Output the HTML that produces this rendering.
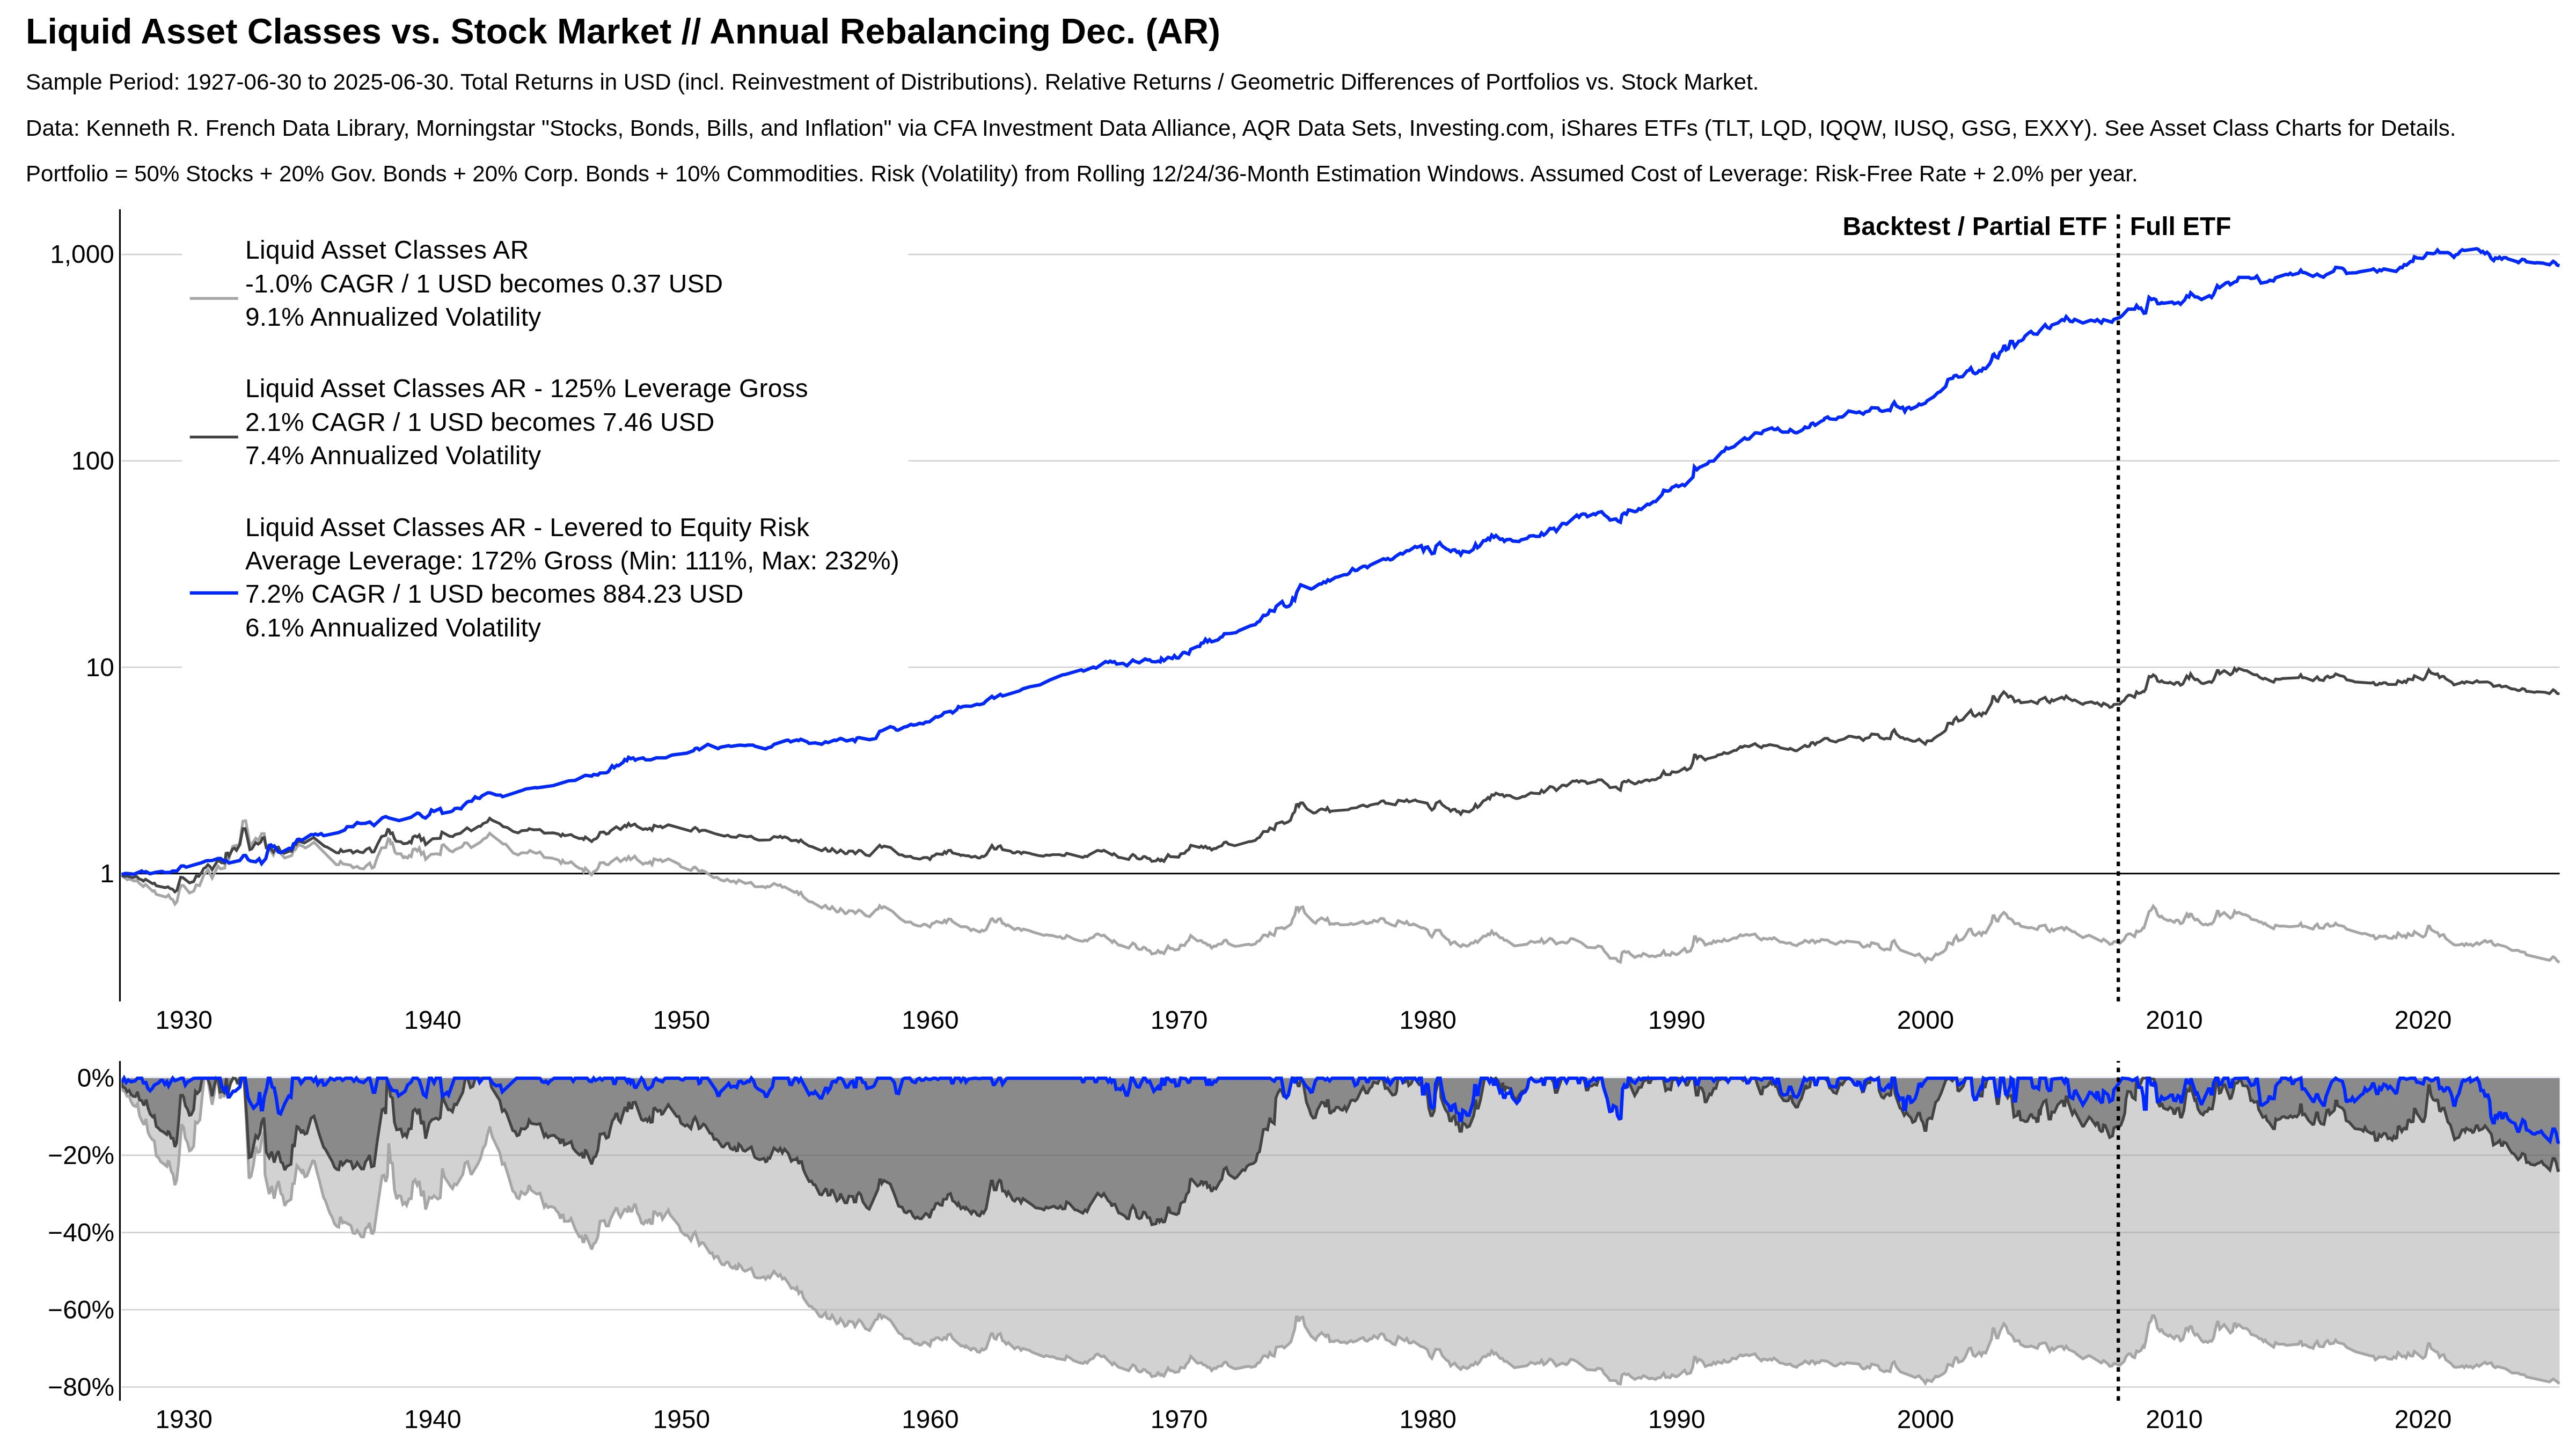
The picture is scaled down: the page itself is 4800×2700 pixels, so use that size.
<!DOCTYPE html>
<html><head><meta charset="utf-8"><title>Liquid Asset Classes vs. Stock Market</title>
<style>html,body{margin:0;padding:0;background:#fff}svg{display:block}</style></head>
<body>
<svg xmlns="http://www.w3.org/2000/svg" width="4800" height="2700" viewBox="0 0 4800 2700">
<rect width="4800" height="2700" fill="#fff"/>
<line x1="226.2" x2="4769.6" y1="474.1" y2="474.1" stroke="#d1d1d1" stroke-width="2.6"/>
<line x1="226.2" x2="4769.6" y1="858.7" y2="858.7" stroke="#d1d1d1" stroke-width="2.6"/>
<line x1="226.2" x2="4769.6" y1="1243.2" y2="1243.2" stroke="#d1d1d1" stroke-width="2.6"/>
<line x1="226.2" x2="4769.6" y1="1627.8" y2="1627.8" stroke="#000" stroke-width="3.1"/>
<clipPath id="cu"><rect x="226.2" y="390" width="4543.900000000001" height="1476"/></clipPath>
<g clip-path="url(#cu)" fill="none" stroke-linejoin="miter" stroke-miterlimit="2.5">
<path d="M226.2,1631.6 L237.5,1639.4 L240.6,1637.2 L250.0,1641.6 L254.7,1640.0 L259.4,1645.6 L267.2,1651.9 L271.2,1647.8 L284.4,1660.6 L287.5,1659.7 L291.2,1666.6 L309.4,1671.6 L314.1,1667.5 L318.1,1674.7 L321.9,1676.2 L325.9,1684.7 L329.7,1680.0 L334.4,1658.1 L337.5,1649.4 L342.2,1650.3 L353.1,1663.8 L360.9,1660.6 L365.6,1648.8 L371.9,1650.3 L379.7,1630.6 L387.5,1620.6 L395.3,1636.2 L406.2,1613.8 L410.9,1619.1 L418.8,1617.5 L421.2,1595.6 L426.6,1600.3 L433.8,1576.9 L440.0,1575.3 L442.2,1580.0 L446.9,1569.1 L452.5,1530.0 L457.8,1529.4 L461.9,1551.9 L466.2,1576.9 L476.6,1561.9 L481.2,1565.9 L487.5,1553.4 L492.2,1553.4 L496.2,1578.4 L504.7,1586.2 L509.4,1593.1 L513.4,1583.1 L518.8,1586.2 L525.0,1592.5 L530.6,1598.8 L543.8,1594.1 L548.4,1579.4 L550.6,1582.5 L556.2,1573.8 L564.1,1576.9 L568.8,1580.0 L575.0,1576.9 L585.0,1569.1 L626.6,1611.2 L631.2,1611.2 L634.4,1605.0 L639.1,1609.7 L653.1,1611.9 L657.8,1616.9 L665.6,1614.4 L670.3,1618.1 L677.5,1619.1 L682.8,1612.8 L689.1,1608.1 L693.1,1617.5 L696.9,1615.9 L703.1,1597.2 L710.9,1580.0 L718.8,1579.4 L723.4,1562.8 L726.6,1564.4 L728.1,1572.2 L731.2,1570.6 L735.9,1587.8 L739.1,1590.9 L746.9,1590.9 L751.6,1598.1 L754.7,1596.2 L759.4,1598.8 L762.5,1594.1 L766.2,1596.2 L769.4,1583.1 L773.4,1581.6 L777.5,1585.6 L781.2,1580.0 L785.0,1591.9 L789.1,1587.8 L793.1,1601.2 L803.1,1591.9 L814.1,1590.9 L820.3,1592.5 L823.4,1575.3 L826.6,1573.8 L837.5,1584.7 L843.8,1587.2 L848.4,1583.1 L860.9,1577.8 L865.6,1570.6 L870.3,1570.6 L878.1,1579.4 L895.3,1569.1 L901.6,1562.8 L906.2,1561.2 L912.5,1552.5 L918.8,1558.1 L931.2,1567.5 L937.5,1572.8 L942.2,1572.8 L956.2,1589.4 L965.6,1593.1 L971.9,1588.8 L982.8,1589.4 L987.5,1584.7 L995.3,1588.8 L1000.0,1590.0 L1006.2,1587.5 L1014.1,1597.8 L1028.1,1598.8 L1040.6,1602.5 L1045.3,1608.8 L1048.4,1603.1 L1052.5,1608.1 L1059.4,1608.1 L1064.1,1605.6 L1072.5,1613.4 L1079.7,1618.1 L1084.4,1618.8 L1087.5,1624.4 L1090.6,1617.5 L1102.5,1630.0 L1106.2,1624.4 L1110.9,1622.2 L1114.1,1618.1 L1118.1,1607.8 L1125.0,1607.2 L1129.7,1611.2 L1133.8,1611.2 L1137.5,1607.2 L1149.4,1598.4 L1156.2,1605.6 L1164.1,1599.4 L1167.2,1602.5 L1171.2,1596.2 L1175.0,1601.9 L1182.8,1595.3 L1187.5,1601.9 L1198.4,1610.3 L1203.1,1607.8 L1206.9,1608.8 L1210.9,1605.6 L1215.0,1611.2 L1218.8,1600.3 L1226.6,1603.1 L1230.6,1601.6 L1234.4,1605.6 L1245.3,1600.3 L1265.6,1610.3 L1268.8,1615.0 L1287.5,1622.2 L1292.2,1616.6 L1295.3,1615.6 L1299.4,1619.7 L1303.1,1624.4 L1307.8,1621.9 L1314.1,1624.4 L1329.7,1635.3 L1335.9,1634.7 L1342.2,1639.4 L1350.0,1641.6 L1354.7,1638.4 L1361.9,1643.1 L1367.2,1641.6 L1371.9,1645.6 L1376.6,1640.0 L1389.1,1646.2 L1399.4,1644.1 L1406.2,1651.9 L1410.0,1652.5 L1421.9,1651.9 L1426.6,1654.1 L1429.7,1651.6 L1433.8,1652.5 L1442.2,1646.2 L1450.0,1650.0 L1453.8,1648.8 L1457.8,1653.4 L1461.9,1652.5 L1480.6,1662.8 L1485.0,1661.2 L1488.1,1666.6 L1492.2,1662.8 L1496.9,1671.2 L1507.8,1680.0 L1512.5,1680.6 L1531.2,1691.6 L1538.1,1686.9 L1543.1,1693.1 L1546.9,1693.8 L1550.6,1689.4 L1559.4,1699.4 L1562.5,1698.8 L1566.2,1693.1 L1571.2,1697.8 L1575.0,1702.5 L1578.1,1701.6 L1581.9,1696.9 L1589.1,1697.2 L1593.8,1701.9 L1600.6,1695.6 L1604.7,1697.8 L1613.1,1706.2 L1620.3,1707.8 L1632.8,1694.7 L1635.9,1694.1 L1639.1,1687.8 L1643.1,1692.2 L1647.5,1689.4 L1662.5,1697.8 L1677.5,1711.9 L1686.9,1718.1 L1696.9,1718.1 L1701.6,1722.2 L1709.4,1725.0 L1715.6,1725.9 L1721.2,1722.2 L1725.0,1722.8 L1732.8,1727.5 L1736.9,1720.6 L1740.0,1720.3 L1745.3,1716.6 L1752.5,1719.1 L1756.2,1719.7 L1760.0,1715.0 L1763.1,1719.1 L1767.2,1712.5 L1771.2,1712.5 L1775.0,1717.2 L1781.2,1721.2 L1790.6,1726.9 L1793.8,1726.6 L1800.0,1726.9 L1804.7,1729.1 L1809.4,1733.8 L1813.1,1731.2 L1825.6,1736.9 L1829.7,1733.1 L1832.8,1734.7 L1837.5,1732.2 L1846.9,1712.5 L1849.4,1711.9 L1853.1,1717.5 L1856.2,1718.1 L1860.0,1712.8 L1864.1,1711.9 L1868.1,1720.6 L1871.2,1721.2 L1875.0,1725.0 L1878.1,1723.4 L1890.6,1732.2 L1895.3,1729.7 L1899.4,1730.0 L1903.1,1733.8 L1906.9,1731.2 L1912.5,1732.8 L1917.2,1733.8 L1923.4,1736.2 L1937.5,1740.6 L1945.3,1743.1 L1949.4,1741.6 L1956.2,1743.1 L1960.9,1743.1 L1970.3,1746.2 L1975.6,1745.3 L1979.7,1748.8 L1983.8,1748.4 L1987.5,1743.1 L1994.4,1746.2 L2000.0,1749.4 L2009.4,1752.5 L2017.8,1754.1 L2021.9,1751.6 L2025.6,1753.4 L2030.6,1748.8 L2037.5,1746.2 L2041.2,1741.6 L2045.3,1740.0 L2052.5,1743.8 L2056.9,1742.5 L2065.6,1750.0 L2069.4,1752.5 L2072.5,1756.2 L2075.6,1752.5 L2084.4,1761.2 L2087.5,1761.2 L2103.1,1766.6 L2110.9,1757.2 L2115.0,1759.7 L2118.8,1766.6 L2122.8,1769.1 L2126.6,1769.1 L2130.6,1765.0 L2133.8,1765.9 L2138.1,1770.6 L2142.2,1771.2 L2146.2,1777.5 L2154.1,1775.9 L2157.8,1771.2 L2161.9,1775.3 L2164.1,1773.8 L2168.8,1776.9 L2176.6,1762.8 L2180.6,1767.5 L2184.4,1767.2 L2189.1,1770.3 L2196.2,1769.1 L2200.0,1760.9 L2207.2,1761.9 L2210.9,1755.6 L2215.0,1751.9 L2218.8,1743.1 L2231.2,1753.4 L2238.4,1752.5 L2242.2,1756.6 L2246.2,1757.2 L2250.0,1760.9 L2253.8,1760.9 L2257.8,1766.6 L2261.9,1762.8 L2265.6,1763.4 L2269.7,1759.4 L2276.6,1758.8 L2281.2,1752.5 L2285.0,1751.9 L2289.1,1758.1 L2293.8,1760.3 L2300.9,1763.4 L2309.4,1762.5 L2320.3,1760.3 L2327.5,1759.4 L2331.2,1760.9 L2339.1,1758.8 L2343.1,1754.1 L2346.9,1753.1 L2354.1,1742.5 L2357.8,1742.2 L2362.5,1744.7 L2366.2,1737.8 L2370.3,1741.6 L2374.4,1743.1 L2378.1,1730.0 L2389.1,1728.4 L2393.1,1730.6 L2405.6,1722.2 L2408.8,1711.9 L2412.5,1705.6 L2415.6,1690.9 L2418.1,1690.9 L2420.3,1697.2 L2423.4,1691.6 L2427.5,1690.0 L2431.2,1700.9 L2435.3,1705.6 L2447.5,1718.1 L2451.6,1720.3 L2454.7,1715.6 L2462.5,1710.3 L2470.3,1715.0 L2473.4,1711.2 L2478.1,1722.2 L2481.2,1721.2 L2485.3,1722.2 L2489.1,1720.6 L2493.1,1720.6 L2497.8,1723.4 L2512.5,1722.8 L2517.2,1720.6 L2521.2,1722.8 L2528.1,1721.2 L2540.0,1716.6 L2543.8,1720.3 L2547.8,1721.2 L2553.1,1718.8 L2556.2,1718.8 L2560.0,1715.0 L2567.2,1717.5 L2571.2,1712.5 L2574.4,1711.2 L2578.1,1711.9 L2582.2,1718.8 L2585.9,1719.7 L2593.8,1723.8 L2597.8,1725.0 L2600.0,1725.6 L2605.6,1715.6 L2617.2,1720.9 L2621.2,1717.2 L2625.6,1723.4 L2629.7,1723.4 L2633.8,1721.6 L2648.4,1728.8 L2652.5,1728.8 L2659.4,1732.5 L2664.1,1742.2 L2668.1,1745.9 L2675.0,1733.4 L2682.8,1733.4 L2687.5,1742.2 L2695.3,1749.1 L2699.4,1751.6 L2703.1,1759.4 L2706.9,1756.2 L2710.9,1754.7 L2715.0,1759.4 L2721.9,1764.1 L2725.9,1760.0 L2733.8,1763.1 L2737.5,1760.9 L2741.2,1756.9 L2745.3,1757.5 L2749.4,1753.1 L2753.1,1756.2 L2757.2,1751.6 L2764.1,1744.4 L2768.8,1744.4 L2772.8,1740.3 L2775.9,1741.9 L2779.7,1735.0 L2783.8,1741.2 L2787.5,1739.1 L2795.3,1747.5 L2799.4,1747.5 L2803.1,1752.2 L2807.2,1752.2 L2821.9,1762.5 L2845.3,1759.4 L2852.5,1753.8 L2860.9,1756.2 L2865.0,1754.4 L2868.8,1755.3 L2872.5,1750.0 L2876.6,1757.5 L2880.6,1755.3 L2888.1,1748.4 L2892.2,1750.0 L2900.0,1759.1 L2904.7,1756.9 L2910.9,1755.3 L2918.8,1757.5 L2922.8,1754.4 L2926.6,1749.1 L2930.6,1749.1 L2946.2,1756.2 L2957.8,1765.3 L2972.8,1766.2 L2977.5,1762.5 L2984.4,1764.1 L2989.1,1771.9 L2995.3,1778.8 L3000.0,1785.6 L3010.9,1785.6 L3015.0,1791.2 L3019.4,1792.8 L3022.5,1775.0 L3026.6,1772.5 L3030.6,1774.7 L3034.4,1773.4 L3038.4,1778.1 L3046.2,1784.1 L3053.8,1780.3 L3057.8,1781.9 L3061.9,1776.6 L3065.6,1777.8 L3073.4,1782.5 L3077.5,1780.9 L3085.0,1782.8 L3089.1,1780.3 L3093.8,1780.3 L3100.0,1771.9 L3103.8,1779.7 L3107.8,1778.8 L3111.9,1780.3 L3115.6,1774.7 L3123.4,1778.8 L3127.5,1777.2 L3139.1,1767.2 L3143.1,1774.1 L3150.0,1771.9 L3154.1,1762.5 L3157.2,1745.3 L3159.4,1745.3 L3162.5,1753.8 L3166.2,1749.1 L3169.7,1750.6 L3173.4,1753.8 L3177.5,1760.9 L3185.9,1757.5 L3189.1,1758.4 L3193.1,1753.1 L3196.9,1755.9 L3200.6,1753.1 L3208.8,1754.7 L3212.5,1750.0 L3216.6,1753.1 L3220.3,1753.1 L3231.2,1747.5 L3235.3,1748.4 L3243.1,1741.9 L3246.9,1743.8 L3254.7,1741.2 L3258.8,1742.8 L3270.3,1740.3 L3274.4,1745.9 L3282.2,1751.6 L3285.9,1748.4 L3293.8,1750.0 L3297.8,1748.4 L3301.6,1750.0 L3305.6,1746.9 L3317.2,1755.3 L3321.2,1755.3 L3328.1,1757.5 L3335.9,1756.9 L3340.0,1760.0 L3347.8,1762.2 L3351.6,1759.1 L3359.4,1755.9 L3363.4,1752.2 L3371.2,1756.2 L3375.0,1752.2 L3378.1,1752.2 L3382.2,1756.9 L3385.9,1753.8 L3390.0,1754.4 L3393.8,1750.6 L3400.0,1751.6 L3405.6,1751.6 L3409.4,1755.0 L3421.2,1759.7 L3429.7,1754.1 L3433.8,1755.6 L3436.9,1756.6 L3440.6,1753.4 L3464.1,1756.2 L3468.1,1761.2 L3471.9,1765.0 L3475.9,1764.1 L3479.7,1760.9 L3483.8,1763.4 L3487.5,1756.6 L3499.4,1759.4 L3503.1,1765.9 L3510.9,1770.3 L3515.0,1768.1 L3521.9,1769.7 L3525.9,1755.0 L3529.7,1752.5 L3533.8,1761.2 L3541.2,1770.3 L3568.8,1780.6 L3575.9,1777.5 L3579.7,1782.2 L3583.8,1785.3 L3587.5,1791.6 L3591.2,1785.3 L3599.4,1788.4 L3607.2,1777.5 L3610.9,1779.1 L3621.9,1772.8 L3625.6,1769.1 L3629.7,1756.6 L3634.4,1757.8 L3638.4,1759.7 L3641.2,1750.3 L3645.3,1744.1 L3649.4,1753.1 L3656.9,1750.3 L3661.9,1744.1 L3668.8,1731.6 L3672.5,1731.2 L3676.6,1740.9 L3680.6,1743.1 L3688.1,1736.9 L3692.2,1742.5 L3695.3,1736.9 L3700.0,1738.4 L3710.9,1719.1 L3713.4,1706.6 L3715.6,1706.2 L3720.3,1715.9 L3722.8,1716.6 L3726.6,1708.1 L3733.8,1700.0 L3738.1,1703.4 L3742.2,1710.9 L3746.2,1711.9 L3750.0,1715.0 L3754.1,1721.2 L3761.9,1720.6 L3765.6,1725.9 L3780.6,1729.1 L3784.4,1728.1 L3796.2,1732.2 L3800.0,1725.9 L3810.9,1723.8 L3815.0,1732.2 L3819.4,1736.2 L3823.4,1731.2 L3826.6,1734.7 L3830.6,1731.6 L3842.2,1728.1 L3846.2,1732.8 L3850.0,1728.1 L3861.9,1736.2 L3865.6,1736.2 L3869.7,1740.0 L3881.2,1747.2 L3892.2,1742.5 L3896.9,1744.7 L3915.6,1754.1 L3919.7,1750.0 L3927.5,1755.6 L3931.2,1759.7 L3935.3,1758.8 L3939.1,1754.7 L3942.8,1754.7 L3950.0,1757.8 L3957.8,1750.9 L3961.9,1743.1 L3966.2,1740.0 L3969.7,1740.0 L3977.5,1745.3 L3981.2,1734.7 L3985.0,1736.2 L3989.1,1734.7 L3993.1,1729.1 L3995.0,1729.1 L3998.1,1719.1 L4004.4,1698.8 L4008.4,1695.6 L4012.2,1688.4 L4016.9,1694.1 L4020.6,1705.0 L4024.7,1708.8 L4027.8,1707.2 L4031.9,1711.9 L4040.3,1715.6 L4043.4,1714.1 L4051.2,1718.8 L4055.3,1714.4 L4059.1,1715.0 L4063.1,1721.2 L4067.5,1719.1 L4070.9,1710.9 L4074.7,1703.1 L4078.8,1710.3 L4080.3,1703.4 L4083.4,1703.4 L4086.6,1709.7 L4090.3,1714.4 L4094.4,1712.8 L4102.2,1721.2 L4105.9,1723.4 L4110.0,1721.9 L4113.8,1723.8 L4117.8,1721.2 L4120.9,1721.9 L4124.7,1717.5 L4128.8,1707.2 L4131.6,1697.8 L4133.4,1697.8 L4136.2,1706.6 L4144.4,1700.3 L4155.9,1710.9 L4160.0,1708.1 L4163.8,1697.8 L4167.5,1701.9 L4171.6,1700.0 L4179.4,1704.1 L4183.4,1704.1 L4191.2,1707.8 L4195.0,1712.8 L4205.3,1715.0 L4210.0,1718.1 L4213.8,1718.1 L4217.8,1721.9 L4220.6,1720.3 L4224.7,1724.4 L4236.6,1730.6 L4240.3,1723.8 L4248.1,1725.9 L4252.8,1725.3 L4267.5,1726.9 L4283.1,1725.3 L4287.2,1720.3 L4290.3,1726.9 L4295.0,1725.9 L4302.8,1729.1 L4310.0,1731.2 L4313.8,1725.3 L4317.8,1721.9 L4321.6,1729.1 L4329.4,1729.7 L4333.1,1723.4 L4337.2,1721.2 L4341.2,1725.9 L4348.1,1725.0 L4352.2,1720.3 L4355.9,1723.8 L4366.9,1725.9 L4372.5,1731.2 L4401.2,1740.0 L4405.9,1739.1 L4418.4,1743.8 L4422.5,1743.1 L4426.2,1749.4 L4430.3,1747.8 L4434.1,1744.1 L4437.2,1745.3 L4445.0,1744.1 L4449.7,1747.8 L4456.9,1748.8 L4460.6,1744.7 L4464.7,1747.2 L4468.4,1738.4 L4476.2,1745.3 L4480.0,1743.1 L4483.4,1746.9 L4487.2,1739.4 L4491.9,1743.1 L4495.9,1743.1 L4498.8,1735.9 L4514.7,1746.2 L4519.4,1743.1 L4524.7,1725.9 L4527.2,1725.9 L4530.0,1732.2 L4537.8,1736.9 L4541.9,1737.8 L4545.9,1744.7 L4549.7,1742.2 L4553.4,1741.6 L4557.5,1748.8 L4568.4,1757.2 L4572.5,1760.3 L4576.2,1761.2 L4584.1,1760.3 L4588.1,1758.8 L4591.9,1761.9 L4595.6,1758.1 L4599.7,1760.9 L4603.8,1759.4 L4607.5,1762.5 L4615.3,1756.6 L4619.4,1759.7 L4630.3,1752.5 L4634.1,1755.6 L4641.9,1753.4 L4645.9,1759.7 L4649.7,1761.9 L4653.8,1759.7 L4669.4,1764.1 L4680.9,1771.2 L4691.9,1770.6 L4696.6,1773.4 L4704.4,1774.4 L4707.5,1779.1 L4750.6,1789.4 L4757.5,1782.8 L4761.2,1785.3 L4765.3,1790.9 L4769.4,1793.1" stroke="#a6a6a6" stroke-width="5.2"/>
<path d="M226.2,1630.6 L231.2,1633.1 L237.5,1632.5 L246.9,1635.3 L254.7,1633.1 L259.4,1637.8 L264.1,1639.4 L267.2,1641.9 L271.2,1638.4 L284.4,1646.6 L287.5,1645.6 L291.2,1650.3 L307.8,1654.1 L313.1,1652.5 L317.2,1655.9 L321.2,1656.6 L325.9,1661.9 L329.7,1658.8 L336.6,1634.7 L340.6,1635.3 L353.1,1645.0 L360.9,1642.5 L365.6,1632.2 L370.3,1633.1 L375.0,1626.9 L379.7,1618.1 L382.8,1616.6 L387.5,1611.2 L391.2,1614.4 L395.3,1620.6 L406.2,1602.5 L412.5,1607.5 L418.8,1608.1 L421.2,1590.0 L424.4,1589.4 L426.6,1595.0 L433.8,1581.6 L436.9,1580.6 L440.6,1584.7 L446.9,1573.8 L452.5,1544.1 L456.9,1544.1 L460.9,1561.2 L465.6,1583.1 L469.4,1581.6 L476.6,1570.0 L481.2,1573.1 L485.9,1569.1 L489.1,1561.2 L492.2,1560.6 L496.2,1580.0 L504.7,1581.6 L509.4,1587.8 L514.1,1579.4 L518.8,1578.4 L522.5,1586.2 L529.7,1590.0 L539.1,1586.2 L543.8,1586.2 L548.4,1573.8 L551.6,1573.8 L554.7,1567.5 L559.4,1568.4 L567.2,1570.6 L584.4,1560.6 L604.7,1576.9 L609.4,1578.4 L626.6,1588.8 L631.2,1589.4 L635.0,1583.1 L639.1,1587.2 L650.0,1584.7 L653.8,1584.7 L657.8,1589.4 L665.6,1585.3 L670.3,1587.8 L676.6,1588.8 L682.8,1582.5 L688.4,1580.0 L693.1,1587.8 L696.9,1587.2 L703.1,1573.8 L710.9,1558.8 L718.8,1556.6 L722.5,1545.6 L725.0,1546.2 L727.5,1553.4 L731.2,1551.9 L735.0,1562.8 L738.1,1567.5 L746.9,1568.4 L751.6,1572.2 L759.4,1571.2 L763.1,1568.1 L766.2,1570.6 L769.4,1559.7 L773.4,1557.5 L777.5,1559.7 L781.2,1555.9 L785.0,1565.9 L789.1,1562.2 L793.1,1573.8 L806.2,1562.8 L820.3,1562.2 L823.4,1550.3 L837.5,1558.1 L843.8,1558.8 L848.4,1555.0 L857.8,1552.8 L870.3,1542.5 L878.1,1548.1 L892.2,1539.4 L895.3,1540.0 L900.0,1534.7 L907.8,1531.6 L912.5,1524.7 L917.2,1528.4 L931.2,1534.7 L937.5,1540.3 L945.3,1541.9 L956.2,1549.4 L965.6,1551.9 L971.9,1547.8 L982.8,1547.2 L985.9,1544.1 L993.8,1546.2 L1000.0,1546.2 L1006.2,1545.6 L1014.1,1552.5 L1031.2,1551.9 L1040.6,1554.1 L1045.3,1558.1 L1048.4,1554.1 L1052.5,1557.2 L1064.1,1555.0 L1069.4,1558.8 L1079.7,1562.5 L1084.4,1561.9 L1087.5,1564.4 L1090.6,1559.4 L1102.5,1568.1 L1106.2,1564.4 L1110.9,1562.8 L1114.1,1559.4 L1118.1,1550.9 L1125.0,1550.3 L1129.7,1554.1 L1133.8,1553.1 L1137.5,1548.4 L1148.4,1540.6 L1156.2,1545.6 L1164.1,1537.8 L1167.2,1540.6 L1171.2,1534.4 L1175.0,1539.1 L1182.8,1535.3 L1187.5,1540.0 L1198.4,1545.6 L1203.1,1544.1 L1206.2,1545.6 L1210.9,1543.1 L1215.0,1547.2 L1218.8,1537.8 L1226.6,1540.6 L1230.6,1539.4 L1234.4,1542.5 L1245.3,1536.9 L1265.6,1542.5 L1287.5,1548.8 L1292.2,1543.8 L1295.3,1541.9 L1299.4,1544.7 L1303.1,1549.4 L1307.8,1547.2 L1314.1,1547.2 L1334.4,1554.1 L1350.0,1558.1 L1356.2,1556.2 L1361.9,1559.4 L1371.9,1560.3 L1377.5,1556.2 L1392.2,1559.4 L1399.4,1558.1 L1406.2,1562.8 L1414.1,1565.6 L1434.4,1565.0 L1442.2,1558.8 L1450.0,1560.3 L1453.8,1558.1 L1457.8,1561.2 L1461.9,1559.4 L1467.2,1561.2 L1474.4,1566.6 L1483.8,1565.6 L1488.1,1568.8 L1492.2,1565.0 L1496.9,1569.7 L1507.8,1576.6 L1512.5,1577.5 L1531.2,1585.3 L1538.1,1580.6 L1543.1,1586.2 L1546.9,1585.9 L1550.6,1581.2 L1559.4,1589.1 L1562.5,1587.5 L1566.2,1583.8 L1571.2,1587.5 L1575.0,1590.9 L1578.1,1590.6 L1581.9,1585.9 L1589.1,1585.9 L1593.8,1590.9 L1600.6,1584.4 L1604.7,1585.3 L1613.1,1593.1 L1620.3,1594.7 L1639.1,1575.0 L1643.1,1579.1 L1647.5,1576.6 L1659.4,1579.1 L1675.0,1592.5 L1681.2,1593.1 L1686.9,1596.2 L1696.9,1595.6 L1701.6,1598.8 L1714.1,1600.9 L1721.2,1597.8 L1728.1,1597.8 L1732.8,1601.6 L1736.9,1595.3 L1740.0,1594.7 L1745.3,1590.9 L1756.2,1592.2 L1760.0,1586.9 L1763.1,1590.0 L1767.2,1584.7 L1771.2,1584.4 L1775.0,1589.4 L1787.5,1592.2 L1790.6,1594.1 L1793.8,1593.1 L1800.0,1594.7 L1804.7,1594.7 L1810.0,1597.2 L1817.2,1595.6 L1821.9,1598.4 L1825.6,1598.8 L1829.7,1595.6 L1832.8,1596.2 L1837.5,1593.1 L1848.4,1575.3 L1853.1,1582.2 L1856.2,1582.2 L1860.0,1577.5 L1864.1,1575.9 L1868.1,1583.1 L1882.8,1585.9 L1887.5,1589.4 L1891.2,1589.4 L1895.3,1586.9 L1899.4,1587.5 L1903.1,1590.6 L1906.9,1587.8 L1918.8,1590.0 L1923.4,1591.6 L1937.5,1594.7 L1944.4,1595.3 L1949.4,1593.1 L1956.2,1593.8 L1960.9,1592.5 L1975.0,1592.5 L1979.7,1594.1 L1983.8,1594.1 L1987.5,1590.0 L2003.1,1594.1 L2017.8,1597.8 L2021.9,1595.3 L2025.6,1596.2 L2030.6,1592.2 L2045.3,1584.4 L2052.5,1586.2 L2056.9,1584.4 L2068.8,1590.9 L2072.5,1593.1 L2075.6,1590.6 L2084.4,1597.8 L2087.5,1597.8 L2103.1,1601.6 L2107.8,1594.7 L2110.9,1592.2 L2115.0,1594.7 L2118.8,1599.4 L2122.8,1600.9 L2126.6,1600.3 L2130.6,1596.2 L2133.8,1596.2 L2138.1,1599.4 L2142.2,1600.0 L2146.2,1605.0 L2154.1,1604.1 L2157.8,1600.3 L2161.9,1604.1 L2164.1,1601.6 L2168.8,1605.0 L2176.6,1592.5 L2180.6,1596.2 L2196.2,1597.2 L2200.0,1590.9 L2207.2,1590.0 L2210.9,1585.3 L2215.0,1583.1 L2218.8,1575.0 L2235.0,1579.1 L2238.4,1576.6 L2242.2,1579.7 L2246.2,1576.9 L2250.0,1580.6 L2253.8,1579.7 L2257.8,1583.8 L2261.9,1581.2 L2265.6,1581.2 L2269.7,1578.4 L2276.6,1575.9 L2281.2,1569.7 L2285.0,1569.1 L2289.1,1572.8 L2300.9,1575.9 L2328.1,1568.1 L2331.2,1568.1 L2339.1,1565.9 L2343.1,1561.9 L2346.9,1560.3 L2354.1,1549.4 L2362.5,1549.4 L2366.2,1542.5 L2374.4,1546.2 L2378.1,1534.7 L2389.1,1531.2 L2393.1,1534.4 L2400.0,1531.6 L2404.7,1528.4 L2408.8,1516.6 L2412.5,1512.8 L2415.6,1499.4 L2418.1,1498.8 L2420.3,1502.5 L2423.4,1496.2 L2427.5,1496.2 L2435.3,1507.2 L2447.5,1515.0 L2451.6,1514.4 L2458.8,1508.8 L2462.5,1507.2 L2470.3,1509.4 L2473.4,1505.0 L2478.1,1512.8 L2481.2,1511.2 L2512.5,1508.8 L2517.2,1506.2 L2528.1,1505.0 L2532.8,1502.5 L2540.0,1500.0 L2543.8,1501.9 L2547.8,1503.1 L2553.1,1500.3 L2564.1,1497.8 L2567.2,1497.8 L2574.4,1492.5 L2578.1,1492.2 L2582.2,1496.9 L2585.9,1496.9 L2597.8,1499.4 L2600.0,1499.7 L2605.6,1491.2 L2617.2,1493.4 L2621.2,1490.3 L2625.6,1494.4 L2636.9,1490.6 L2640.6,1492.8 L2659.4,1496.6 L2664.1,1504.7 L2668.1,1509.4 L2672.5,1505.9 L2675.9,1496.6 L2682.8,1492.8 L2687.5,1499.7 L2695.3,1505.3 L2699.4,1506.9 L2703.1,1511.6 L2706.9,1508.4 L2710.9,1507.8 L2715.0,1512.5 L2718.1,1512.2 L2721.9,1517.2 L2725.9,1510.9 L2737.5,1513.1 L2745.3,1507.5 L2749.4,1499.1 L2753.1,1504.7 L2757.2,1501.2 L2764.1,1492.2 L2768.8,1490.3 L2772.8,1485.9 L2775.9,1488.8 L2779.7,1480.9 L2783.8,1481.9 L2787.5,1477.8 L2795.3,1481.2 L2799.4,1480.3 L2803.1,1484.4 L2807.2,1481.9 L2814.1,1482.5 L2818.8,1485.6 L2825.6,1488.1 L2830.6,1487.2 L2837.5,1484.1 L2841.2,1484.1 L2852.5,1477.2 L2857.8,1478.1 L2868.8,1478.8 L2872.5,1472.5 L2876.6,1476.6 L2880.6,1473.4 L2888.1,1465.6 L2892.2,1466.2 L2895.3,1467.8 L2900.0,1473.1 L2910.9,1463.1 L2915.0,1463.1 L2918.8,1464.7 L2930.6,1455.3 L2934.4,1455.9 L2938.1,1454.4 L2942.2,1457.5 L2946.2,1454.7 L2954.1,1456.2 L2957.8,1460.0 L2969.7,1456.9 L2972.8,1456.9 L2977.5,1453.1 L2984.4,1453.1 L2989.1,1457.5 L2995.3,1462.2 L3000.0,1467.8 L3010.9,1466.2 L3015.0,1470.0 L3019.4,1472.5 L3022.5,1458.4 L3026.6,1455.9 L3030.6,1456.9 L3034.4,1453.8 L3038.4,1456.9 L3046.2,1460.9 L3050.0,1459.4 L3053.8,1456.2 L3057.8,1457.8 L3065.6,1453.8 L3069.7,1453.1 L3073.4,1455.3 L3077.5,1452.8 L3085.0,1452.8 L3089.1,1450.0 L3093.8,1448.4 L3100.0,1437.2 L3103.8,1443.4 L3111.9,1443.4 L3115.6,1438.1 L3123.4,1439.1 L3127.5,1438.1 L3139.1,1430.9 L3143.1,1435.0 L3150.0,1431.2 L3154.1,1421.6 L3157.2,1406.9 L3159.4,1406.9 L3162.5,1413.1 L3166.2,1409.1 L3169.7,1409.1 L3177.5,1416.2 L3181.2,1413.8 L3196.9,1410.0 L3200.6,1406.9 L3208.8,1405.3 L3212.5,1402.2 L3216.6,1403.8 L3220.3,1403.8 L3231.2,1398.4 L3235.3,1398.1 L3243.1,1391.2 L3246.9,1392.2 L3250.9,1389.7 L3258.8,1391.2 L3270.3,1385.6 L3274.4,1389.1 L3282.2,1393.4 L3285.9,1389.7 L3290.6,1389.7 L3297.8,1387.5 L3312.5,1390.3 L3317.2,1393.4 L3332.2,1396.6 L3335.9,1394.4 L3343.8,1398.4 L3347.8,1399.1 L3363.4,1388.8 L3367.2,1391.2 L3371.2,1390.6 L3375.0,1384.1 L3378.1,1383.4 L3382.2,1387.5 L3385.9,1383.4 L3390.0,1382.8 L3400.0,1375.9 L3405.6,1375.9 L3409.4,1379.7 L3421.2,1382.8 L3425.6,1379.7 L3432.8,1378.1 L3436.9,1376.6 L3444.7,1371.9 L3448.4,1371.9 L3459.4,1374.4 L3464.1,1373.4 L3471.9,1379.7 L3475.9,1375.9 L3482.8,1374.4 L3487.5,1367.8 L3499.4,1368.8 L3503.1,1374.4 L3510.9,1377.2 L3515.0,1375.6 L3521.9,1376.6 L3525.9,1364.1 L3529.7,1360.0 L3533.8,1367.8 L3541.2,1374.1 L3545.3,1374.4 L3549.4,1377.5 L3553.1,1376.6 L3564.1,1381.2 L3568.8,1381.2 L3575.9,1377.2 L3579.7,1380.6 L3587.5,1386.6 L3591.2,1380.3 L3599.4,1380.3 L3603.1,1376.6 L3610.9,1370.9 L3615.0,1368.8 L3622.8,1363.4 L3625.6,1360.3 L3629.7,1347.8 L3634.4,1347.5 L3638.4,1349.1 L3641.2,1341.2 L3645.3,1336.9 L3649.4,1343.8 L3656.9,1341.2 L3661.9,1335.3 L3672.5,1323.4 L3676.6,1332.8 L3680.6,1335.0 L3688.1,1329.1 L3692.2,1333.4 L3695.3,1328.1 L3700.0,1329.7 L3710.9,1310.0 L3713.4,1297.8 L3715.6,1297.8 L3720.3,1306.2 L3722.8,1307.2 L3726.6,1298.4 L3733.8,1289.1 L3738.1,1293.1 L3742.2,1299.1 L3746.2,1296.9 L3750.0,1299.4 L3754.1,1307.8 L3761.9,1304.7 L3765.6,1309.4 L3780.6,1307.8 L3784.4,1306.2 L3796.2,1310.9 L3800.0,1304.7 L3810.9,1299.4 L3815.0,1306.2 L3819.4,1309.4 L3823.4,1303.8 L3826.6,1306.2 L3830.6,1303.8 L3842.2,1299.1 L3846.2,1302.5 L3850.0,1296.9 L3853.8,1300.6 L3861.9,1305.6 L3865.6,1304.1 L3877.5,1310.9 L3881.2,1312.5 L3885.0,1310.0 L3896.9,1307.8 L3903.8,1310.9 L3907.8,1309.4 L3915.6,1315.6 L3919.7,1310.3 L3927.5,1314.1 L3931.2,1318.1 L3935.3,1317.2 L3939.1,1312.5 L3950.0,1311.9 L3954.7,1307.2 L3957.8,1305.6 L3961.9,1299.1 L3966.2,1295.3 L3969.7,1295.3 L3977.5,1299.4 L3981.2,1289.1 L3985.0,1292.2 L3989.1,1291.2 L3993.1,1288.4 L3995.0,1288.8 L3998.1,1284.1 L4004.4,1260.3 L4009.1,1261.2 L4012.2,1257.5 L4016.9,1260.6 L4020.6,1269.1 L4024.7,1270.6 L4027.8,1268.4 L4031.9,1271.6 L4040.3,1272.8 L4043.4,1271.2 L4051.2,1275.3 L4055.3,1271.6 L4059.1,1271.6 L4063.1,1276.9 L4067.5,1274.4 L4074.7,1259.7 L4078.8,1264.4 L4081.9,1255.6 L4086.6,1262.8 L4090.3,1266.6 L4094.4,1265.9 L4102.2,1273.1 L4105.9,1273.8 L4116.9,1270.0 L4120.9,1271.6 L4124.7,1266.6 L4131.6,1249.4 L4133.4,1249.4 L4136.2,1255.6 L4144.4,1249.7 L4148.1,1251.9 L4155.9,1257.5 L4160.0,1254.4 L4163.8,1245.6 L4167.5,1250.3 L4171.6,1245.6 L4182.5,1249.7 L4186.2,1249.7 L4198.1,1256.6 L4202.2,1257.5 L4205.3,1257.2 L4210.0,1261.9 L4216.9,1265.3 L4220.6,1263.8 L4232.5,1269.7 L4236.6,1271.2 L4240.3,1265.3 L4248.1,1265.9 L4252.8,1264.4 L4283.1,1262.8 L4287.2,1257.2 L4290.3,1262.8 L4295.0,1262.8 L4310.0,1268.4 L4317.8,1261.2 L4321.6,1266.6 L4329.4,1268.1 L4333.1,1262.2 L4337.2,1259.7 L4341.2,1262.8 L4348.1,1260.6 L4352.2,1255.6 L4360.6,1259.1 L4364.7,1259.7 L4368.4,1261.2 L4372.5,1266.6 L4384.1,1269.1 L4388.1,1270.6 L4418.4,1272.8 L4422.5,1271.6 L4426.2,1276.2 L4430.3,1276.2 L4434.1,1273.1 L4437.2,1274.4 L4441.2,1272.2 L4445.0,1272.2 L4449.7,1275.3 L4464.7,1275.3 L4468.4,1268.4 L4476.2,1272.2 L4480.0,1269.1 L4483.4,1271.6 L4487.2,1265.3 L4495.9,1266.6 L4498.8,1259.1 L4514.7,1266.9 L4518.4,1263.8 L4525.6,1248.1 L4530.0,1254.1 L4537.8,1256.6 L4541.9,1255.6 L4545.9,1262.8 L4549.7,1260.3 L4553.4,1260.3 L4557.5,1265.0 L4568.4,1271.2 L4572.5,1276.2 L4584.1,1272.8 L4588.1,1270.6 L4591.9,1273.1 L4595.6,1270.0 L4607.5,1272.8 L4615.3,1268.4 L4619.4,1271.2 L4634.1,1270.6 L4638.1,1271.6 L4641.9,1273.8 L4646.6,1279.1 L4657.5,1276.9 L4661.6,1280.0 L4669.4,1278.4 L4677.2,1282.5 L4680.9,1283.8 L4685.0,1283.8 L4692.8,1286.9 L4696.6,1285.6 L4699.7,1283.1 L4704.4,1284.1 L4707.5,1288.4 L4712.2,1288.4 L4723.1,1290.0 L4727.2,1288.8 L4742.8,1290.0 L4750.6,1292.5 L4757.5,1285.3 L4761.2,1287.8 L4765.3,1292.5 L4769.4,1292.5" stroke="#444444" stroke-width="5.2"/>
<path d="M226.2,1629.4 L234.4,1627.5 L250.0,1628.8 L264.1,1622.8 L267.2,1625.6 L271.9,1624.1 L279.7,1628.1 L290.6,1625.3 L301.6,1623.8 L307.8,1625.9 L317.2,1625.3 L321.9,1622.8 L329.7,1623.1 L337.5,1613.8 L342.2,1613.4 L346.9,1615.9 L362.5,1611.2 L376.6,1607.2 L384.4,1603.8 L395.3,1603.4 L406.2,1599.7 L410.9,1599.7 L418.8,1605.0 L421.9,1603.8 L426.6,1608.1 L446.9,1603.4 L453.8,1594.1 L457.8,1594.1 L462.5,1601.9 L467.2,1604.4 L476.6,1605.9 L482.8,1600.3 L487.5,1609.1 L495.3,1599.7 L501.6,1575.3 L504.7,1574.4 L507.8,1577.8 L510.9,1576.2 L518.8,1587.8 L523.4,1588.8 L539.1,1580.6 L543.8,1581.6 L546.9,1572.2 L550.0,1571.2 L554.1,1564.4 L557.8,1563.8 L562.5,1565.9 L579.7,1555.0 L584.4,1555.6 L587.5,1554.1 L592.2,1555.9 L598.4,1553.4 L603.1,1557.2 L631.2,1551.2 L642.2,1546.6 L646.9,1540.3 L657.8,1540.3 L665.6,1532.5 L671.9,1534.7 L681.2,1534.1 L689.1,1531.6 L696.9,1538.4 L712.5,1523.8 L718.8,1521.6 L725.0,1524.4 L743.8,1529.1 L765.6,1523.1 L777.5,1515.0 L781.2,1515.9 L787.5,1522.2 L792.8,1524.4 L800.0,1518.1 L803.9,1509.2 L808.6,1511.9 L820.3,1506.4 L824.2,1515.5 L839.8,1512.6 L843.7,1510.8 L847.6,1506.4 L853.1,1505.9 L859.0,1507.2 L862.4,1502.5 L870.2,1494.7 L874.1,1493.1 L878.8,1493.1 L885.5,1484.9 L889.0,1486.9 L893.6,1487.7 L898.0,1483.0 L909.2,1477.1 L913.9,1477.5 L924.8,1481.4 L932.6,1481.7 L936.5,1484.6 L974.8,1472.1 L979.5,1470.2 L998.2,1467.4 L1000.0,1468.1 L1010.9,1466.6 L1031.2,1463.8 L1059.4,1455.0 L1071.9,1454.1 L1090.6,1444.7 L1102.5,1446.2 L1106.2,1443.1 L1114.1,1444.1 L1118.1,1440.3 L1129.7,1440.0 L1133.8,1437.8 L1140.6,1426.9 L1144.4,1430.6 L1149.4,1425.9 L1152.5,1426.9 L1160.9,1420.6 L1164.1,1415.3 L1168.1,1417.5 L1171.2,1411.2 L1175.6,1413.8 L1179.7,1412.2 L1183.8,1416.6 L1187.5,1414.4 L1198.4,1412.2 L1203.1,1415.9 L1212.5,1415.9 L1222.5,1412.2 L1240.6,1412.2 L1246.9,1409.1 L1252.5,1406.9 L1279.7,1403.4 L1292.2,1398.8 L1295.3,1394.7 L1299.4,1394.1 L1303.1,1397.2 L1318.8,1386.9 L1338.1,1395.0 L1342.2,1392.5 L1357.8,1389.4 L1361.9,1390.9 L1378.1,1388.4 L1389.1,1389.4 L1393.1,1388.4 L1403.1,1388.4 L1407.8,1390.9 L1426.6,1395.6 L1430.6,1393.4 L1437.5,1391.6 L1442.2,1386.9 L1465.6,1379.4 L1468.8,1379.1 L1473.4,1382.5 L1477.5,1380.6 L1485.0,1378.8 L1488.1,1380.0 L1492.2,1377.5 L1503.8,1382.2 L1507.8,1385.3 L1518.8,1384.1 L1531.2,1386.9 L1538.1,1382.2 L1543.1,1383.8 L1554.7,1379.1 L1557.8,1380.0 L1566.2,1375.9 L1569.4,1376.9 L1577.5,1380.6 L1589.1,1377.8 L1593.1,1381.6 L1596.9,1375.3 L1600.6,1374.4 L1620.3,1378.4 L1631.9,1375.9 L1639.1,1362.8 L1643.1,1361.9 L1658.8,1354.1 L1665.6,1355.9 L1670.3,1360.3 L1673.4,1360.6 L1685.9,1354.4 L1689.1,1354.1 L1697.5,1349.7 L1701.6,1351.2 L1707.8,1350.3 L1713.1,1347.8 L1720.3,1348.8 L1724.4,1345.6 L1731.9,1345.0 L1743.8,1335.6 L1747.5,1336.2 L1754.7,1333.1 L1759.4,1327.8 L1771.2,1325.3 L1775.0,1328.4 L1782.8,1322.2 L1785.9,1316.6 L1790.0,1318.4 L1793.8,1316.6 L1800.0,1315.6 L1809.4,1316.2 L1820.3,1312.2 L1825.0,1313.1 L1832.8,1310.9 L1837.5,1306.2 L1848.4,1297.5 L1852.5,1301.2 L1864.1,1293.8 L1868.1,1296.9 L1900.0,1287.2 L1906.2,1283.4 L1918.8,1279.7 L1937.5,1276.2 L1956.2,1267.2 L1979.7,1257.5 L1984.4,1256.9 L2015.0,1248.1 L2018.8,1250.6 L2037.5,1242.8 L2042.2,1245.0 L2060.0,1232.8 L2065.0,1234.4 L2068.8,1231.9 L2072.5,1234.1 L2076.6,1232.8 L2080.6,1237.5 L2092.2,1235.9 L2100.0,1240.6 L2110.9,1229.7 L2115.0,1232.5 L2122.8,1235.0 L2133.8,1227.8 L2138.1,1229.7 L2142.2,1229.4 L2146.2,1232.8 L2154.1,1233.4 L2157.8,1231.9 L2161.9,1233.4 L2164.1,1226.6 L2168.8,1231.2 L2176.6,1224.7 L2184.4,1227.2 L2188.4,1221.6 L2192.2,1226.2 L2196.2,1226.2 L2204.1,1216.2 L2207.2,1215.6 L2215.0,1218.8 L2218.8,1210.0 L2231.2,1204.7 L2235.3,1204.7 L2238.4,1198.4 L2242.2,1198.1 L2246.2,1191.2 L2250.0,1195.9 L2253.8,1191.9 L2257.8,1195.9 L2269.7,1192.2 L2274.4,1187.5 L2277.5,1186.6 L2281.2,1180.9 L2292.2,1180.3 L2303.1,1178.8 L2308.8,1175.0 L2331.2,1165.6 L2339.1,1163.8 L2343.1,1159.4 L2346.9,1157.8 L2354.1,1146.6 L2357.8,1146.9 L2362.5,1144.4 L2366.2,1137.2 L2374.4,1139.1 L2378.1,1129.7 L2389.1,1120.9 L2393.1,1128.8 L2396.9,1130.9 L2401.6,1129.7 L2405.6,1125.6 L2408.8,1114.7 L2412.5,1118.4 L2416.2,1103.8 L2423.4,1089.7 L2443.1,1097.5 L2446.9,1095.9 L2454.7,1090.6 L2458.8,1088.1 L2462.5,1088.1 L2466.6,1084.1 L2470.3,1085.6 L2474.4,1080.3 L2478.1,1082.5 L2482.2,1079.7 L2489.1,1075.6 L2493.1,1075.0 L2504.7,1070.9 L2509.4,1070.9 L2513.4,1068.8 L2520.3,1059.4 L2525.0,1063.1 L2529.1,1062.5 L2532.8,1059.4 L2540.0,1055.3 L2543.8,1054.7 L2547.8,1057.8 L2553.1,1053.1 L2578.1,1041.2 L2582.2,1042.8 L2585.9,1040.6 L2590.6,1043.4 L2594.7,1041.9 L2600.0,1037.2 L2609.4,1030.9 L2613.4,1032.5 L2621.2,1026.2 L2625.6,1026.2 L2636.9,1018.4 L2640.6,1020.0 L2648.4,1016.6 L2652.5,1026.9 L2656.2,1020.0 L2660.3,1019.1 L2668.1,1031.6 L2672.5,1030.6 L2675.9,1017.5 L2682.8,1011.2 L2687.5,1017.5 L2695.3,1023.1 L2699.4,1024.7 L2703.1,1027.8 L2706.9,1024.7 L2710.9,1024.4 L2715.0,1029.1 L2718.1,1027.8 L2721.9,1033.8 L2725.9,1026.9 L2737.5,1029.1 L2745.3,1023.8 L2749.4,1013.8 L2753.1,1020.6 L2757.2,1017.5 L2764.1,1007.5 L2768.8,1007.2 L2772.8,1002.8 L2775.9,1005.6 L2779.7,997.2 L2783.8,1001.2 L2787.5,997.8 L2795.3,1005.0 L2799.4,1004.1 L2803.1,1008.8 L2807.2,1005.6 L2814.1,1005.0 L2818.8,1008.1 L2830.6,1009.1 L2834.4,1005.9 L2845.3,1003.4 L2850.0,998.8 L2857.8,998.1 L2861.9,999.7 L2868.8,999.4 L2872.5,993.1 L2876.6,997.2 L2880.6,994.1 L2888.1,984.7 L2892.2,985.3 L2895.3,984.1 L2900.0,990.3 L2910.9,975.3 L2915.0,975.3 L2918.8,976.9 L2926.6,970.0 L2938.1,959.7 L2942.2,963.8 L2946.2,958.8 L2950.0,957.5 L2954.1,958.1 L2957.8,962.8 L2969.7,957.2 L2972.8,959.1 L2977.5,955.0 L2984.4,953.4 L2989.1,959.1 L2996.9,965.0 L3000.0,969.1 L3010.9,966.9 L3015.0,971.2 L3019.4,973.1 L3022.5,958.8 L3026.6,955.9 L3030.6,958.1 L3034.4,950.3 L3038.4,950.9 L3046.2,953.4 L3050.0,952.5 L3053.8,947.8 L3057.8,949.4 L3069.7,939.4 L3073.4,940.3 L3081.2,934.7 L3085.0,934.7 L3092.2,926.9 L3096.9,921.6 L3100.0,913.4 L3107.8,915.3 L3111.9,913.4 L3115.6,908.1 L3119.7,906.6 L3123.4,904.1 L3127.5,906.6 L3135.3,902.8 L3139.1,905.0 L3154.7,888.8 L3157.2,870.0 L3161.9,875.3 L3166.2,871.2 L3181.2,864.4 L3185.0,859.7 L3193.1,859.1 L3208.8,841.6 L3212.5,840.9 L3216.6,834.1 L3220.3,836.2 L3231.2,832.2 L3235.3,828.4 L3250.9,815.9 L3254.7,818.4 L3258.8,818.1 L3270.3,806.6 L3274.4,806.6 L3282.2,808.1 L3285.9,802.8 L3301.6,797.2 L3305.6,800.3 L3309.4,800.3 L3312.5,797.8 L3317.2,802.8 L3321.2,805.0 L3332.2,805.0 L3335.9,800.3 L3343.8,805.9 L3347.8,806.6 L3355.6,802.8 L3359.4,800.3 L3363.4,795.6 L3367.2,797.2 L3371.2,796.2 L3375.0,789.4 L3378.1,788.4 L3382.2,792.5 L3393.8,784.7 L3397.8,783.1 L3400.0,779.4 L3405.6,776.9 L3409.4,780.6 L3421.2,781.6 L3425.6,777.5 L3432.8,776.9 L3436.9,773.8 L3444.7,765.9 L3448.4,766.6 L3459.4,769.1 L3464.1,767.5 L3471.9,771.6 L3475.9,767.5 L3482.8,765.9 L3487.5,759.7 L3499.4,760.3 L3503.1,765.0 L3507.2,766.6 L3518.8,763.8 L3521.9,765.0 L3525.9,755.0 L3529.7,749.4 L3533.8,756.6 L3541.2,760.6 L3545.3,758.8 L3549.4,766.9 L3553.1,760.3 L3557.2,758.8 L3560.9,762.2 L3571.9,757.2 L3575.9,752.8 L3579.7,754.4 L3587.5,751.2 L3591.2,746.6 L3595.3,744.1 L3603.1,739.4 L3610.9,731.6 L3615.0,730.0 L3625.6,720.0 L3629.7,707.2 L3634.4,705.6 L3638.4,705.0 L3641.2,700.3 L3645.3,699.4 L3649.4,702.8 L3656.9,701.9 L3661.9,695.6 L3665.6,690.9 L3668.8,690.0 L3672.5,685.3 L3676.6,694.1 L3680.6,696.2 L3684.4,694.7 L3688.1,690.3 L3692.2,691.6 L3695.3,686.2 L3700.0,686.9 L3707.8,677.5 L3710.9,670.6 L3713.4,661.2 L3715.6,659.7 L3718.8,665.3 L3722.8,666.9 L3726.6,656.6 L3730.6,653.4 L3733.8,645.0 L3735.9,644.7 L3738.1,651.9 L3742.2,649.7 L3746.2,636.2 L3750.0,636.2 L3754.1,646.2 L3761.9,635.6 L3765.6,635.3 L3769.7,632.5 L3773.4,626.2 L3780.6,620.0 L3784.4,617.5 L3789.1,622.2 L3796.2,622.8 L3800.0,617.5 L3810.9,605.0 L3815.0,610.3 L3819.4,611.9 L3823.4,605.6 L3834.4,601.9 L3842.2,595.6 L3846.2,597.2 L3850.0,590.0 L3857.8,598.8 L3861.9,599.4 L3865.6,595.0 L3881.2,601.9 L3895.9,596.6 L3903.8,598.8 L3907.8,595.6 L3915.6,601.9 L3919.7,595.6 L3935.3,600.3 L3939.1,595.0 L3950.0,591.6 L3954.7,587.8 L3965.6,575.9 L3977.5,576.2 L3981.2,569.1 L3985.0,574.4 L3989.1,573.8 L3995.0,583.8 L3998.1,583.1 L4004.4,554.1 L4009.1,558.1 L4013.1,556.6 L4016.9,558.1 L4020.6,565.9 L4024.7,565.9 L4027.8,563.8 L4031.9,565.0 L4047.5,562.8 L4051.2,565.9 L4059.1,563.4 L4063.1,566.9 L4070.9,558.8 L4074.7,551.2 L4078.8,553.4 L4081.9,545.6 L4090.3,553.4 L4094.4,553.4 L4102.2,558.1 L4116.9,550.9 L4120.9,554.4 L4124.7,548.8 L4131.6,532.2 L4135.6,536.2 L4148.1,526.9 L4152.2,525.9 L4155.9,530.6 L4163.8,525.3 L4167.8,524.4 L4171.6,516.9 L4190.3,516.9 L4194.4,519.1 L4201.2,518.1 L4205.3,514.4 L4213.1,527.5 L4224.7,525.3 L4229.4,522.2 L4236.2,523.8 L4240.3,517.5 L4259.7,511.2 L4263.8,511.9 L4267.5,509.1 L4271.6,512.2 L4283.1,509.1 L4287.2,503.4 L4290.3,507.5 L4295.0,508.1 L4310.0,515.0 L4317.8,510.6 L4321.6,513.4 L4329.4,516.6 L4334.1,512.2 L4348.1,505.6 L4352.2,498.1 L4364.7,499.7 L4368.4,502.8 L4372.5,509.7 L4376.2,508.8 L4391.2,508.1 L4395.9,506.6 L4418.4,502.8 L4422.5,500.9 L4429.4,506.6 L4434.1,502.8 L4437.2,504.4 L4441.9,501.2 L4464.7,505.9 L4472.5,498.1 L4476.2,498.8 L4480.0,493.1 L4484.1,494.1 L4491.9,487.2 L4495.9,487.2 L4498.8,478.4 L4503.8,480.6 L4514.7,481.6 L4518.4,477.8 L4522.5,471.6 L4534.1,472.8 L4537.8,471.2 L4541.9,465.9 L4545.9,470.6 L4561.2,470.6 L4564.7,472.2 L4572.5,479.4 L4576.2,474.7 L4580.0,473.8 L4584.1,468.4 L4588.1,465.3 L4591.9,466.9 L4615.3,463.4 L4618.4,465.0 L4623.1,470.0 L4626.2,468.4 L4630.3,472.8 L4634.1,470.0 L4638.1,473.8 L4641.9,481.6 L4646.6,485.6 L4649.7,480.6 L4654.4,481.6 L4657.5,479.1 L4661.6,483.1 L4665.3,480.0 L4669.4,480.0 L4673.1,482.5 L4688.8,487.2 L4692.8,489.4 L4699.7,483.1 L4704.4,484.1 L4707.5,487.8 L4723.1,490.0 L4727.2,489.4 L4738.8,490.3 L4742.8,491.6 L4750.6,493.4 L4757.5,486.9 L4761.2,489.4 L4765.3,494.1 L4769.4,495.0" stroke="#0028ff" stroke-width="6.25"/>
</g>
<line x1="3947.2" x2="3947.2" y1="1866" y2="390" stroke="#000" stroke-width="6.25" stroke-dasharray="8.6 9.4"/>
<rect x="339" y="400" width="1353.5" height="862" fill="#fff"/>
<line x1="353.7" x2="443.8" y1="556.2" y2="556.2" stroke="#a6a6a6" stroke-width="5.2"/>
<line x1="353.7" x2="443.8" y1="814.4" y2="814.4" stroke="#444444" stroke-width="5.2"/>
<line x1="353.7" x2="443.8" y1="1104.8" y2="1104.8" stroke="#0028ff" stroke-width="6.25"/>
<line x1="223.45" x2="223.45" y1="390" y2="1866" stroke="#000" stroke-width="3.1"/>
<line x1="226.2" x2="4769.6" y1="2007.5" y2="2007.5" stroke="#e8ebf5" stroke-width="3"/>
<line x1="226.2" x2="4769.6" y1="2152.6" y2="2152.6" stroke="#d1d1d1" stroke-width="2.6"/>
<line x1="226.2" x2="4769.6" y1="2296.6" y2="2296.6" stroke="#d1d1d1" stroke-width="2.6"/>
<line x1="226.2" x2="4769.6" y1="2440.5" y2="2440.5" stroke="#d1d1d1" stroke-width="2.6"/>
<line x1="226.2" x2="4769.6" y1="2584.5" y2="2584.5" stroke="#d1d1d1" stroke-width="2.6"/>
<clipPath id="cl"><rect x="226.2" y="1977" width="4543.900000000001" height="633"/></clipPath>
<g clip-path="url(#cl)" stroke-linejoin="miter" stroke-miterlimit="2.5">
<path d="M226.2,2022.5 L228.8,2031.9 L232.8,2034.4 L236.9,2042.8 L240.6,2042.2 L244.4,2053.1 L248.4,2060.0 L252.5,2061.6 L256.2,2056.9 L260.0,2078.8 L264.1,2088.1 L268.1,2095.9 L271.9,2085.0 L275.9,2110.0 L279.7,2117.8 L284.4,2124.1 L287.5,2125.6 L291.2,2153.8 L295.3,2156.9 L299.4,2164.7 L303.1,2167.2 L310.9,2173.4 L313.1,2163.8 L315.0,2164.7 L318.8,2181.9 L322.5,2188.1 L325.9,2208.4 L329.1,2199.1 L332.8,2167.8 L338.4,2095.0 L342.2,2100.6 L345.3,2120.9 L349.4,2128.8 L353.1,2144.4 L356.2,2142.8 L360.9,2135.6 L364.1,2090.6 L367.8,2092.8 L372.5,2086.6 L376.6,2044.4 L380.6,2009.0 L386.9,2010.0 L391.2,2035.0 L395.3,2058.4 L399.4,2036.6 L403.1,2009.0 L406.2,2011.6 L410.0,2046.9 L414.1,2038.1 L418.1,2044.4 L421.9,2009.0 L425.0,2025.6 L429.7,2019.4 L434.4,2009.0 L439.1,2010.0 L443.1,2020.9 L446.9,2009.0 L454.7,2009.0 L460.0,2110.0 L464.1,2195.9 L468.1,2191.2 L472.5,2169.4 L476.6,2136.6 L480.6,2147.5 L484.4,2145.9 L487.5,2124.1 L492.2,2108.4 L493.8,2188.1 L501.6,2225.0 L506.2,2210.0 L510.9,2233.4 L515.6,2210.0 L518.8,2200.6 L523.4,2224.1 L526.6,2227.2 L530.6,2246.9 L534.4,2239.7 L542.2,2235.0 L545.3,2205.9 L548.4,2205.3 L553.1,2171.9 L556.2,2175.6 L561.9,2184.1 L564.1,2178.8 L568.1,2192.8 L571.9,2191.2 L582.8,2163.1 L585.9,2164.1 L590.6,2183.4 L595.3,2200.6 L603.1,2231.9 L606.2,2236.6 L614.1,2259.4 L618.8,2267.8 L623.4,2280.3 L627.5,2285.0 L631.2,2286.6 L634.4,2267.2 L638.4,2278.8 L642.2,2277.2 L653.8,2283.4 L657.8,2297.5 L661.9,2298.4 L665.6,2292.8 L673.4,2304.7 L677.5,2304.7 L681.2,2288.8 L685.0,2286.6 L688.4,2278.8 L692.2,2297.5 L694.7,2298.4 L696.9,2294.4 L703.1,2250.6 L711.9,2191.2 L715.6,2189.7 L718.8,2202.2 L721.9,2191.2 L724.4,2130.3 L728.1,2166.2 L731.2,2167.2 L735.0,2216.2 L739.1,2234.1 L742.8,2228.1 L746.9,2228.8 L750.6,2244.4 L754.7,2240.6 L757.8,2245.9 L761.9,2234.1 L766.2,2233.4 L769.7,2202.2 L773.4,2198.4 L777.5,2208.4 L781.2,2200.6 L785.0,2228.8 L789.1,2218.8 L793.1,2253.8 L800.0,2230.9 L804.7,2232.8 L808.8,2228.1 L815.6,2234.1 L820.3,2231.9 L824.4,2177.2 L828.1,2192.8 L839.1,2210.0 L843.1,2214.7 L846.9,2206.2 L850.9,2207.8 L862.5,2188.1 L866.6,2167.2 L871.2,2164.7 L878.1,2189.1 L890.6,2168.4 L895.3,2158.4 L900.0,2140.3 L904.7,2132.5 L907.8,2116.2 L912.5,2099.1 L917.2,2117.8 L931.2,2147.5 L935.9,2169.4 L940.0,2167.8 L947.8,2192.8 L955.6,2219.4 L959.4,2222.5 L963.4,2231.9 L967.2,2233.4 L971.2,2220.9 L978.1,2225.6 L982.8,2220.9 L985.9,2208.4 L990.0,2217.8 L1000.0,2225.0 L1006.2,2223.1 L1014.1,2249.1 L1017.2,2244.4 L1021.2,2250.0 L1025.6,2248.1 L1032.8,2250.0 L1037.5,2256.9 L1040.6,2260.0 L1044.4,2270.9 L1046.2,2264.1 L1049.4,2264.1 L1051.6,2275.6 L1060.3,2275.6 L1064.1,2270.3 L1071.9,2290.6 L1079.7,2304.7 L1083.8,2303.8 L1085.9,2313.8 L1088.4,2313.8 L1090.6,2302.2 L1092.2,2302.8 L1102.5,2328.1 L1106.2,2317.8 L1110.0,2314.7 L1114.1,2303.8 L1118.1,2275.6 L1125.9,2274.1 L1129.7,2284.4 L1133.8,2284.4 L1137.5,2271.9 L1147.5,2251.6 L1150.0,2252.2 L1152.5,2261.6 L1156.2,2267.8 L1164.1,2253.1 L1167.2,2253.8 L1168.8,2259.4 L1171.2,2249.1 L1172.8,2249.7 L1175.0,2256.9 L1177.5,2256.9 L1182.2,2244.4 L1184.4,2245.0 L1187.5,2260.0 L1190.6,2264.7 L1195.3,2278.8 L1199.1,2280.9 L1203.1,2275.0 L1206.2,2277.8 L1210.0,2270.9 L1212.5,2279.7 L1215.6,2279.7 L1218.1,2257.8 L1220.3,2257.8 L1225.6,2264.7 L1228.8,2260.9 L1231.2,2261.6 L1234.4,2271.9 L1245.3,2254.7 L1248.4,2263.1 L1265.0,2283.4 L1268.8,2294.4 L1276.6,2301.6 L1280.6,2301.6 L1287.5,2311.6 L1292.2,2299.1 L1295.3,2295.9 L1299.4,2308.4 L1303.1,2320.3 L1307.8,2315.3 L1310.9,2316.2 L1322.8,2335.0 L1326.6,2334.4 L1330.6,2344.4 L1334.4,2341.2 L1337.5,2341.2 L1342.2,2351.6 L1345.3,2356.2 L1349.4,2356.9 L1354.1,2351.6 L1357.2,2352.2 L1360.9,2360.0 L1365.6,2363.1 L1369.7,2359.1 L1371.9,2364.7 L1374.4,2364.1 L1376.6,2355.3 L1380.6,2359.4 L1384.4,2366.2 L1388.4,2368.8 L1400.0,2363.1 L1406.2,2379.4 L1410.0,2381.2 L1417.2,2381.2 L1423.4,2378.8 L1426.6,2383.4 L1431.2,2378.1 L1434.4,2381.2 L1442.2,2368.8 L1450.0,2378.1 L1453.8,2375.0 L1457.8,2383.4 L1461.9,2381.2 L1468.8,2390.6 L1474.4,2400.6 L1478.1,2399.7 L1482.8,2402.8 L1485.0,2399.1 L1488.4,2410.0 L1490.6,2406.9 L1493.8,2406.9 L1496.9,2417.8 L1501.6,2425.0 L1507.8,2433.8 L1511.9,2434.4 L1515.6,2439.1 L1518.8,2440.0 L1527.5,2453.1 L1531.2,2453.8 L1538.1,2446.2 L1541.2,2456.2 L1546.9,2457.8 L1550.6,2450.9 L1559.4,2466.6 L1562.5,2465.0 L1566.2,2457.2 L1570.3,2463.1 L1574.4,2471.2 L1578.1,2469.4 L1581.9,2461.9 L1589.1,2463.4 L1593.1,2471.9 L1600.6,2459.4 L1604.7,2462.5 L1612.5,2475.6 L1620.3,2479.1 L1631.2,2459.4 L1635.3,2457.8 L1637.5,2449.4 L1640.0,2449.4 L1643.1,2456.2 L1646.9,2452.2 L1658.8,2460.0 L1662.5,2465.0 L1674.4,2483.4 L1681.2,2487.5 L1685.3,2493.8 L1696.9,2495.3 L1701.6,2500.9 L1705.6,2503.8 L1709.4,2503.1 L1713.4,2506.2 L1717.2,2505.6 L1721.2,2500.9 L1725.0,2501.6 L1732.8,2507.8 L1735.9,2496.9 L1740.0,2496.9 L1743.8,2493.1 L1747.8,2492.2 L1751.6,2495.3 L1755.6,2496.9 L1759.4,2492.2 L1763.4,2495.3 L1766.2,2486.9 L1771.2,2485.9 L1775.0,2493.8 L1790.6,2507.8 L1794.7,2507.8 L1798.4,2510.3 L1800.0,2507.8 L1804.7,2511.9 L1809.4,2515.6 L1813.1,2511.9 L1817.2,2513.4 L1821.2,2518.8 L1825.6,2519.7 L1829.7,2513.4 L1832.8,2515.6 L1837.5,2512.5 L1846.9,2485.0 L1849.4,2485.0 L1852.5,2493.8 L1856.2,2495.3 L1859.4,2486.9 L1864.1,2485.0 L1868.1,2498.4 L1871.2,2499.4 L1875.0,2504.7 L1878.8,2501.6 L1890.6,2513.4 L1894.7,2510.3 L1898.4,2510.3 L1902.5,2516.2 L1906.2,2512.5 L1912.5,2514.7 L1918.1,2516.2 L1923.4,2519.7 L1937.5,2525.0 L1945.3,2528.1 L1949.4,2525.9 L1956.2,2528.1 L1962.5,2528.1 L1968.8,2531.2 L1984.4,2533.8 L1987.5,2526.6 L1995.3,2531.2 L2000.0,2535.0 L2009.4,2538.4 L2017.8,2540.6 L2021.9,2537.5 L2025.6,2540.0 L2030.6,2533.8 L2037.5,2530.6 L2041.2,2525.0 L2045.3,2522.8 L2052.5,2528.1 L2056.9,2526.6 L2065.6,2535.9 L2069.4,2539.1 L2072.5,2543.1 L2075.6,2539.1 L2084.4,2547.8 L2087.5,2548.4 L2103.1,2554.1 L2110.9,2543.1 L2115.0,2545.3 L2118.8,2553.1 L2122.8,2556.2 L2126.6,2556.2 L2130.6,2551.6 L2133.8,2552.5 L2138.1,2557.2 L2142.2,2558.4 L2146.2,2565.0 L2154.1,2563.4 L2157.8,2557.8 L2161.9,2562.5 L2164.1,2560.9 L2168.8,2564.1 L2176.6,2549.1 L2180.6,2554.1 L2184.4,2554.1 L2189.1,2557.2 L2196.2,2556.2 L2200.0,2547.8 L2207.2,2549.1 L2210.9,2541.6 L2215.0,2537.5 L2218.8,2527.2 L2231.2,2540.0 L2238.4,2539.1 L2242.2,2543.1 L2246.2,2543.8 L2250.0,2547.8 L2253.8,2547.8 L2257.8,2553.8 L2261.9,2549.4 L2265.6,2550.0 L2269.7,2545.9 L2276.6,2545.3 L2281.2,2538.4 L2285.0,2538.1 L2289.1,2544.7 L2293.8,2547.5 L2300.9,2550.6 L2309.4,2549.4 L2320.3,2546.9 L2327.5,2545.9 L2331.2,2547.8 L2339.1,2545.9 L2343.1,2540.0 L2346.9,2539.1 L2354.1,2526.6 L2357.8,2525.9 L2362.5,2529.1 L2366.2,2520.3 L2370.3,2525.9 L2374.4,2527.2 L2378.1,2510.3 L2389.1,2508.4 L2393.1,2511.6 L2401.6,2504.1 L2405.6,2500.0 L2408.8,2488.4 L2412.5,2476.6 L2415.6,2453.8 L2418.1,2453.8 L2420.3,2462.5 L2423.4,2455.6 L2427.5,2454.1 L2431.2,2470.3 L2435.3,2477.2 L2443.1,2489.7 L2451.6,2496.9 L2454.7,2490.6 L2462.5,2483.4 L2470.3,2490.6 L2471.9,2487.5 L2475.0,2487.5 L2478.1,2500.0 L2481.2,2499.1 L2485.3,2500.0 L2489.1,2497.8 L2493.1,2497.8 L2497.8,2501.6 L2505.6,2500.6 L2509.4,2503.1 L2517.2,2497.8 L2521.2,2500.6 L2528.1,2498.4 L2532.8,2495.3 L2540.0,2492.2 L2543.8,2497.8 L2547.8,2499.1 L2553.1,2494.7 L2556.2,2494.7 L2560.0,2489.1 L2567.2,2493.8 L2571.2,2486.6 L2574.4,2485.0 L2578.1,2486.6 L2582.2,2495.9 L2585.9,2497.5 L2590.0,2499.1 L2593.8,2503.1 L2597.8,2505.3 L2600.0,2505.6 L2605.6,2490.6 L2617.2,2498.4 L2621.2,2493.8 L2625.6,2502.5 L2629.7,2502.5 L2633.8,2499.4 L2648.4,2509.4 L2652.5,2510.0 L2659.4,2514.7 L2664.1,2526.6 L2668.1,2531.2 L2675.0,2514.1 L2682.8,2514.7 L2687.5,2525.9 L2695.3,2534.4 L2699.4,2536.9 L2703.1,2545.3 L2706.9,2542.2 L2710.9,2540.0 L2715.0,2545.9 L2721.9,2551.6 L2725.9,2546.9 L2733.8,2550.0 L2737.5,2547.8 L2741.2,2543.1 L2745.3,2543.8 L2749.4,2538.4 L2753.1,2542.2 L2757.2,2537.5 L2761.9,2529.7 L2765.6,2527.2 L2768.8,2528.1 L2772.8,2523.4 L2775.9,2525.0 L2779.7,2517.2 L2783.8,2523.4 L2787.5,2520.9 L2795.3,2531.2 L2799.4,2531.2 L2803.1,2536.6 L2807.2,2536.6 L2821.9,2548.4 L2845.3,2544.7 L2852.5,2538.4 L2860.9,2541.6 L2865.0,2539.1 L2868.8,2540.0 L2872.5,2534.4 L2876.6,2542.8 L2880.6,2540.6 L2888.1,2532.2 L2892.2,2534.4 L2900.0,2545.3 L2904.7,2542.8 L2910.9,2540.0 L2918.8,2542.8 L2922.8,2539.1 L2926.6,2532.8 L2930.6,2533.4 L2938.1,2536.9 L2950.0,2546.2 L2957.8,2552.2 L2972.8,2553.1 L2977.5,2549.4 L2984.4,2550.9 L2989.1,2559.4 L2995.3,2565.6 L3000.0,2572.5 L3010.9,2572.5 L3015.0,2578.1 L3019.4,2578.8 L3022.5,2561.9 L3026.6,2559.4 L3030.6,2561.6 L3034.4,2560.3 L3038.4,2564.7 L3046.2,2570.3 L3053.8,2566.6 L3057.8,2568.1 L3061.9,2563.4 L3065.6,2564.7 L3073.4,2569.4 L3077.5,2567.8 L3085.0,2570.3 L3089.1,2567.2 L3093.8,2567.2 L3100.0,2558.8 L3103.8,2566.6 L3107.8,2565.6 L3111.9,2567.2 L3115.6,2561.6 L3123.4,2565.6 L3127.5,2563.4 L3139.1,2553.1 L3143.1,2560.3 L3150.0,2558.4 L3154.1,2547.8 L3157.2,2528.8 L3159.4,2528.8 L3162.5,2537.5 L3166.2,2532.8 L3169.7,2534.4 L3173.4,2538.1 L3177.5,2546.2 L3185.9,2542.8 L3189.1,2543.8 L3193.1,2538.4 L3196.9,2541.6 L3200.6,2537.5 L3208.8,2540.0 L3212.5,2534.4 L3216.6,2538.1 L3220.3,2538.1 L3224.4,2535.9 L3228.1,2530.6 L3235.3,2532.2 L3239.1,2527.5 L3243.1,2524.4 L3246.9,2526.6 L3254.7,2524.1 L3258.8,2525.9 L3270.3,2522.5 L3274.4,2528.8 L3282.2,2535.9 L3285.9,2532.2 L3293.8,2534.4 L3297.8,2532.2 L3301.6,2534.4 L3305.6,2530.3 L3317.2,2540.0 L3321.2,2540.0 L3328.1,2542.8 L3335.9,2541.6 L3340.0,2545.3 L3347.8,2547.8 L3351.6,2543.8 L3359.4,2540.0 L3363.4,2535.9 L3371.2,2541.2 L3375.0,2535.9 L3378.1,2535.9 L3382.2,2541.6 L3385.9,2538.1 L3390.0,2539.1 L3393.8,2535.0 L3400.0,2535.9 L3405.6,2536.9 L3417.2,2544.7 L3421.2,2545.3 L3429.7,2539.7 L3433.8,2541.6 L3436.9,2542.2 L3440.6,2539.1 L3464.1,2541.6 L3468.1,2547.5 L3471.9,2550.9 L3475.9,2550.0 L3479.7,2546.2 L3483.8,2549.1 L3487.5,2541.6 L3499.4,2544.7 L3503.1,2552.2 L3510.9,2556.2 L3515.0,2554.1 L3521.9,2555.6 L3525.9,2540.6 L3529.7,2537.5 L3533.8,2547.5 L3541.2,2556.2 L3568.8,2566.6 L3575.9,2563.4 L3579.7,2568.1 L3583.8,2571.9 L3587.5,2577.5 L3591.2,2571.2 L3599.4,2574.1 L3607.2,2564.1 L3610.9,2565.6 L3621.9,2559.4 L3625.6,2555.3 L3629.7,2542.2 L3634.4,2543.1 L3638.4,2545.3 L3641.2,2535.9 L3643.8,2529.7 L3646.9,2530.3 L3649.4,2538.4 L3656.9,2535.9 L3661.9,2528.8 L3668.8,2512.5 L3672.5,2511.9 L3676.6,2525.0 L3680.6,2527.5 L3688.1,2519.7 L3692.2,2525.9 L3695.3,2519.7 L3700.0,2521.2 L3710.9,2494.7 L3713.4,2475.9 L3715.6,2475.9 L3720.3,2492.8 L3722.8,2493.1 L3726.6,2481.2 L3733.8,2466.6 L3738.1,2471.9 L3742.2,2483.8 L3746.2,2485.9 L3750.0,2490.0 L3754.1,2499.1 L3761.9,2497.8 L3765.6,2505.3 L3773.4,2509.4 L3780.6,2509.4 L3784.4,2507.8 L3796.2,2512.5 L3800.0,2504.7 L3807.2,2502.2 L3811.9,2502.5 L3819.4,2518.1 L3823.4,2511.9 L3826.6,2515.6 L3834.4,2509.4 L3842.2,2508.4 L3846.2,2514.1 L3850.0,2508.4 L3854.7,2514.7 L3865.6,2519.4 L3869.7,2523.4 L3881.2,2531.9 L3892.2,2525.9 L3896.9,2528.1 L3915.6,2539.7 L3919.7,2535.0 L3927.5,2541.2 L3931.2,2545.9 L3935.3,2545.3 L3939.1,2540.6 L3950.0,2543.8 L3957.8,2536.9 L3961.9,2527.2 L3966.2,2522.8 L3969.7,2522.8 L3973.4,2528.1 L3977.5,2529.7 L3981.2,2517.2 L3985.0,2518.8 L3989.1,2516.6 L3993.1,2508.8 L3995.0,2512.5 L3998.1,2500.0 L4004.4,2465.6 L4008.4,2460.9 L4010.6,2451.6 L4013.8,2451.6 L4016.9,2459.4 L4020.0,2474.4 L4024.7,2480.6 L4027.8,2477.5 L4031.9,2484.4 L4040.3,2489.7 L4043.4,2487.5 L4051.2,2494.7 L4055.3,2489.1 L4059.1,2490.0 L4063.1,2498.4 L4067.5,2495.3 L4070.9,2484.4 L4073.1,2475.0 L4075.6,2475.0 L4077.8,2479.1 L4080.3,2471.9 L4083.4,2471.9 L4086.6,2482.2 L4090.3,2488.1 L4094.4,2485.9 L4102.2,2497.8 L4105.9,2500.9 L4110.0,2499.1 L4113.8,2501.6 L4117.8,2498.4 L4120.9,2499.4 L4124.7,2493.1 L4127.8,2478.1 L4131.6,2463.4 L4133.4,2463.4 L4136.2,2476.6 L4144.4,2468.1 L4155.9,2483.8 L4160.0,2480.3 L4162.8,2467.2 L4165.3,2466.6 L4167.5,2472.5 L4171.6,2468.1 L4176.2,2471.9 L4179.4,2475.0 L4183.4,2475.0 L4187.2,2475.9 L4191.2,2480.3 L4195.0,2486.9 L4199.1,2487.5 L4205.3,2490.0 L4210.0,2494.7 L4213.8,2494.7 L4217.8,2500.0 L4220.6,2496.9 L4224.7,2502.2 L4236.6,2510.3 L4240.3,2501.6 L4245.0,2504.7 L4255.9,2504.7 L4260.0,2506.9 L4267.5,2506.2 L4283.1,2504.7 L4285.6,2499.4 L4287.8,2499.4 L4290.3,2507.2 L4295.0,2505.6 L4302.8,2510.3 L4307.5,2510.9 L4310.0,2512.5 L4313.8,2504.7 L4317.8,2499.4 L4321.6,2508.8 L4329.4,2509.4 L4333.1,2500.9 L4337.2,2497.8 L4341.2,2504.1 L4348.1,2503.1 L4352.2,2496.9 L4355.9,2501.6 L4366.9,2504.1 L4372.5,2510.3 L4387.2,2517.8 L4391.9,2519.4 L4418.4,2526.6 L4422.5,2526.6 L4426.2,2533.8 L4434.1,2528.1 L4437.2,2529.1 L4445.0,2528.1 L4449.7,2531.9 L4456.9,2532.8 L4460.6,2528.1 L4464.7,2530.6 L4468.4,2520.3 L4476.2,2528.1 L4480.0,2526.6 L4483.4,2530.3 L4487.2,2521.2 L4491.9,2526.6 L4495.9,2526.6 L4498.8,2518.1 L4514.7,2531.2 L4519.4,2527.5 L4524.7,2503.8 L4527.2,2503.8 L4530.0,2512.5 L4537.8,2518.1 L4541.9,2519.7 L4545.9,2529.1 L4549.7,2525.0 L4553.4,2524.1 L4557.5,2533.8 L4565.3,2539.1 L4568.4,2542.2 L4572.5,2546.9 L4576.2,2547.8 L4584.1,2546.9 L4588.1,2545.3 L4591.9,2548.4 L4595.6,2544.4 L4599.7,2547.5 L4603.8,2545.9 L4607.5,2549.1 L4615.3,2542.8 L4619.4,2545.9 L4630.3,2538.1 L4634.1,2541.6 L4641.9,2539.1 L4645.9,2545.9 L4649.7,2548.4 L4653.8,2546.2 L4669.4,2550.6 L4680.9,2558.4 L4691.9,2558.4 L4696.6,2560.9 L4704.4,2561.9 L4707.5,2565.6 L4750.6,2575.0 L4757.5,2569.4 L4762.2,2572.8 L4769.4,2578.1 L4769.4,2009 L226.2,2009 Z" fill="#a6a6a6" fill-opacity="0.5" stroke="none"/>
<path d="M226.2,2014.7 L228.8,2025.6 L232.8,2027.2 L236.9,2034.4 L240.6,2031.9 L244.4,2039.7 L248.4,2042.8 L252.5,2043.4 L256.2,2034.4 L260.0,2049.7 L264.1,2050.6 L268.1,2060.0 L272.5,2049.1 L275.9,2064.7 L279.7,2075.6 L284.4,2081.2 L287.5,2078.8 L291.2,2099.1 L295.3,2102.2 L299.4,2106.9 L303.1,2108.4 L310.9,2114.1 L313.1,2108.4 L315.0,2109.4 L318.8,2120.9 L322.5,2120.9 L325.9,2137.2 L329.1,2129.7 L332.8,2091.2 L336.6,2041.2 L340.0,2040.6 L342.2,2044.4 L345.3,2060.0 L349.4,2066.9 L353.1,2078.1 L356.2,2077.2 L360.9,2067.8 L364.1,2033.4 L367.8,2037.5 L372.5,2031.9 L376.6,2010.0 L381.2,2009.0 L386.9,2009.4 L391.2,2021.9 L395.3,2042.8 L399.4,2022.5 L403.1,2009.0 L406.2,2010.6 L410.0,2035.0 L414.1,2033.4 L418.1,2036.6 L421.9,2009.0 L425.0,2038.1 L429.7,2017.8 L434.4,2009.0 L439.1,2010.0 L443.1,2019.4 L446.9,2009.0 L454.7,2009.0 L460.0,2085.0 L464.1,2156.9 L468.1,2155.3 L472.5,2135.0 L476.6,2116.2 L480.6,2120.9 L484.4,2111.6 L487.5,2091.2 L491.6,2082.8 L493.8,2111.6 L496.2,2146.9 L501.6,2156.9 L506.2,2145.9 L510.9,2166.2 L515.6,2150.6 L518.8,2145.0 L523.4,2165.3 L526.6,2167.2 L530.6,2180.3 L534.4,2173.4 L542.2,2169.4 L545.3,2131.9 L548.4,2137.2 L553.1,2099.1 L556.2,2100.6 L561.9,2111.6 L564.1,2105.3 L568.1,2113.1 L571.9,2111.6 L579.7,2083.4 L585.0,2079.7 L590.6,2099.1 L595.3,2114.7 L603.1,2138.1 L606.2,2141.2 L618.8,2164.1 L623.4,2175.0 L627.5,2178.8 L631.2,2179.7 L634.4,2163.1 L638.4,2170.9 L646.2,2162.2 L650.0,2164.1 L653.8,2164.1 L657.8,2177.2 L661.9,2174.1 L665.6,2166.2 L673.4,2178.1 L677.5,2178.1 L681.2,2164.7 L685.0,2160.0 L688.4,2152.2 L692.2,2174.1 L696.9,2172.5 L703.1,2125.6 L711.9,2067.8 L715.6,2065.6 L718.8,2075.6 L721.2,2014.7 L724.4,2017.8 L727.5,2042.8 L731.2,2045.9 L735.0,2091.2 L739.1,2105.3 L746.9,2103.8 L750.6,2117.2 L754.7,2113.1 L757.8,2117.8 L761.9,2103.8 L766.2,2103.1 L769.7,2070.0 L773.4,2066.9 L777.5,2073.4 L781.2,2066.2 L785.0,2094.4 L789.1,2089.1 L793.1,2121.6 L800.0,2092.8 L804.7,2086.6 L812.5,2083.4 L817.2,2085.9 L820.3,2082.8 L824.4,2041.2 L828.1,2052.2 L835.3,2067.8 L839.1,2067.8 L843.1,2071.6 L846.9,2057.5 L850.9,2058.4 L862.5,2035.0 L867.2,2009.0 L871.2,2009.0 L876.6,2026.6 L881.2,2024.1 L885.9,2009.0 L912.5,2009.0 L915.6,2025.6 L931.2,2050.6 L935.9,2070.9 L940.0,2067.8 L943.8,2074.1 L955.6,2106.9 L959.4,2107.8 L963.4,2116.2 L967.2,2114.7 L971.2,2103.1 L978.1,2103.8 L982.8,2099.1 L985.9,2087.2 L990.0,2093.4 L1000.0,2095.0 L1006.2,2093.8 L1014.1,2117.8 L1017.2,2113.1 L1021.2,2119.4 L1025.6,2116.2 L1032.8,2115.3 L1037.5,2120.3 L1040.6,2121.6 L1044.4,2131.2 L1046.2,2124.1 L1049.4,2124.1 L1051.6,2133.4 L1060.3,2129.4 L1064.1,2127.2 L1068.1,2139.7 L1072.5,2145.3 L1079.7,2152.2 L1083.8,2149.1 L1085.9,2156.2 L1088.4,2156.2 L1090.6,2143.8 L1092.2,2144.4 L1102.5,2169.4 L1106.2,2156.9 L1110.0,2154.7 L1114.1,2142.8 L1118.1,2113.1 L1121.9,2113.1 L1125.9,2111.6 L1129.7,2120.9 L1133.8,2118.8 L1137.5,2102.2 L1141.2,2088.1 L1144.4,2084.4 L1147.5,2075.6 L1150.0,2075.6 L1152.5,2086.6 L1156.2,2091.2 L1164.1,2064.7 L1167.2,2064.7 L1168.8,2071.9 L1171.2,2055.3 L1172.8,2055.3 L1175.0,2064.7 L1177.5,2064.7 L1179.7,2054.4 L1183.8,2053.8 L1195.3,2085.9 L1199.1,2088.1 L1203.1,2085.0 L1206.2,2089.1 L1210.0,2082.8 L1212.5,2091.2 L1215.6,2090.6 L1218.1,2065.6 L1220.3,2064.7 L1225.6,2070.9 L1228.8,2068.8 L1231.2,2069.4 L1232.8,2076.2 L1235.0,2075.6 L1245.3,2058.4 L1260.9,2080.3 L1265.0,2080.3 L1268.8,2092.8 L1276.6,2098.4 L1280.6,2095.9 L1287.5,2103.1 L1292.2,2086.6 L1295.3,2081.9 L1299.4,2091.2 L1302.5,2103.1 L1304.7,2102.2 L1310.9,2094.4 L1314.1,2096.9 L1322.8,2111.6 L1326.6,2112.5 L1330.6,2123.1 L1334.4,2122.5 L1338.1,2125.6 L1345.3,2136.6 L1348.4,2137.2 L1354.1,2130.3 L1357.2,2130.3 L1360.9,2139.7 L1365.6,2142.2 L1368.8,2138.1 L1371.9,2144.4 L1374.4,2143.8 L1376.6,2131.9 L1380.6,2135.6 L1384.4,2143.4 L1388.4,2145.0 L1400.0,2137.2 L1406.2,2156.2 L1409.4,2158.4 L1415.6,2160.9 L1423.4,2158.4 L1426.6,2164.7 L1429.1,2163.8 L1431.2,2157.5 L1434.4,2158.4 L1442.2,2139.1 L1450.0,2145.3 L1453.8,2139.7 L1457.8,2148.4 L1461.9,2141.2 L1468.8,2149.1 L1474.4,2163.8 L1478.1,2160.9 L1482.8,2160.9 L1485.0,2158.4 L1488.4,2168.8 L1490.6,2164.7 L1493.8,2164.7 L1496.9,2178.8 L1501.6,2189.7 L1507.8,2201.6 L1511.9,2200.6 L1515.6,2207.5 L1518.8,2207.5 L1527.5,2225.6 L1531.2,2226.6 L1538.1,2215.6 L1540.0,2216.2 L1542.8,2227.2 L1546.9,2226.6 L1549.1,2217.8 L1551.6,2217.8 L1554.7,2225.0 L1559.4,2237.5 L1564.1,2233.4 L1566.2,2224.1 L1574.4,2241.2 L1578.1,2241.2 L1581.9,2228.8 L1589.1,2229.4 L1591.6,2239.7 L1594.7,2239.7 L1596.9,2227.2 L1600.6,2222.5 L1604.1,2226.2 L1607.8,2239.1 L1611.9,2245.3 L1615.6,2250.6 L1619.7,2253.1 L1635.9,2216.2 L1639.1,2198.4 L1641.2,2198.4 L1643.1,2205.3 L1646.9,2199.7 L1658.8,2206.2 L1666.6,2225.6 L1674.4,2247.5 L1681.2,2249.7 L1685.3,2258.4 L1689.1,2260.0 L1693.1,2256.9 L1696.9,2256.9 L1701.6,2266.2 L1705.6,2270.3 L1709.4,2267.8 L1713.4,2270.9 L1717.2,2270.9 L1725.0,2260.9 L1729.7,2264.1 L1732.2,2269.4 L1736.9,2254.4 L1740.0,2253.1 L1743.8,2242.8 L1747.8,2241.9 L1751.6,2245.3 L1755.6,2245.9 L1757.8,2235.0 L1764.1,2234.1 L1766.2,2226.2 L1771.2,2224.1 L1775.0,2237.5 L1779.1,2239.7 L1783.8,2245.9 L1785.9,2241.9 L1790.6,2252.2 L1794.7,2249.1 L1798.4,2252.8 L1800.0,2250.0 L1804.7,2254.7 L1810.0,2261.6 L1813.1,2256.2 L1817.2,2257.8 L1821.2,2264.1 L1825.6,2265.6 L1829.7,2257.8 L1832.8,2260.6 L1837.5,2252.2 L1846.9,2200.6 L1849.4,2200.6 L1852.5,2217.2 L1856.2,2217.2 L1859.4,2203.8 L1862.5,2199.1 L1865.0,2200.6 L1868.1,2219.4 L1871.9,2219.4 L1875.9,2227.2 L1878.8,2220.9 L1882.8,2227.2 L1886.9,2235.9 L1890.6,2238.1 L1894.7,2233.4 L1898.4,2233.4 L1902.5,2241.2 L1906.2,2233.4 L1923.4,2245.3 L1929.7,2250.6 L1940.6,2252.2 L1945.3,2254.4 L1949.4,2249.1 L1953.1,2251.2 L1964.1,2247.5 L1968.1,2250.6 L1971.9,2251.6 L1975.9,2247.5 L1979.7,2252.8 L1984.4,2252.2 L1987.5,2239.7 L1992.2,2242.2 L2003.1,2254.4 L2006.2,2254.7 L2017.8,2260.6 L2021.9,2254.4 L2025.6,2257.8 L2030.6,2246.6 L2045.3,2223.4 L2052.5,2229.7 L2056.9,2224.1 L2065.0,2237.5 L2068.8,2240.6 L2071.9,2248.1 L2073.4,2243.8 L2077.5,2243.8 L2084.4,2260.0 L2087.5,2260.9 L2095.3,2265.3 L2100.0,2270.9 L2103.1,2270.9 L2106.9,2254.4 L2110.9,2246.9 L2115.0,2253.1 L2118.8,2267.8 L2122.8,2270.9 L2126.6,2269.4 L2130.6,2258.4 L2133.8,2259.4 L2138.1,2268.8 L2142.2,2268.8 L2146.2,2281.9 L2154.1,2280.3 L2156.2,2272.5 L2159.4,2272.5 L2160.9,2276.6 L2164.1,2272.5 L2167.2,2277.2 L2170.3,2276.6 L2175.0,2259.4 L2176.6,2250.6 L2178.1,2250.6 L2180.6,2259.4 L2192.2,2263.1 L2196.2,2260.9 L2200.0,2242.8 L2204.1,2239.7 L2207.2,2239.1 L2210.9,2225.6 L2215.0,2220.9 L2218.1,2197.5 L2220.3,2196.9 L2231.2,2210.0 L2235.3,2207.8 L2238.4,2201.6 L2240.6,2202.2 L2242.2,2206.9 L2245.3,2202.8 L2247.8,2202.8 L2250.0,2212.2 L2253.8,2209.4 L2256.9,2218.8 L2258.8,2218.8 L2261.9,2213.1 L2265.6,2215.3 L2273.4,2201.2 L2276.6,2197.5 L2280.6,2178.8 L2285.0,2175.6 L2289.1,2187.2 L2292.2,2190.3 L2300.9,2195.9 L2304.7,2193.4 L2315.6,2179.7 L2319.7,2180.9 L2323.4,2173.4 L2327.5,2170.3 L2335.9,2167.8 L2340.0,2163.8 L2343.1,2149.7 L2346.9,2145.9 L2350.0,2128.8 L2354.1,2104.7 L2357.8,2103.8 L2361.9,2105.3 L2366.2,2082.8 L2368.8,2089.7 L2374.4,2093.8 L2377.5,2045.9 L2381.2,2036.6 L2385.0,2030.3 L2387.5,2031.2 L2391.6,2042.8 L2395.3,2044.4 L2400.6,2039.7 L2407.8,2009.0 L2414.1,2009.0 L2418.8,2023.4 L2421.2,2023.4 L2424.4,2009.4 L2428.1,2016.2 L2431.2,2035.0 L2434.4,2053.8 L2439.1,2065.6 L2443.1,2077.8 L2446.9,2083.4 L2450.9,2082.5 L2454.7,2068.8 L2458.8,2060.9 L2462.5,2053.8 L2466.6,2054.4 L2468.8,2060.9 L2471.2,2060.9 L2472.8,2050.6 L2475.0,2050.6 L2477.5,2073.4 L2479.7,2074.1 L2484.4,2069.4 L2485.9,2070.0 L2490.0,2063.1 L2493.8,2063.1 L2498.4,2067.8 L2501.6,2068.8 L2505.6,2062.5 L2508.8,2069.4 L2513.4,2060.0 L2517.2,2050.6 L2521.2,2049.7 L2525.0,2051.6 L2529.1,2047.5 L2535.9,2032.8 L2540.0,2025.6 L2545.3,2036.6 L2548.4,2036.6 L2552.5,2028.1 L2556.2,2025.0 L2559.4,2016.2 L2567.2,2018.8 L2571.2,2010.0 L2575.0,2009.4 L2578.1,2014.7 L2581.2,2028.1 L2585.3,2027.2 L2594.7,2040.6 L2598.4,2039.7 L2600.0,2039.2 L2602.3,2033.7 L2604.7,2009.0 L2610.9,2009.0 L2614.0,2018.1 L2619.5,2015.4 L2621.1,2011.8 L2622.6,2012.6 L2625.0,2022.8 L2629.7,2018.9 L2632.8,2011.8 L2636.7,2009.0 L2640.6,2015.0 L2644.5,2021.2 L2646.8,2021.2 L2648.4,2013.4 L2650.7,2038.4 L2653.8,2038.4 L2655.9,2024.3 L2658.1,2025.9 L2662.4,2064.9 L2666.3,2079.0 L2668.7,2079.0 L2672.6,2069.6 L2674.9,2036.8 L2678.8,2021.2 L2681.1,2013.4 L2683.5,2009.0 L2685.0,2044.6 L2689.7,2058.7 L2693.6,2068.0 L2698.3,2074.3 L2701.4,2088.3 L2704.6,2088.6 L2706.9,2082.1 L2710.8,2079.0 L2713.1,2094.6 L2717.0,2092.2 L2720.2,2107.8 L2723.3,2107.8 L2725.6,2092.2 L2730.3,2095.3 L2733.4,2100.5 L2738.1,2098.5 L2745.9,2079.0 L2747.9,2068.0 L2749.8,2049.0 L2751.1,2064.9 L2754.5,2064.9 L2758.4,2050.9 L2762.3,2030.6 L2765.4,2013.4 L2768.5,2009.0 L2771.7,2009.0 L2775.6,2017.3 L2778.7,2009.0 L2782.6,2011.8 L2787.3,2009.0 L2791.9,2015.0 L2796.6,2030.6 L2798.2,2020.4 L2800.5,2019.7 L2802.1,2029.8 L2804.1,2032.1 L2806.0,2025.6 L2815.4,2029.0 L2820.0,2043.1 L2826.3,2049.3 L2831.0,2039.9 L2835.6,2033.7 L2838.0,2032.9 L2841.6,2031.8 L2845.8,2025.9 L2848.9,2011.8 L2853.1,2009.0 L2859.8,2015.0 L2863.0,2015.7 L2869.2,2014.2 L2872.3,2010.3 L2873.9,2011.1 L2875.4,2021.2 L2877.8,2021.2 L2880.1,2009.0 L2890.3,2009.0 L2894.9,2017.3 L2898.1,2035.3 L2901.2,2035.3 L2905.9,2021.2 L2909.8,2010.3 L2914.5,2009.0 L2919.1,2016.8 L2923.0,2009.0 L2938.6,2009.0 L2941.0,2017.3 L2943.3,2017.3 L2945.7,2009.0 L2950.3,2009.0 L2953.5,2018.1 L2955.8,2030.9 L2958.9,2030.9 L2962.0,2023.6 L2965.9,2023.6 L2970.6,2020.4 L2973.0,2021.2 L2975.3,2022.0 L2978.4,2012.6 L2980.8,2009.0 L2984.7,2009.0 L2987.8,2025.9 L2994.8,2048.5 L2999.5,2072.7 L3000.0,2071.9 L3003.9,2070.4 L3006.2,2061.0 L3011.7,2064.1 L3014.0,2079.7 L3017.2,2085.2 L3020.3,2084.4 L3023.4,2029.8 L3026.5,2022.8 L3028.9,2026.7 L3032.0,2025.9 L3035.1,2013.4 L3038.2,2023.6 L3046.0,2041.5 L3050.7,2033.7 L3053.8,2026.7 L3058.5,2025.9 L3062.4,2015.0 L3067.1,2012.6 L3070.2,2009.0 L3071.8,2017.3 L3074.9,2017.3 L3078.0,2010.3 L3099.1,2009.5 L3103.8,2032.1 L3107.7,2029.0 L3113.1,2030.6 L3116.3,2012.6 L3120.9,2011.8 L3128.0,2009.5 L3135.0,2009.0 L3138.1,2013.4 L3142.0,2022.0 L3144.4,2022.0 L3149.8,2010.3 L3156.1,2009.0 L3160.7,2040.7 L3163.9,2040.7 L3166.2,2025.9 L3170.9,2027.5 L3174.8,2036.8 L3177.1,2053.2 L3179.5,2053.2 L3185.7,2038.4 L3188.8,2039.9 L3193.5,2028.2 L3197.4,2028.2 L3201.3,2013.4 L3209.1,2010.3 L3213.8,2011.1 L3220.0,2015.7 L3224.7,2009.0 L3243.4,2009.0 L3248.1,2013.4 L3251.2,2009.0 L3255.1,2017.8 L3258.3,2017.3 L3263.0,2009.0 L3271.5,2010.3 L3274.7,2021.2 L3280.9,2038.4 L3283.2,2038.4 L3285.6,2025.9 L3289.5,2025.9 L3294.2,2022.8 L3298.8,2015.7 L3302.0,2020.4 L3305.9,2017.3 L3308.2,2024.3 L3311.3,2025.1 L3316.0,2039.6 L3323.8,2050.9 L3329.3,2051.6 L3332.4,2050.9 L3335.2,2043.1 L3337.9,2043.1 L3340.2,2054.0 L3346.4,2063.0 L3349.6,2062.6 L3353.5,2052.4 L3356.6,2047.7 L3362.0,2029.8 L3364.4,2022.0 L3366.7,2027.5 L3372.2,2025.1 L3374.5,2011.1 L3379.2,2009.0 L3382.3,2021.2 L3384.7,2021.2 L3388.6,2009.0 L3400.0,2009.5 L3405.5,2015.0 L3409.4,2027.5 L3412.5,2029.0 L3416.4,2035.3 L3421.8,2037.6 L3428.9,2018.9 L3432.8,2021.2 L3439.0,2011.8 L3445.3,2009.0 L3449.9,2011.8 L3456.2,2021.2 L3460.1,2022.0 L3461.6,2016.5 L3465.5,2018.1 L3470.2,2034.5 L3472.6,2033.7 L3476.5,2021.2 L3480.4,2017.3 L3484.3,2017.3 L3486.6,2009.0 L3491.3,2012.6 L3495.2,2011.8 L3499.9,2009.0 L3501.4,2032.1 L3506.1,2043.8 L3510.0,2046.2 L3514.7,2039.2 L3518.6,2038.4 L3520.9,2041.5 L3523.3,2040.7 L3525.6,2013.4 L3528.0,2009.0 L3531.1,2038.4 L3540.4,2064.9 L3542.8,2065.7 L3548.3,2078.2 L3552.2,2072.7 L3556.1,2078.2 L3560.7,2082.9 L3563.9,2091.4 L3568.5,2089.1 L3574.0,2074.3 L3577.1,2074.3 L3579.5,2085.2 L3583.4,2092.2 L3586.5,2106.3 L3588.8,2106.3 L3591.2,2086.8 L3595.1,2083.3 L3599.8,2084.4 L3606.8,2054.0 L3611.5,2049.3 L3617.7,2035.3 L3621.6,2024.3 L3625.5,2013.4 L3630.2,2009.0 L3634.1,2011.1 L3638.0,2014.2 L3641.9,2009.5 L3645.8,2009.0 L3648.1,2032.1 L3650.5,2032.9 L3654.4,2029.0 L3658.3,2023.6 L3660.6,2016.5 L3663.7,2009.0 L3673.1,2009.0 L3676.2,2040.7 L3679.3,2049.0 L3682.5,2048.5 L3687.1,2035.3 L3690.3,2042.3 L3693.4,2042.3 L3695.7,2020.4 L3698.8,2027.5 L3702.0,2013.4 L3705.9,2009.0 L3715.2,2009.0 L3718.4,2036.8 L3721.5,2056.3 L3723.8,2056.3 L3726.2,2036.8 L3729.3,2009.0 L3733.2,2009.0 L3737.1,2038.4 L3741.0,2045.4 L3743.3,2041.5 L3748.0,2041.5 L3752.7,2081.3 L3758.9,2078.2 L3760.5,2071.1 L3762.8,2071.1 L3765.2,2086.8 L3769.9,2087.5 L3773.8,2089.9 L3777.7,2089.1 L3783.1,2077.4 L3785.5,2076.6 L3788.6,2082.9 L3793.3,2083.6 L3794.8,2089.9 L3797.9,2089.1 L3799.5,2069.6 L3801.4,2066.5 L3801.7,2078.2 L3803.1,2064.9 L3807.8,2053.2 L3812.5,2050.1 L3817.9,2085.2 L3821.1,2085.2 L3823.4,2071.9 L3828.1,2072.7 L3834.3,2058.7 L3841.4,2051.6 L3843.7,2051.6 L3845.3,2060.2 L3847.6,2060.2 L3849.6,2043.8 L3851.5,2043.8 L3854.6,2056.3 L3861.6,2076.6 L3865.5,2069.6 L3880.4,2098.5 L3882.7,2098.5 L3892.9,2081.3 L3896.8,2085.2 L3904.6,2096.9 L3906.9,2092.2 L3909.2,2092.2 L3912.4,2105.5 L3915.5,2108.6 L3917.8,2107.8 L3919.4,2096.1 L3922.5,2096.9 L3926.4,2106.3 L3931.1,2119.5 L3936.5,2116.4 L3938.9,2101.6 L3943.6,2099.2 L3949.0,2099.2 L3952.2,2096.1 L3956.1,2085.2 L3959.2,2074.3 L3961.5,2048.5 L3964.6,2033.7 L3970.1,2034.5 L3973.2,2044.6 L3978.7,2048.5 L3981.0,2010.3 L3984.1,2020.4 L3987.3,2022.8 L3992.7,2009.0 L4001.3,2009.0 L4005.2,2009.0 L4008.3,2010.3 L4013.8,2011.1 L4017.7,2022.8 L4020.0,2052.4 L4024.7,2062.6 L4026.3,2057.1 L4028.6,2057.1 L4031.7,2064.9 L4039.5,2068.0 L4043.4,2063.3 L4048.1,2066.5 L4050.5,2075.0 L4052.8,2075.0 L4055.9,2065.7 L4059.8,2064.9 L4063.0,2081.3 L4065.3,2081.3 L4069.2,2069.6 L4074.7,2030.6 L4077.0,2032.9 L4079.3,2032.9 L4081.7,2021.2 L4084.8,2033.7 L4089.5,2050.1 L4091.8,2048.5 L4095.7,2066.5 L4100.4,2074.3 L4105.1,2077.4 L4108.2,2071.9 L4112.9,2071.1 L4116.0,2064.9 L4118.4,2066.5 L4122.3,2066.5 L4125.4,2050.1 L4129.3,2021.2 L4132.4,2009.0 L4135.5,2036.8 L4137.9,2036.0 L4143.3,2021.2 L4145.7,2021.2 L4155.0,2047.0 L4157.4,2046.2 L4160.5,2036.0 L4164.4,2018.1 L4169.1,2018.1 L4172.2,2013.4 L4174.5,2009.0 L4179.2,2022.8 L4187.0,2023.6 L4190.1,2030.6 L4194.0,2050.9 L4197.2,2050.1 L4200.0,2054.0 L4206.2,2052.4 L4208.6,2067.2 L4211.7,2072.7 L4216.4,2082.1 L4218.7,2081.3 L4221.8,2079.7 L4224.2,2087.5 L4228.1,2091.4 L4235.9,2103.1 L4238.2,2103.1 L4240.6,2085.2 L4242.9,2086.8 L4248.4,2085.2 L4252.3,2081.3 L4256.2,2080.5 L4260.1,2082.9 L4264.0,2082.9 L4267.9,2079.0 L4271.8,2082.1 L4275.7,2079.7 L4279.6,2081.3 L4284.3,2075.0 L4286.6,2058.7 L4288.2,2058.7 L4290.5,2077.4 L4294.4,2075.8 L4301.4,2087.5 L4309.2,2095.3 L4311.6,2094.6 L4316.3,2073.5 L4318.6,2073.5 L4320.9,2086.8 L4324.8,2093.8 L4330.3,2095.3 L4335.8,2068.8 L4338.9,2068.0 L4341.2,2076.6 L4349.8,2068.8 L4352.2,2051.6 L4354.5,2051.6 L4356.1,2060.2 L4364.6,2064.9 L4368.5,2070.4 L4371.7,2088.3 L4377.1,2090.7 L4388.0,2103.1 L4399.8,2104.7 L4403.7,2107.8 L4406.8,2100.8 L4410.7,2107.8 L4419.3,2112.5 L4423.2,2110.2 L4426.3,2125.0 L4430.2,2125.0 L4433.3,2114.1 L4437.2,2118.0 L4441.9,2111.7 L4445.8,2112.5 L4449.7,2121.9 L4453.6,2120.3 L4457.5,2124.2 L4460.6,2117.2 L4463.7,2121.1 L4466.1,2120.3 L4468.4,2100.0 L4470.8,2099.2 L4475.4,2108.6 L4479.3,2102.4 L4481.7,2101.6 L4484.0,2105.5 L4487.1,2087.5 L4489.5,2086.8 L4492.6,2090.7 L4496.5,2089.9 L4498.8,2066.5 L4500.4,2066.5 L4504.3,2075.8 L4513.7,2089.9 L4516.0,2089.9 L4519.1,2080.5 L4525.4,2022.8 L4526.9,2022.8 L4530.1,2041.5 L4534.0,2049.3 L4537.9,2050.9 L4540.2,2049.3 L4542.5,2050.1 L4545.7,2069.6 L4548.0,2070.4 L4551.1,2064.9 L4554.2,2064.9 L4561.3,2090.7 L4565.9,2096.1 L4573.8,2123.4 L4576.9,2121.1 L4581.6,2119.5 L4587.8,2105.5 L4590.9,2104.7 L4593.3,2108.6 L4595.6,2102.4 L4602.0,2106.3 L4604.0,2105.5 L4607.1,2110.2 L4609.5,2109.4 L4614.1,2097.7 L4616.5,2097.7 L4619.6,2106.3 L4626.6,2103.1 L4630.5,2097.7 L4642.2,2113.3 L4646.1,2133.6 L4653.9,2128.9 L4657.8,2125.0 L4661.0,2134.4 L4663.3,2134.4 L4665.6,2128.1 L4670.3,2130.4 L4675.0,2139.8 L4680.5,2148.4 L4684.4,2150.0 L4692.2,2160.9 L4696.8,2156.2 L4700.0,2149.2 L4704.6,2151.5 L4707.8,2166.3 L4711.7,2165.6 L4715.6,2169.5 L4723.4,2171.0 L4728.1,2167.9 L4731.2,2167.1 L4735.9,2164.0 L4739.8,2170.2 L4742.9,2171.8 L4751.5,2180.4 L4756.9,2158.5 L4760.0,2158.5 L4763.2,2167.1 L4766.3,2181.2 L4769.6,2180.4 L4769.6,2009 L226.2,2009 Z" fill="#424242" fill-opacity="0.5" stroke="none"/>
<path d="M226.2,2022.5 L228.8,2031.9 L232.8,2034.4 L236.9,2042.8 L240.6,2042.2 L244.4,2053.1 L248.4,2060.0 L252.5,2061.6 L256.2,2056.9 L260.0,2078.8 L264.1,2088.1 L268.1,2095.9 L271.9,2085.0 L275.9,2110.0 L279.7,2117.8 L284.4,2124.1 L287.5,2125.6 L291.2,2153.8 L295.3,2156.9 L299.4,2164.7 L303.1,2167.2 L310.9,2173.4 L313.1,2163.8 L315.0,2164.7 L318.8,2181.9 L322.5,2188.1 L325.9,2208.4 L329.1,2199.1 L332.8,2167.8 L338.4,2095.0 L342.2,2100.6 L345.3,2120.9 L349.4,2128.8 L353.1,2144.4 L356.2,2142.8 L360.9,2135.6 L364.1,2090.6 L367.8,2092.8 L372.5,2086.6 L376.6,2044.4 L380.6,2009.0 L386.9,2010.0 L391.2,2035.0 L395.3,2058.4 L399.4,2036.6 L403.1,2009.0 L406.2,2011.6 L410.0,2046.9 L414.1,2038.1 L418.1,2044.4 L421.9,2009.0 L425.0,2025.6 L429.7,2019.4 L434.4,2009.0 L439.1,2010.0 L443.1,2020.9 L446.9,2009.0 L454.7,2009.0 L460.0,2110.0 L464.1,2195.9 L468.1,2191.2 L472.5,2169.4 L476.6,2136.6 L480.6,2147.5 L484.4,2145.9 L487.5,2124.1 L492.2,2108.4 L493.8,2188.1 L501.6,2225.0 L506.2,2210.0 L510.9,2233.4 L515.6,2210.0 L518.8,2200.6 L523.4,2224.1 L526.6,2227.2 L530.6,2246.9 L534.4,2239.7 L542.2,2235.0 L545.3,2205.9 L548.4,2205.3 L553.1,2171.9 L556.2,2175.6 L561.9,2184.1 L564.1,2178.8 L568.1,2192.8 L571.9,2191.2 L582.8,2163.1 L585.9,2164.1 L590.6,2183.4 L595.3,2200.6 L603.1,2231.9 L606.2,2236.6 L614.1,2259.4 L618.8,2267.8 L623.4,2280.3 L627.5,2285.0 L631.2,2286.6 L634.4,2267.2 L638.4,2278.8 L642.2,2277.2 L653.8,2283.4 L657.8,2297.5 L661.9,2298.4 L665.6,2292.8 L673.4,2304.7 L677.5,2304.7 L681.2,2288.8 L685.0,2286.6 L688.4,2278.8 L692.2,2297.5 L694.7,2298.4 L696.9,2294.4 L703.1,2250.6 L711.9,2191.2 L715.6,2189.7 L718.8,2202.2 L721.9,2191.2 L724.4,2130.3 L728.1,2166.2 L731.2,2167.2 L735.0,2216.2 L739.1,2234.1 L742.8,2228.1 L746.9,2228.8 L750.6,2244.4 L754.7,2240.6 L757.8,2245.9 L761.9,2234.1 L766.2,2233.4 L769.7,2202.2 L773.4,2198.4 L777.5,2208.4 L781.2,2200.6 L785.0,2228.8 L789.1,2218.8 L793.1,2253.8 L800.0,2230.9 L804.7,2232.8 L808.8,2228.1 L815.6,2234.1 L820.3,2231.9 L824.4,2177.2 L828.1,2192.8 L839.1,2210.0 L843.1,2214.7 L846.9,2206.2 L850.9,2207.8 L862.5,2188.1 L866.6,2167.2 L871.2,2164.7 L878.1,2189.1 L890.6,2168.4 L895.3,2158.4 L900.0,2140.3 L904.7,2132.5 L907.8,2116.2 L912.5,2099.1 L917.2,2117.8 L931.2,2147.5 L935.9,2169.4 L940.0,2167.8 L947.8,2192.8 L955.6,2219.4 L959.4,2222.5 L963.4,2231.9 L967.2,2233.4 L971.2,2220.9 L978.1,2225.6 L982.8,2220.9 L985.9,2208.4 L990.0,2217.8 L1000.0,2225.0 L1006.2,2223.1 L1014.1,2249.1 L1017.2,2244.4 L1021.2,2250.0 L1025.6,2248.1 L1032.8,2250.0 L1037.5,2256.9 L1040.6,2260.0 L1044.4,2270.9 L1046.2,2264.1 L1049.4,2264.1 L1051.6,2275.6 L1060.3,2275.6 L1064.1,2270.3 L1071.9,2290.6 L1079.7,2304.7 L1083.8,2303.8 L1085.9,2313.8 L1088.4,2313.8 L1090.6,2302.2 L1092.2,2302.8 L1102.5,2328.1 L1106.2,2317.8 L1110.0,2314.7 L1114.1,2303.8 L1118.1,2275.6 L1125.9,2274.1 L1129.7,2284.4 L1133.8,2284.4 L1137.5,2271.9 L1147.5,2251.6 L1150.0,2252.2 L1152.5,2261.6 L1156.2,2267.8 L1164.1,2253.1 L1167.2,2253.8 L1168.8,2259.4 L1171.2,2249.1 L1172.8,2249.7 L1175.0,2256.9 L1177.5,2256.9 L1182.2,2244.4 L1184.4,2245.0 L1187.5,2260.0 L1190.6,2264.7 L1195.3,2278.8 L1199.1,2280.9 L1203.1,2275.0 L1206.2,2277.8 L1210.0,2270.9 L1212.5,2279.7 L1215.6,2279.7 L1218.1,2257.8 L1220.3,2257.8 L1225.6,2264.7 L1228.8,2260.9 L1231.2,2261.6 L1234.4,2271.9 L1245.3,2254.7 L1248.4,2263.1 L1265.0,2283.4 L1268.8,2294.4 L1276.6,2301.6 L1280.6,2301.6 L1287.5,2311.6 L1292.2,2299.1 L1295.3,2295.9 L1299.4,2308.4 L1303.1,2320.3 L1307.8,2315.3 L1310.9,2316.2 L1322.8,2335.0 L1326.6,2334.4 L1330.6,2344.4 L1334.4,2341.2 L1337.5,2341.2 L1342.2,2351.6 L1345.3,2356.2 L1349.4,2356.9 L1354.1,2351.6 L1357.2,2352.2 L1360.9,2360.0 L1365.6,2363.1 L1369.7,2359.1 L1371.9,2364.7 L1374.4,2364.1 L1376.6,2355.3 L1380.6,2359.4 L1384.4,2366.2 L1388.4,2368.8 L1400.0,2363.1 L1406.2,2379.4 L1410.0,2381.2 L1417.2,2381.2 L1423.4,2378.8 L1426.6,2383.4 L1431.2,2378.1 L1434.4,2381.2 L1442.2,2368.8 L1450.0,2378.1 L1453.8,2375.0 L1457.8,2383.4 L1461.9,2381.2 L1468.8,2390.6 L1474.4,2400.6 L1478.1,2399.7 L1482.8,2402.8 L1485.0,2399.1 L1488.4,2410.0 L1490.6,2406.9 L1493.8,2406.9 L1496.9,2417.8 L1501.6,2425.0 L1507.8,2433.8 L1511.9,2434.4 L1515.6,2439.1 L1518.8,2440.0 L1527.5,2453.1 L1531.2,2453.8 L1538.1,2446.2 L1541.2,2456.2 L1546.9,2457.8 L1550.6,2450.9 L1559.4,2466.6 L1562.5,2465.0 L1566.2,2457.2 L1570.3,2463.1 L1574.4,2471.2 L1578.1,2469.4 L1581.9,2461.9 L1589.1,2463.4 L1593.1,2471.9 L1600.6,2459.4 L1604.7,2462.5 L1612.5,2475.6 L1620.3,2479.1 L1631.2,2459.4 L1635.3,2457.8 L1637.5,2449.4 L1640.0,2449.4 L1643.1,2456.2 L1646.9,2452.2 L1658.8,2460.0 L1662.5,2465.0 L1674.4,2483.4 L1681.2,2487.5 L1685.3,2493.8 L1696.9,2495.3 L1701.6,2500.9 L1705.6,2503.8 L1709.4,2503.1 L1713.4,2506.2 L1717.2,2505.6 L1721.2,2500.9 L1725.0,2501.6 L1732.8,2507.8 L1735.9,2496.9 L1740.0,2496.9 L1743.8,2493.1 L1747.8,2492.2 L1751.6,2495.3 L1755.6,2496.9 L1759.4,2492.2 L1763.4,2495.3 L1766.2,2486.9 L1771.2,2485.9 L1775.0,2493.8 L1790.6,2507.8 L1794.7,2507.8 L1798.4,2510.3 L1800.0,2507.8 L1804.7,2511.9 L1809.4,2515.6 L1813.1,2511.9 L1817.2,2513.4 L1821.2,2518.8 L1825.6,2519.7 L1829.7,2513.4 L1832.8,2515.6 L1837.5,2512.5 L1846.9,2485.0 L1849.4,2485.0 L1852.5,2493.8 L1856.2,2495.3 L1859.4,2486.9 L1864.1,2485.0 L1868.1,2498.4 L1871.2,2499.4 L1875.0,2504.7 L1878.8,2501.6 L1890.6,2513.4 L1894.7,2510.3 L1898.4,2510.3 L1902.5,2516.2 L1906.2,2512.5 L1912.5,2514.7 L1918.1,2516.2 L1923.4,2519.7 L1937.5,2525.0 L1945.3,2528.1 L1949.4,2525.9 L1956.2,2528.1 L1962.5,2528.1 L1968.8,2531.2 L1984.4,2533.8 L1987.5,2526.6 L1995.3,2531.2 L2000.0,2535.0 L2009.4,2538.4 L2017.8,2540.6 L2021.9,2537.5 L2025.6,2540.0 L2030.6,2533.8 L2037.5,2530.6 L2041.2,2525.0 L2045.3,2522.8 L2052.5,2528.1 L2056.9,2526.6 L2065.6,2535.9 L2069.4,2539.1 L2072.5,2543.1 L2075.6,2539.1 L2084.4,2547.8 L2087.5,2548.4 L2103.1,2554.1 L2110.9,2543.1 L2115.0,2545.3 L2118.8,2553.1 L2122.8,2556.2 L2126.6,2556.2 L2130.6,2551.6 L2133.8,2552.5 L2138.1,2557.2 L2142.2,2558.4 L2146.2,2565.0 L2154.1,2563.4 L2157.8,2557.8 L2161.9,2562.5 L2164.1,2560.9 L2168.8,2564.1 L2176.6,2549.1 L2180.6,2554.1 L2184.4,2554.1 L2189.1,2557.2 L2196.2,2556.2 L2200.0,2547.8 L2207.2,2549.1 L2210.9,2541.6 L2215.0,2537.5 L2218.8,2527.2 L2231.2,2540.0 L2238.4,2539.1 L2242.2,2543.1 L2246.2,2543.8 L2250.0,2547.8 L2253.8,2547.8 L2257.8,2553.8 L2261.9,2549.4 L2265.6,2550.0 L2269.7,2545.9 L2276.6,2545.3 L2281.2,2538.4 L2285.0,2538.1 L2289.1,2544.7 L2293.8,2547.5 L2300.9,2550.6 L2309.4,2549.4 L2320.3,2546.9 L2327.5,2545.9 L2331.2,2547.8 L2339.1,2545.9 L2343.1,2540.0 L2346.9,2539.1 L2354.1,2526.6 L2357.8,2525.9 L2362.5,2529.1 L2366.2,2520.3 L2370.3,2525.9 L2374.4,2527.2 L2378.1,2510.3 L2389.1,2508.4 L2393.1,2511.6 L2401.6,2504.1 L2405.6,2500.0 L2408.8,2488.4 L2412.5,2476.6 L2415.6,2453.8 L2418.1,2453.8 L2420.3,2462.5 L2423.4,2455.6 L2427.5,2454.1 L2431.2,2470.3 L2435.3,2477.2 L2443.1,2489.7 L2451.6,2496.9 L2454.7,2490.6 L2462.5,2483.4 L2470.3,2490.6 L2471.9,2487.5 L2475.0,2487.5 L2478.1,2500.0 L2481.2,2499.1 L2485.3,2500.0 L2489.1,2497.8 L2493.1,2497.8 L2497.8,2501.6 L2505.6,2500.6 L2509.4,2503.1 L2517.2,2497.8 L2521.2,2500.6 L2528.1,2498.4 L2532.8,2495.3 L2540.0,2492.2 L2543.8,2497.8 L2547.8,2499.1 L2553.1,2494.7 L2556.2,2494.7 L2560.0,2489.1 L2567.2,2493.8 L2571.2,2486.6 L2574.4,2485.0 L2578.1,2486.6 L2582.2,2495.9 L2585.9,2497.5 L2590.0,2499.1 L2593.8,2503.1 L2597.8,2505.3 L2600.0,2505.6 L2605.6,2490.6 L2617.2,2498.4 L2621.2,2493.8 L2625.6,2502.5 L2629.7,2502.5 L2633.8,2499.4 L2648.4,2509.4 L2652.5,2510.0 L2659.4,2514.7 L2664.1,2526.6 L2668.1,2531.2 L2675.0,2514.1 L2682.8,2514.7 L2687.5,2525.9 L2695.3,2534.4 L2699.4,2536.9 L2703.1,2545.3 L2706.9,2542.2 L2710.9,2540.0 L2715.0,2545.9 L2721.9,2551.6 L2725.9,2546.9 L2733.8,2550.0 L2737.5,2547.8 L2741.2,2543.1 L2745.3,2543.8 L2749.4,2538.4 L2753.1,2542.2 L2757.2,2537.5 L2761.9,2529.7 L2765.6,2527.2 L2768.8,2528.1 L2772.8,2523.4 L2775.9,2525.0 L2779.7,2517.2 L2783.8,2523.4 L2787.5,2520.9 L2795.3,2531.2 L2799.4,2531.2 L2803.1,2536.6 L2807.2,2536.6 L2821.9,2548.4 L2845.3,2544.7 L2852.5,2538.4 L2860.9,2541.6 L2865.0,2539.1 L2868.8,2540.0 L2872.5,2534.4 L2876.6,2542.8 L2880.6,2540.6 L2888.1,2532.2 L2892.2,2534.4 L2900.0,2545.3 L2904.7,2542.8 L2910.9,2540.0 L2918.8,2542.8 L2922.8,2539.1 L2926.6,2532.8 L2930.6,2533.4 L2938.1,2536.9 L2950.0,2546.2 L2957.8,2552.2 L2972.8,2553.1 L2977.5,2549.4 L2984.4,2550.9 L2989.1,2559.4 L2995.3,2565.6 L3000.0,2572.5 L3010.9,2572.5 L3015.0,2578.1 L3019.4,2578.8 L3022.5,2561.9 L3026.6,2559.4 L3030.6,2561.6 L3034.4,2560.3 L3038.4,2564.7 L3046.2,2570.3 L3053.8,2566.6 L3057.8,2568.1 L3061.9,2563.4 L3065.6,2564.7 L3073.4,2569.4 L3077.5,2567.8 L3085.0,2570.3 L3089.1,2567.2 L3093.8,2567.2 L3100.0,2558.8 L3103.8,2566.6 L3107.8,2565.6 L3111.9,2567.2 L3115.6,2561.6 L3123.4,2565.6 L3127.5,2563.4 L3139.1,2553.1 L3143.1,2560.3 L3150.0,2558.4 L3154.1,2547.8 L3157.2,2528.8 L3159.4,2528.8 L3162.5,2537.5 L3166.2,2532.8 L3169.7,2534.4 L3173.4,2538.1 L3177.5,2546.2 L3185.9,2542.8 L3189.1,2543.8 L3193.1,2538.4 L3196.9,2541.6 L3200.6,2537.5 L3208.8,2540.0 L3212.5,2534.4 L3216.6,2538.1 L3220.3,2538.1 L3224.4,2535.9 L3228.1,2530.6 L3235.3,2532.2 L3239.1,2527.5 L3243.1,2524.4 L3246.9,2526.6 L3254.7,2524.1 L3258.8,2525.9 L3270.3,2522.5 L3274.4,2528.8 L3282.2,2535.9 L3285.9,2532.2 L3293.8,2534.4 L3297.8,2532.2 L3301.6,2534.4 L3305.6,2530.3 L3317.2,2540.0 L3321.2,2540.0 L3328.1,2542.8 L3335.9,2541.6 L3340.0,2545.3 L3347.8,2547.8 L3351.6,2543.8 L3359.4,2540.0 L3363.4,2535.9 L3371.2,2541.2 L3375.0,2535.9 L3378.1,2535.9 L3382.2,2541.6 L3385.9,2538.1 L3390.0,2539.1 L3393.8,2535.0 L3400.0,2535.9 L3405.6,2536.9 L3417.2,2544.7 L3421.2,2545.3 L3429.7,2539.7 L3433.8,2541.6 L3436.9,2542.2 L3440.6,2539.1 L3464.1,2541.6 L3468.1,2547.5 L3471.9,2550.9 L3475.9,2550.0 L3479.7,2546.2 L3483.8,2549.1 L3487.5,2541.6 L3499.4,2544.7 L3503.1,2552.2 L3510.9,2556.2 L3515.0,2554.1 L3521.9,2555.6 L3525.9,2540.6 L3529.7,2537.5 L3533.8,2547.5 L3541.2,2556.2 L3568.8,2566.6 L3575.9,2563.4 L3579.7,2568.1 L3583.8,2571.9 L3587.5,2577.5 L3591.2,2571.2 L3599.4,2574.1 L3607.2,2564.1 L3610.9,2565.6 L3621.9,2559.4 L3625.6,2555.3 L3629.7,2542.2 L3634.4,2543.1 L3638.4,2545.3 L3641.2,2535.9 L3643.8,2529.7 L3646.9,2530.3 L3649.4,2538.4 L3656.9,2535.9 L3661.9,2528.8 L3668.8,2512.5 L3672.5,2511.9 L3676.6,2525.0 L3680.6,2527.5 L3688.1,2519.7 L3692.2,2525.9 L3695.3,2519.7 L3700.0,2521.2 L3710.9,2494.7 L3713.4,2475.9 L3715.6,2475.9 L3720.3,2492.8 L3722.8,2493.1 L3726.6,2481.2 L3733.8,2466.6 L3738.1,2471.9 L3742.2,2483.8 L3746.2,2485.9 L3750.0,2490.0 L3754.1,2499.1 L3761.9,2497.8 L3765.6,2505.3 L3773.4,2509.4 L3780.6,2509.4 L3784.4,2507.8 L3796.2,2512.5 L3800.0,2504.7 L3807.2,2502.2 L3811.9,2502.5 L3819.4,2518.1 L3823.4,2511.9 L3826.6,2515.6 L3834.4,2509.4 L3842.2,2508.4 L3846.2,2514.1 L3850.0,2508.4 L3854.7,2514.7 L3865.6,2519.4 L3869.7,2523.4 L3881.2,2531.9 L3892.2,2525.9 L3896.9,2528.1 L3915.6,2539.7 L3919.7,2535.0 L3927.5,2541.2 L3931.2,2545.9 L3935.3,2545.3 L3939.1,2540.6 L3950.0,2543.8 L3957.8,2536.9 L3961.9,2527.2 L3966.2,2522.8 L3969.7,2522.8 L3973.4,2528.1 L3977.5,2529.7 L3981.2,2517.2 L3985.0,2518.8 L3989.1,2516.6 L3993.1,2508.8 L3995.0,2512.5 L3998.1,2500.0 L4004.4,2465.6 L4008.4,2460.9 L4010.6,2451.6 L4013.8,2451.6 L4016.9,2459.4 L4020.0,2474.4 L4024.7,2480.6 L4027.8,2477.5 L4031.9,2484.4 L4040.3,2489.7 L4043.4,2487.5 L4051.2,2494.7 L4055.3,2489.1 L4059.1,2490.0 L4063.1,2498.4 L4067.5,2495.3 L4070.9,2484.4 L4073.1,2475.0 L4075.6,2475.0 L4077.8,2479.1 L4080.3,2471.9 L4083.4,2471.9 L4086.6,2482.2 L4090.3,2488.1 L4094.4,2485.9 L4102.2,2497.8 L4105.9,2500.9 L4110.0,2499.1 L4113.8,2501.6 L4117.8,2498.4 L4120.9,2499.4 L4124.7,2493.1 L4127.8,2478.1 L4131.6,2463.4 L4133.4,2463.4 L4136.2,2476.6 L4144.4,2468.1 L4155.9,2483.8 L4160.0,2480.3 L4162.8,2467.2 L4165.3,2466.6 L4167.5,2472.5 L4171.6,2468.1 L4176.2,2471.9 L4179.4,2475.0 L4183.4,2475.0 L4187.2,2475.9 L4191.2,2480.3 L4195.0,2486.9 L4199.1,2487.5 L4205.3,2490.0 L4210.0,2494.7 L4213.8,2494.7 L4217.8,2500.0 L4220.6,2496.9 L4224.7,2502.2 L4236.6,2510.3 L4240.3,2501.6 L4245.0,2504.7 L4255.9,2504.7 L4260.0,2506.9 L4267.5,2506.2 L4283.1,2504.7 L4285.6,2499.4 L4287.8,2499.4 L4290.3,2507.2 L4295.0,2505.6 L4302.8,2510.3 L4307.5,2510.9 L4310.0,2512.5 L4313.8,2504.7 L4317.8,2499.4 L4321.6,2508.8 L4329.4,2509.4 L4333.1,2500.9 L4337.2,2497.8 L4341.2,2504.1 L4348.1,2503.1 L4352.2,2496.9 L4355.9,2501.6 L4366.9,2504.1 L4372.5,2510.3 L4387.2,2517.8 L4391.9,2519.4 L4418.4,2526.6 L4422.5,2526.6 L4426.2,2533.8 L4434.1,2528.1 L4437.2,2529.1 L4445.0,2528.1 L4449.7,2531.9 L4456.9,2532.8 L4460.6,2528.1 L4464.7,2530.6 L4468.4,2520.3 L4476.2,2528.1 L4480.0,2526.6 L4483.4,2530.3 L4487.2,2521.2 L4491.9,2526.6 L4495.9,2526.6 L4498.8,2518.1 L4514.7,2531.2 L4519.4,2527.5 L4524.7,2503.8 L4527.2,2503.8 L4530.0,2512.5 L4537.8,2518.1 L4541.9,2519.7 L4545.9,2529.1 L4549.7,2525.0 L4553.4,2524.1 L4557.5,2533.8 L4565.3,2539.1 L4568.4,2542.2 L4572.5,2546.9 L4576.2,2547.8 L4584.1,2546.9 L4588.1,2545.3 L4591.9,2548.4 L4595.6,2544.4 L4599.7,2547.5 L4603.8,2545.9 L4607.5,2549.1 L4615.3,2542.8 L4619.4,2545.9 L4630.3,2538.1 L4634.1,2541.6 L4641.9,2539.1 L4645.9,2545.9 L4649.7,2548.4 L4653.8,2546.2 L4669.4,2550.6 L4680.9,2558.4 L4691.9,2558.4 L4696.6,2560.9 L4704.4,2561.9 L4707.5,2565.6 L4750.6,2575.0 L4757.5,2569.4 L4762.2,2572.8 L4769.4,2578.1" fill="none" stroke="#a6a6a6" stroke-width="5.2"/>
<path d="M226.2,2014.7 L228.8,2025.6 L232.8,2027.2 L236.9,2034.4 L240.6,2031.9 L244.4,2039.7 L248.4,2042.8 L252.5,2043.4 L256.2,2034.4 L260.0,2049.7 L264.1,2050.6 L268.1,2060.0 L272.5,2049.1 L275.9,2064.7 L279.7,2075.6 L284.4,2081.2 L287.5,2078.8 L291.2,2099.1 L295.3,2102.2 L299.4,2106.9 L303.1,2108.4 L310.9,2114.1 L313.1,2108.4 L315.0,2109.4 L318.8,2120.9 L322.5,2120.9 L325.9,2137.2 L329.1,2129.7 L332.8,2091.2 L336.6,2041.2 L340.0,2040.6 L342.2,2044.4 L345.3,2060.0 L349.4,2066.9 L353.1,2078.1 L356.2,2077.2 L360.9,2067.8 L364.1,2033.4 L367.8,2037.5 L372.5,2031.9 L376.6,2010.0 L381.2,2009.0 L386.9,2009.4 L391.2,2021.9 L395.3,2042.8 L399.4,2022.5 L403.1,2009.0 L406.2,2010.6 L410.0,2035.0 L414.1,2033.4 L418.1,2036.6 L421.9,2009.0 L425.0,2038.1 L429.7,2017.8 L434.4,2009.0 L439.1,2010.0 L443.1,2019.4 L446.9,2009.0 L454.7,2009.0 L460.0,2085.0 L464.1,2156.9 L468.1,2155.3 L472.5,2135.0 L476.6,2116.2 L480.6,2120.9 L484.4,2111.6 L487.5,2091.2 L491.6,2082.8 L493.8,2111.6 L496.2,2146.9 L501.6,2156.9 L506.2,2145.9 L510.9,2166.2 L515.6,2150.6 L518.8,2145.0 L523.4,2165.3 L526.6,2167.2 L530.6,2180.3 L534.4,2173.4 L542.2,2169.4 L545.3,2131.9 L548.4,2137.2 L553.1,2099.1 L556.2,2100.6 L561.9,2111.6 L564.1,2105.3 L568.1,2113.1 L571.9,2111.6 L579.7,2083.4 L585.0,2079.7 L590.6,2099.1 L595.3,2114.7 L603.1,2138.1 L606.2,2141.2 L618.8,2164.1 L623.4,2175.0 L627.5,2178.8 L631.2,2179.7 L634.4,2163.1 L638.4,2170.9 L646.2,2162.2 L650.0,2164.1 L653.8,2164.1 L657.8,2177.2 L661.9,2174.1 L665.6,2166.2 L673.4,2178.1 L677.5,2178.1 L681.2,2164.7 L685.0,2160.0 L688.4,2152.2 L692.2,2174.1 L696.9,2172.5 L703.1,2125.6 L711.9,2067.8 L715.6,2065.6 L718.8,2075.6 L721.2,2014.7 L724.4,2017.8 L727.5,2042.8 L731.2,2045.9 L735.0,2091.2 L739.1,2105.3 L746.9,2103.8 L750.6,2117.2 L754.7,2113.1 L757.8,2117.8 L761.9,2103.8 L766.2,2103.1 L769.7,2070.0 L773.4,2066.9 L777.5,2073.4 L781.2,2066.2 L785.0,2094.4 L789.1,2089.1 L793.1,2121.6 L800.0,2092.8 L804.7,2086.6 L812.5,2083.4 L817.2,2085.9 L820.3,2082.8 L824.4,2041.2 L828.1,2052.2 L835.3,2067.8 L839.1,2067.8 L843.1,2071.6 L846.9,2057.5 L850.9,2058.4 L862.5,2035.0 L867.2,2009.0 L871.2,2009.0 L876.6,2026.6 L881.2,2024.1 L885.9,2009.0 L912.5,2009.0 L915.6,2025.6 L931.2,2050.6 L935.9,2070.9 L940.0,2067.8 L943.8,2074.1 L955.6,2106.9 L959.4,2107.8 L963.4,2116.2 L967.2,2114.7 L971.2,2103.1 L978.1,2103.8 L982.8,2099.1 L985.9,2087.2 L990.0,2093.4 L1000.0,2095.0 L1006.2,2093.8 L1014.1,2117.8 L1017.2,2113.1 L1021.2,2119.4 L1025.6,2116.2 L1032.8,2115.3 L1037.5,2120.3 L1040.6,2121.6 L1044.4,2131.2 L1046.2,2124.1 L1049.4,2124.1 L1051.6,2133.4 L1060.3,2129.4 L1064.1,2127.2 L1068.1,2139.7 L1072.5,2145.3 L1079.7,2152.2 L1083.8,2149.1 L1085.9,2156.2 L1088.4,2156.2 L1090.6,2143.8 L1092.2,2144.4 L1102.5,2169.4 L1106.2,2156.9 L1110.0,2154.7 L1114.1,2142.8 L1118.1,2113.1 L1121.9,2113.1 L1125.9,2111.6 L1129.7,2120.9 L1133.8,2118.8 L1137.5,2102.2 L1141.2,2088.1 L1144.4,2084.4 L1147.5,2075.6 L1150.0,2075.6 L1152.5,2086.6 L1156.2,2091.2 L1164.1,2064.7 L1167.2,2064.7 L1168.8,2071.9 L1171.2,2055.3 L1172.8,2055.3 L1175.0,2064.7 L1177.5,2064.7 L1179.7,2054.4 L1183.8,2053.8 L1195.3,2085.9 L1199.1,2088.1 L1203.1,2085.0 L1206.2,2089.1 L1210.0,2082.8 L1212.5,2091.2 L1215.6,2090.6 L1218.1,2065.6 L1220.3,2064.7 L1225.6,2070.9 L1228.8,2068.8 L1231.2,2069.4 L1232.8,2076.2 L1235.0,2075.6 L1245.3,2058.4 L1260.9,2080.3 L1265.0,2080.3 L1268.8,2092.8 L1276.6,2098.4 L1280.6,2095.9 L1287.5,2103.1 L1292.2,2086.6 L1295.3,2081.9 L1299.4,2091.2 L1302.5,2103.1 L1304.7,2102.2 L1310.9,2094.4 L1314.1,2096.9 L1322.8,2111.6 L1326.6,2112.5 L1330.6,2123.1 L1334.4,2122.5 L1338.1,2125.6 L1345.3,2136.6 L1348.4,2137.2 L1354.1,2130.3 L1357.2,2130.3 L1360.9,2139.7 L1365.6,2142.2 L1368.8,2138.1 L1371.9,2144.4 L1374.4,2143.8 L1376.6,2131.9 L1380.6,2135.6 L1384.4,2143.4 L1388.4,2145.0 L1400.0,2137.2 L1406.2,2156.2 L1409.4,2158.4 L1415.6,2160.9 L1423.4,2158.4 L1426.6,2164.7 L1429.1,2163.8 L1431.2,2157.5 L1434.4,2158.4 L1442.2,2139.1 L1450.0,2145.3 L1453.8,2139.7 L1457.8,2148.4 L1461.9,2141.2 L1468.8,2149.1 L1474.4,2163.8 L1478.1,2160.9 L1482.8,2160.9 L1485.0,2158.4 L1488.4,2168.8 L1490.6,2164.7 L1493.8,2164.7 L1496.9,2178.8 L1501.6,2189.7 L1507.8,2201.6 L1511.9,2200.6 L1515.6,2207.5 L1518.8,2207.5 L1527.5,2225.6 L1531.2,2226.6 L1538.1,2215.6 L1540.0,2216.2 L1542.8,2227.2 L1546.9,2226.6 L1549.1,2217.8 L1551.6,2217.8 L1554.7,2225.0 L1559.4,2237.5 L1564.1,2233.4 L1566.2,2224.1 L1574.4,2241.2 L1578.1,2241.2 L1581.9,2228.8 L1589.1,2229.4 L1591.6,2239.7 L1594.7,2239.7 L1596.9,2227.2 L1600.6,2222.5 L1604.1,2226.2 L1607.8,2239.1 L1611.9,2245.3 L1615.6,2250.6 L1619.7,2253.1 L1635.9,2216.2 L1639.1,2198.4 L1641.2,2198.4 L1643.1,2205.3 L1646.9,2199.7 L1658.8,2206.2 L1666.6,2225.6 L1674.4,2247.5 L1681.2,2249.7 L1685.3,2258.4 L1689.1,2260.0 L1693.1,2256.9 L1696.9,2256.9 L1701.6,2266.2 L1705.6,2270.3 L1709.4,2267.8 L1713.4,2270.9 L1717.2,2270.9 L1725.0,2260.9 L1729.7,2264.1 L1732.2,2269.4 L1736.9,2254.4 L1740.0,2253.1 L1743.8,2242.8 L1747.8,2241.9 L1751.6,2245.3 L1755.6,2245.9 L1757.8,2235.0 L1764.1,2234.1 L1766.2,2226.2 L1771.2,2224.1 L1775.0,2237.5 L1779.1,2239.7 L1783.8,2245.9 L1785.9,2241.9 L1790.6,2252.2 L1794.7,2249.1 L1798.4,2252.8 L1800.0,2250.0 L1804.7,2254.7 L1810.0,2261.6 L1813.1,2256.2 L1817.2,2257.8 L1821.2,2264.1 L1825.6,2265.6 L1829.7,2257.8 L1832.8,2260.6 L1837.5,2252.2 L1846.9,2200.6 L1849.4,2200.6 L1852.5,2217.2 L1856.2,2217.2 L1859.4,2203.8 L1862.5,2199.1 L1865.0,2200.6 L1868.1,2219.4 L1871.9,2219.4 L1875.9,2227.2 L1878.8,2220.9 L1882.8,2227.2 L1886.9,2235.9 L1890.6,2238.1 L1894.7,2233.4 L1898.4,2233.4 L1902.5,2241.2 L1906.2,2233.4 L1923.4,2245.3 L1929.7,2250.6 L1940.6,2252.2 L1945.3,2254.4 L1949.4,2249.1 L1953.1,2251.2 L1964.1,2247.5 L1968.1,2250.6 L1971.9,2251.6 L1975.9,2247.5 L1979.7,2252.8 L1984.4,2252.2 L1987.5,2239.7 L1992.2,2242.2 L2003.1,2254.4 L2006.2,2254.7 L2017.8,2260.6 L2021.9,2254.4 L2025.6,2257.8 L2030.6,2246.6 L2045.3,2223.4 L2052.5,2229.7 L2056.9,2224.1 L2065.0,2237.5 L2068.8,2240.6 L2071.9,2248.1 L2073.4,2243.8 L2077.5,2243.8 L2084.4,2260.0 L2087.5,2260.9 L2095.3,2265.3 L2100.0,2270.9 L2103.1,2270.9 L2106.9,2254.4 L2110.9,2246.9 L2115.0,2253.1 L2118.8,2267.8 L2122.8,2270.9 L2126.6,2269.4 L2130.6,2258.4 L2133.8,2259.4 L2138.1,2268.8 L2142.2,2268.8 L2146.2,2281.9 L2154.1,2280.3 L2156.2,2272.5 L2159.4,2272.5 L2160.9,2276.6 L2164.1,2272.5 L2167.2,2277.2 L2170.3,2276.6 L2175.0,2259.4 L2176.6,2250.6 L2178.1,2250.6 L2180.6,2259.4 L2192.2,2263.1 L2196.2,2260.9 L2200.0,2242.8 L2204.1,2239.7 L2207.2,2239.1 L2210.9,2225.6 L2215.0,2220.9 L2218.1,2197.5 L2220.3,2196.9 L2231.2,2210.0 L2235.3,2207.8 L2238.4,2201.6 L2240.6,2202.2 L2242.2,2206.9 L2245.3,2202.8 L2247.8,2202.8 L2250.0,2212.2 L2253.8,2209.4 L2256.9,2218.8 L2258.8,2218.8 L2261.9,2213.1 L2265.6,2215.3 L2273.4,2201.2 L2276.6,2197.5 L2280.6,2178.8 L2285.0,2175.6 L2289.1,2187.2 L2292.2,2190.3 L2300.9,2195.9 L2304.7,2193.4 L2315.6,2179.7 L2319.7,2180.9 L2323.4,2173.4 L2327.5,2170.3 L2335.9,2167.8 L2340.0,2163.8 L2343.1,2149.7 L2346.9,2145.9 L2350.0,2128.8 L2354.1,2104.7 L2357.8,2103.8 L2361.9,2105.3 L2366.2,2082.8 L2368.8,2089.7 L2374.4,2093.8 L2377.5,2045.9 L2381.2,2036.6 L2385.0,2030.3 L2387.5,2031.2 L2391.6,2042.8 L2395.3,2044.4 L2400.6,2039.7 L2407.8,2009.0 L2414.1,2009.0 L2418.8,2023.4 L2421.2,2023.4 L2424.4,2009.4 L2428.1,2016.2 L2431.2,2035.0 L2434.4,2053.8 L2439.1,2065.6 L2443.1,2077.8 L2446.9,2083.4 L2450.9,2082.5 L2454.7,2068.8 L2458.8,2060.9 L2462.5,2053.8 L2466.6,2054.4 L2468.8,2060.9 L2471.2,2060.9 L2472.8,2050.6 L2475.0,2050.6 L2477.5,2073.4 L2479.7,2074.1 L2484.4,2069.4 L2485.9,2070.0 L2490.0,2063.1 L2493.8,2063.1 L2498.4,2067.8 L2501.6,2068.8 L2505.6,2062.5 L2508.8,2069.4 L2513.4,2060.0 L2517.2,2050.6 L2521.2,2049.7 L2525.0,2051.6 L2529.1,2047.5 L2535.9,2032.8 L2540.0,2025.6 L2545.3,2036.6 L2548.4,2036.6 L2552.5,2028.1 L2556.2,2025.0 L2559.4,2016.2 L2567.2,2018.8 L2571.2,2010.0 L2575.0,2009.4 L2578.1,2014.7 L2581.2,2028.1 L2585.3,2027.2 L2594.7,2040.6 L2598.4,2039.7 L2600.0,2039.2 L2602.3,2033.7 L2604.7,2009.0 L2610.9,2009.0 L2614.0,2018.1 L2619.5,2015.4 L2621.1,2011.8 L2622.6,2012.6 L2625.0,2022.8 L2629.7,2018.9 L2632.8,2011.8 L2636.7,2009.0 L2640.6,2015.0 L2644.5,2021.2 L2646.8,2021.2 L2648.4,2013.4 L2650.7,2038.4 L2653.8,2038.4 L2655.9,2024.3 L2658.1,2025.9 L2662.4,2064.9 L2666.3,2079.0 L2668.7,2079.0 L2672.6,2069.6 L2674.9,2036.8 L2678.8,2021.2 L2681.1,2013.4 L2683.5,2009.0 L2685.0,2044.6 L2689.7,2058.7 L2693.6,2068.0 L2698.3,2074.3 L2701.4,2088.3 L2704.6,2088.6 L2706.9,2082.1 L2710.8,2079.0 L2713.1,2094.6 L2717.0,2092.2 L2720.2,2107.8 L2723.3,2107.8 L2725.6,2092.2 L2730.3,2095.3 L2733.4,2100.5 L2738.1,2098.5 L2745.9,2079.0 L2747.9,2068.0 L2749.8,2049.0 L2751.1,2064.9 L2754.5,2064.9 L2758.4,2050.9 L2762.3,2030.6 L2765.4,2013.4 L2768.5,2009.0 L2771.7,2009.0 L2775.6,2017.3 L2778.7,2009.0 L2782.6,2011.8 L2787.3,2009.0 L2791.9,2015.0 L2796.6,2030.6 L2798.2,2020.4 L2800.5,2019.7 L2802.1,2029.8 L2804.1,2032.1 L2806.0,2025.6 L2815.4,2029.0 L2820.0,2043.1 L2826.3,2049.3 L2831.0,2039.9 L2835.6,2033.7 L2838.0,2032.9 L2841.6,2031.8 L2845.8,2025.9 L2848.9,2011.8 L2853.1,2009.0 L2859.8,2015.0 L2863.0,2015.7 L2869.2,2014.2 L2872.3,2010.3 L2873.9,2011.1 L2875.4,2021.2 L2877.8,2021.2 L2880.1,2009.0 L2890.3,2009.0 L2894.9,2017.3 L2898.1,2035.3 L2901.2,2035.3 L2905.9,2021.2 L2909.8,2010.3 L2914.5,2009.0 L2919.1,2016.8 L2923.0,2009.0 L2938.6,2009.0 L2941.0,2017.3 L2943.3,2017.3 L2945.7,2009.0 L2950.3,2009.0 L2953.5,2018.1 L2955.8,2030.9 L2958.9,2030.9 L2962.0,2023.6 L2965.9,2023.6 L2970.6,2020.4 L2973.0,2021.2 L2975.3,2022.0 L2978.4,2012.6 L2980.8,2009.0 L2984.7,2009.0 L2987.8,2025.9 L2994.8,2048.5 L2999.5,2072.7 L3000.0,2071.9 L3003.9,2070.4 L3006.2,2061.0 L3011.7,2064.1 L3014.0,2079.7 L3017.2,2085.2 L3020.3,2084.4 L3023.4,2029.8 L3026.5,2022.8 L3028.9,2026.7 L3032.0,2025.9 L3035.1,2013.4 L3038.2,2023.6 L3046.0,2041.5 L3050.7,2033.7 L3053.8,2026.7 L3058.5,2025.9 L3062.4,2015.0 L3067.1,2012.6 L3070.2,2009.0 L3071.8,2017.3 L3074.9,2017.3 L3078.0,2010.3 L3099.1,2009.5 L3103.8,2032.1 L3107.7,2029.0 L3113.1,2030.6 L3116.3,2012.6 L3120.9,2011.8 L3128.0,2009.5 L3135.0,2009.0 L3138.1,2013.4 L3142.0,2022.0 L3144.4,2022.0 L3149.8,2010.3 L3156.1,2009.0 L3160.7,2040.7 L3163.9,2040.7 L3166.2,2025.9 L3170.9,2027.5 L3174.8,2036.8 L3177.1,2053.2 L3179.5,2053.2 L3185.7,2038.4 L3188.8,2039.9 L3193.5,2028.2 L3197.4,2028.2 L3201.3,2013.4 L3209.1,2010.3 L3213.8,2011.1 L3220.0,2015.7 L3224.7,2009.0 L3243.4,2009.0 L3248.1,2013.4 L3251.2,2009.0 L3255.1,2017.8 L3258.3,2017.3 L3263.0,2009.0 L3271.5,2010.3 L3274.7,2021.2 L3280.9,2038.4 L3283.2,2038.4 L3285.6,2025.9 L3289.5,2025.9 L3294.2,2022.8 L3298.8,2015.7 L3302.0,2020.4 L3305.9,2017.3 L3308.2,2024.3 L3311.3,2025.1 L3316.0,2039.6 L3323.8,2050.9 L3329.3,2051.6 L3332.4,2050.9 L3335.2,2043.1 L3337.9,2043.1 L3340.2,2054.0 L3346.4,2063.0 L3349.6,2062.6 L3353.5,2052.4 L3356.6,2047.7 L3362.0,2029.8 L3364.4,2022.0 L3366.7,2027.5 L3372.2,2025.1 L3374.5,2011.1 L3379.2,2009.0 L3382.3,2021.2 L3384.7,2021.2 L3388.6,2009.0 L3400.0,2009.5 L3405.5,2015.0 L3409.4,2027.5 L3412.5,2029.0 L3416.4,2035.3 L3421.8,2037.6 L3428.9,2018.9 L3432.8,2021.2 L3439.0,2011.8 L3445.3,2009.0 L3449.9,2011.8 L3456.2,2021.2 L3460.1,2022.0 L3461.6,2016.5 L3465.5,2018.1 L3470.2,2034.5 L3472.6,2033.7 L3476.5,2021.2 L3480.4,2017.3 L3484.3,2017.3 L3486.6,2009.0 L3491.3,2012.6 L3495.2,2011.8 L3499.9,2009.0 L3501.4,2032.1 L3506.1,2043.8 L3510.0,2046.2 L3514.7,2039.2 L3518.6,2038.4 L3520.9,2041.5 L3523.3,2040.7 L3525.6,2013.4 L3528.0,2009.0 L3531.1,2038.4 L3540.4,2064.9 L3542.8,2065.7 L3548.3,2078.2 L3552.2,2072.7 L3556.1,2078.2 L3560.7,2082.9 L3563.9,2091.4 L3568.5,2089.1 L3574.0,2074.3 L3577.1,2074.3 L3579.5,2085.2 L3583.4,2092.2 L3586.5,2106.3 L3588.8,2106.3 L3591.2,2086.8 L3595.1,2083.3 L3599.8,2084.4 L3606.8,2054.0 L3611.5,2049.3 L3617.7,2035.3 L3621.6,2024.3 L3625.5,2013.4 L3630.2,2009.0 L3634.1,2011.1 L3638.0,2014.2 L3641.9,2009.5 L3645.8,2009.0 L3648.1,2032.1 L3650.5,2032.9 L3654.4,2029.0 L3658.3,2023.6 L3660.6,2016.5 L3663.7,2009.0 L3673.1,2009.0 L3676.2,2040.7 L3679.3,2049.0 L3682.5,2048.5 L3687.1,2035.3 L3690.3,2042.3 L3693.4,2042.3 L3695.7,2020.4 L3698.8,2027.5 L3702.0,2013.4 L3705.9,2009.0 L3715.2,2009.0 L3718.4,2036.8 L3721.5,2056.3 L3723.8,2056.3 L3726.2,2036.8 L3729.3,2009.0 L3733.2,2009.0 L3737.1,2038.4 L3741.0,2045.4 L3743.3,2041.5 L3748.0,2041.5 L3752.7,2081.3 L3758.9,2078.2 L3760.5,2071.1 L3762.8,2071.1 L3765.2,2086.8 L3769.9,2087.5 L3773.8,2089.9 L3777.7,2089.1 L3783.1,2077.4 L3785.5,2076.6 L3788.6,2082.9 L3793.3,2083.6 L3794.8,2089.9 L3797.9,2089.1 L3799.5,2069.6 L3801.4,2066.5 L3801.7,2078.2 L3803.1,2064.9 L3807.8,2053.2 L3812.5,2050.1 L3817.9,2085.2 L3821.1,2085.2 L3823.4,2071.9 L3828.1,2072.7 L3834.3,2058.7 L3841.4,2051.6 L3843.7,2051.6 L3845.3,2060.2 L3847.6,2060.2 L3849.6,2043.8 L3851.5,2043.8 L3854.6,2056.3 L3861.6,2076.6 L3865.5,2069.6 L3880.4,2098.5 L3882.7,2098.5 L3892.9,2081.3 L3896.8,2085.2 L3904.6,2096.9 L3906.9,2092.2 L3909.2,2092.2 L3912.4,2105.5 L3915.5,2108.6 L3917.8,2107.8 L3919.4,2096.1 L3922.5,2096.9 L3926.4,2106.3 L3931.1,2119.5 L3936.5,2116.4 L3938.9,2101.6 L3943.6,2099.2 L3949.0,2099.2 L3952.2,2096.1 L3956.1,2085.2 L3959.2,2074.3 L3961.5,2048.5 L3964.6,2033.7 L3970.1,2034.5 L3973.2,2044.6 L3978.7,2048.5 L3981.0,2010.3 L3984.1,2020.4 L3987.3,2022.8 L3992.7,2009.0 L4001.3,2009.0 L4005.2,2009.0 L4008.3,2010.3 L4013.8,2011.1 L4017.7,2022.8 L4020.0,2052.4 L4024.7,2062.6 L4026.3,2057.1 L4028.6,2057.1 L4031.7,2064.9 L4039.5,2068.0 L4043.4,2063.3 L4048.1,2066.5 L4050.5,2075.0 L4052.8,2075.0 L4055.9,2065.7 L4059.8,2064.9 L4063.0,2081.3 L4065.3,2081.3 L4069.2,2069.6 L4074.7,2030.6 L4077.0,2032.9 L4079.3,2032.9 L4081.7,2021.2 L4084.8,2033.7 L4089.5,2050.1 L4091.8,2048.5 L4095.7,2066.5 L4100.4,2074.3 L4105.1,2077.4 L4108.2,2071.9 L4112.9,2071.1 L4116.0,2064.9 L4118.4,2066.5 L4122.3,2066.5 L4125.4,2050.1 L4129.3,2021.2 L4132.4,2009.0 L4135.5,2036.8 L4137.9,2036.0 L4143.3,2021.2 L4145.7,2021.2 L4155.0,2047.0 L4157.4,2046.2 L4160.5,2036.0 L4164.4,2018.1 L4169.1,2018.1 L4172.2,2013.4 L4174.5,2009.0 L4179.2,2022.8 L4187.0,2023.6 L4190.1,2030.6 L4194.0,2050.9 L4197.2,2050.1 L4200.0,2054.0 L4206.2,2052.4 L4208.6,2067.2 L4211.7,2072.7 L4216.4,2082.1 L4218.7,2081.3 L4221.8,2079.7 L4224.2,2087.5 L4228.1,2091.4 L4235.9,2103.1 L4238.2,2103.1 L4240.6,2085.2 L4242.9,2086.8 L4248.4,2085.2 L4252.3,2081.3 L4256.2,2080.5 L4260.1,2082.9 L4264.0,2082.9 L4267.9,2079.0 L4271.8,2082.1 L4275.7,2079.7 L4279.6,2081.3 L4284.3,2075.0 L4286.6,2058.7 L4288.2,2058.7 L4290.5,2077.4 L4294.4,2075.8 L4301.4,2087.5 L4309.2,2095.3 L4311.6,2094.6 L4316.3,2073.5 L4318.6,2073.5 L4320.9,2086.8 L4324.8,2093.8 L4330.3,2095.3 L4335.8,2068.8 L4338.9,2068.0 L4341.2,2076.6 L4349.8,2068.8 L4352.2,2051.6 L4354.5,2051.6 L4356.1,2060.2 L4364.6,2064.9 L4368.5,2070.4 L4371.7,2088.3 L4377.1,2090.7 L4388.0,2103.1 L4399.8,2104.7 L4403.7,2107.8 L4406.8,2100.8 L4410.7,2107.8 L4419.3,2112.5 L4423.2,2110.2 L4426.3,2125.0 L4430.2,2125.0 L4433.3,2114.1 L4437.2,2118.0 L4441.9,2111.7 L4445.8,2112.5 L4449.7,2121.9 L4453.6,2120.3 L4457.5,2124.2 L4460.6,2117.2 L4463.7,2121.1 L4466.1,2120.3 L4468.4,2100.0 L4470.8,2099.2 L4475.4,2108.6 L4479.3,2102.4 L4481.7,2101.6 L4484.0,2105.5 L4487.1,2087.5 L4489.5,2086.8 L4492.6,2090.7 L4496.5,2089.9 L4498.8,2066.5 L4500.4,2066.5 L4504.3,2075.8 L4513.7,2089.9 L4516.0,2089.9 L4519.1,2080.5 L4525.4,2022.8 L4526.9,2022.8 L4530.1,2041.5 L4534.0,2049.3 L4537.9,2050.9 L4540.2,2049.3 L4542.5,2050.1 L4545.7,2069.6 L4548.0,2070.4 L4551.1,2064.9 L4554.2,2064.9 L4561.3,2090.7 L4565.9,2096.1 L4573.8,2123.4 L4576.9,2121.1 L4581.6,2119.5 L4587.8,2105.5 L4590.9,2104.7 L4593.3,2108.6 L4595.6,2102.4 L4602.0,2106.3 L4604.0,2105.5 L4607.1,2110.2 L4609.5,2109.4 L4614.1,2097.7 L4616.5,2097.7 L4619.6,2106.3 L4626.6,2103.1 L4630.5,2097.7 L4642.2,2113.3 L4646.1,2133.6 L4653.9,2128.9 L4657.8,2125.0 L4661.0,2134.4 L4663.3,2134.4 L4665.6,2128.1 L4670.3,2130.4 L4675.0,2139.8 L4680.5,2148.4 L4684.4,2150.0 L4692.2,2160.9 L4696.8,2156.2 L4700.0,2149.2 L4704.6,2151.5 L4707.8,2166.3 L4711.7,2165.6 L4715.6,2169.5 L4723.4,2171.0 L4728.1,2167.9 L4731.2,2167.1 L4735.9,2164.0 L4739.8,2170.2 L4742.9,2171.8 L4751.5,2180.4 L4756.9,2158.5 L4760.0,2158.5 L4763.2,2167.1 L4766.3,2181.2 L4769.6,2180.4" fill="none" stroke="#444444" stroke-width="5.2"/>
<path d="M226.2,2016.2 L228.8,2013.8 L231.2,2009.0 L235.0,2016.9 L239.1,2012.5 L243.8,2015.6 L251.6,2014.1 L256.2,2009.0 L264.1,2009.0 L267.2,2017.8 L271.9,2017.2 L275.9,2028.8 L279.7,2032.5 L284.4,2027.2 L287.5,2021.9 L295.3,2017.8 L299.4,2013.1 L303.1,2013.1 L307.2,2020.3 L310.9,2015.6 L314.1,2023.4 L321.9,2009.0 L325.9,2013.8 L337.5,2009.0 L341.2,2009.0 L345.3,2021.9 L349.4,2016.2 L360.9,2009.4 L368.8,2009.0 L410.0,2009.0 L414.1,2027.2 L418.1,2032.5 L421.9,2024.1 L425.0,2043.8 L427.5,2043.8 L434.4,2033.4 L438.1,2033.4 L446.9,2025.6 L450.0,2009.0 L456.9,2009.0 L461.9,2043.8 L465.0,2052.2 L472.5,2064.7 L481.2,2055.3 L483.8,2035.0 L486.9,2067.8 L489.1,2067.8 L492.2,2044.4 L496.9,2028.1 L500.0,2009.0 L503.1,2009.0 L507.2,2025.6 L510.9,2027.2 L515.0,2047.5 L518.8,2073.4 L522.8,2075.6 L530.6,2056.2 L538.1,2042.2 L542.2,2044.4 L545.3,2009.0 L556.2,2009.0 L560.9,2018.8 L568.8,2009.0 L579.7,2009.0 L584.4,2014.7 L588.4,2009.0 L592.2,2020.3 L596.9,2013.8 L600.0,2013.1 L603.1,2021.9 L606.2,2021.6 L615.6,2009.1 L623.4,2012.5 L627.5,2009.4 L634.4,2009.4 L638.4,2013.1 L643.8,2009.0 L654.7,2009.0 L659.4,2014.7 L664.1,2009.0 L668.8,2014.7 L677.5,2017.2 L685.9,2009.0 L689.1,2009.0 L695.3,2035.0 L698.4,2035.0 L703.8,2009.0 L720.3,2009.0 L724.4,2020.9 L731.2,2031.9 L739.1,2032.8 L742.8,2041.9 L754.7,2033.4 L759.4,2021.9 L766.2,2016.2 L769.7,2009.0 L777.5,2009.0 L781.2,2013.1 L785.0,2025.0 L789.1,2039.7 L793.8,2043.4 L800.0,2009.0 L804.1,2009.0 L808.8,2017.8 L812.5,2009.0 L820.3,2009.0 L824.4,2042.8 L832.8,2035.6 L835.9,2040.3 L846.9,2009.0 L890.6,2009.0 L893.8,2016.9 L900.0,2009.0 L912.5,2009.0 L917.2,2017.8 L924.4,2023.1 L932.2,2021.9 L935.9,2034.4 L962.5,2009.0 L1000.0,2009.0 L1006.2,2009.4 L1010.0,2015.6 L1014.1,2016.9 L1017.2,2014.7 L1021.2,2018.8 L1025.6,2013.8 L1032.8,2009.0 L1064.1,2009.0 L1068.1,2014.7 L1071.9,2009.0 L1093.8,2009.0 L1098.4,2014.7 L1102.5,2015.3 L1106.2,2009.0 L1109.4,2013.1 L1118.1,2009.0 L1121.9,2012.5 L1125.9,2009.0 L1141.2,2009.0 L1143.8,2018.8 L1146.2,2018.8 L1149.4,2009.0 L1164.1,2009.0 L1168.8,2015.6 L1171.2,2009.4 L1175.0,2017.8 L1177.5,2013.1 L1179.7,2013.8 L1182.2,2025.6 L1185.3,2026.2 L1195.3,2009.0 L1199.1,2013.8 L1203.1,2025.6 L1207.2,2029.7 L1215.0,2024.1 L1218.8,2012.5 L1222.5,2009.4 L1226.6,2013.1 L1230.3,2013.8 L1234.4,2015.6 L1239.1,2009.4 L1242.2,2009.0 L1265.0,2009.0 L1268.8,2011.6 L1272.5,2012.5 L1276.6,2009.0 L1300.0,2009.0 L1302.5,2018.8 L1304.7,2017.8 L1307.8,2009.0 L1318.8,2009.0 L1334.4,2031.9 L1337.5,2041.2 L1340.0,2041.2 L1342.2,2035.0 L1353.1,2024.1 L1357.8,2018.8 L1361.9,2025.6 L1368.8,2024.1 L1372.8,2026.2 L1376.6,2015.6 L1380.6,2014.7 L1384.4,2018.8 L1389.1,2017.8 L1393.1,2014.7 L1396.2,2015.3 L1400.0,2009.0 L1404.1,2014.1 L1407.8,2025.0 L1411.9,2028.8 L1423.4,2035.0 L1426.6,2042.8 L1429.1,2042.8 L1434.4,2031.9 L1439.1,2025.6 L1442.2,2009.0 L1468.8,2009.0 L1471.9,2020.3 L1475.0,2020.9 L1481.2,2009.0 L1485.0,2009.4 L1488.4,2015.6 L1492.2,2010.0 L1496.2,2017.8 L1507.8,2039.7 L1511.9,2036.6 L1515.6,2038.1 L1518.8,2034.1 L1528.1,2045.9 L1531.2,2045.9 L1538.1,2027.8 L1541.2,2028.1 L1542.8,2034.1 L1546.9,2028.1 L1550.6,2016.2 L1554.7,2014.7 L1557.8,2016.2 L1561.9,2009.0 L1566.2,2009.0 L1569.7,2010.9 L1576.6,2025.6 L1579.7,2025.6 L1585.0,2016.2 L1589.1,2014.7 L1591.6,2025.0 L1594.7,2025.0 L1596.9,2009.0 L1604.1,2009.0 L1607.8,2016.9 L1611.9,2017.8 L1615.6,2028.1 L1625.0,2025.6 L1628.8,2023.1 L1635.3,2009.0 L1658.8,2009.0 L1662.5,2011.6 L1666.6,2017.8 L1670.3,2036.6 L1674.4,2037.5 L1682.2,2010.9 L1685.9,2009.1 L1695.3,2009.0 L1700.0,2015.3 L1705.6,2017.2 L1709.4,2010.9 L1713.4,2009.4 L1717.2,2013.1 L1721.2,2012.5 L1725.0,2009.0 L1732.2,2011.6 L1740.0,2009.0 L1743.8,2009.4 L1747.8,2011.6 L1751.6,2009.0 L1771.2,2009.0 L1773.4,2017.8 L1775.9,2017.8 L1779.7,2009.0 L1787.5,2009.0 L1790.6,2014.7 L1794.7,2009.0 L1797.8,2010.0 L1800.0,2016.2 L1804.7,2010.6 L1817.2,2009.0 L1825.6,2010.0 L1829.7,2009.0 L1846.9,2009.0 L1850.9,2020.9 L1853.1,2020.9 L1860.9,2009.0 L1864.1,2009.0 L1868.1,2020.3 L1875.9,2009.4 L1879.7,2009.0 L2014.1,2009.0 L2017.2,2015.6 L2019.4,2015.6 L2022.5,2009.0 L2037.5,2009.0 L2040.6,2015.6 L2043.1,2015.6 L2046.2,2009.0 L2060.9,2009.0 L2065.0,2015.6 L2068.1,2010.9 L2071.2,2016.2 L2073.4,2012.5 L2076.6,2013.1 L2079.7,2029.7 L2084.4,2028.8 L2087.5,2030.3 L2092.2,2024.1 L2098.4,2040.6 L2100.9,2040.6 L2104.7,2027.2 L2107.8,2009.0 L2110.9,2009.0 L2118.8,2025.0 L2122.8,2025.6 L2130.6,2009.0 L2133.8,2009.0 L2138.1,2016.2 L2142.2,2014.7 L2150.0,2033.4 L2157.8,2025.0 L2159.4,2028.8 L2161.9,2028.8 L2165.0,2010.9 L2166.6,2010.9 L2168.1,2020.3 L2170.3,2020.3 L2173.4,2009.0 L2176.6,2009.0 L2182.8,2015.6 L2185.9,2015.6 L2187.5,2010.0 L2191.2,2023.4 L2196.2,2022.5 L2200.0,2009.0 L2209.4,2010.0 L2214.1,2016.9 L2216.6,2016.2 L2219.7,2009.0 L2245.3,2009.0 L2248.4,2020.3 L2250.9,2020.3 L2253.1,2010.9 L2256.2,2020.3 L2258.8,2020.3 L2262.5,2014.7 L2265.6,2015.6 L2270.3,2009.0 L2366.2,2009.0 L2374.4,2014.7 L2378.1,2009.0 L2387.5,2009.0 L2391.6,2031.9 L2393.1,2040.6 L2396.9,2045.3 L2400.6,2040.6 L2407.8,2009.0 L2410.9,2009.4 L2412.5,2016.2 L2414.7,2016.2 L2417.2,2009.0 L2424.4,2009.0 L2431.2,2020.3 L2435.3,2025.6 L2439.1,2028.8 L2442.2,2035.0 L2445.3,2034.4 L2450.9,2014.7 L2454.7,2009.0 L2465.6,2009.0 L2469.7,2012.2 L2473.4,2009.4 L2477.5,2014.1 L2482.2,2009.0 L2520.3,2009.0 L2525.0,2022.5 L2529.1,2020.0 L2532.8,2009.0 L2543.8,2009.0 L2546.9,2015.6 L2549.4,2015.6 L2552.5,2009.0 L2579.7,2009.0 L2583.8,2014.7 L2585.9,2010.9 L2590.6,2020.3 L2596.9,2010.9 L2600.0,2009.0 L2610.9,2009.0 L2614.0,2015.0 L2617.9,2009.0 L2636.7,2009.0 L2640.6,2014.2 L2644.5,2009.0 L2648.4,2009.0 L2650.7,2038.4 L2653.8,2038.4 L2655.9,2023.6 L2658.1,2020.1 L2660.9,2021.2 L2666.3,2061.8 L2668.7,2064.9 L2672.6,2061.0 L2674.9,2019.7 L2678.8,2009.0 L2683.5,2009.0 L2687.4,2032.1 L2691.3,2049.3 L2694.4,2054.0 L2699.9,2060.2 L2702.2,2068.8 L2704.6,2068.8 L2706.9,2060.2 L2710.8,2058.2 L2713.9,2072.7 L2718.6,2075.0 L2720.2,2087.5 L2723.3,2087.5 L2725.6,2068.8 L2730.3,2071.9 L2733.4,2077.9 L2737.3,2078.2 L2744.4,2055.5 L2746.7,2038.4 L2747.9,2022.8 L2749.8,2022.8 L2751.7,2039.6 L2754.2,2039.6 L2756.1,2026.7 L2760.0,2009.0 L2771.7,2009.0 L2775.6,2016.5 L2778.7,2010.3 L2781.0,2011.8 L2782.6,2020.4 L2784.9,2020.4 L2787.3,2011.1 L2789.6,2017.3 L2794.8,2035.3 L2798.2,2031.8 L2801.6,2044.6 L2804.4,2044.9 L2806.8,2037.6 L2811.5,2037.3 L2815.0,2032.4 L2817.7,2044.6 L2826.3,2055.5 L2831.0,2050.1 L2834.1,2040.2 L2838.0,2036.5 L2841.6,2034.9 L2845.8,2027.5 L2848.9,2011.8 L2853.1,2009.0 L2859.8,2015.0 L2863.0,2015.7 L2869.2,2014.2 L2872.3,2010.3 L2873.9,2011.1 L2875.4,2019.7 L2877.8,2019.7 L2880.1,2009.0 L2896.5,2009.0 L2898.1,2025.6 L2901.2,2025.6 L2903.5,2011.8 L2908.2,2009.0 L2914.5,2009.0 L2919.1,2016.8 L2923.0,2009.0 L2938.6,2009.0 L2941.0,2017.3 L2943.3,2017.3 L2945.7,2009.0 L2950.3,2009.0 L2954.2,2010.3 L2955.8,2023.6 L2958.9,2023.6 L2961.7,2015.7 L2965.2,2014.2 L2969.1,2009.0 L2973.8,2013.1 L2976.9,2009.0 L2984.7,2009.0 L2987.8,2025.1 L2994.8,2047.7 L2999.5,2071.1 L3000.0,2071.1 L3003.9,2069.6 L3006.2,2060.2 L3011.7,2063.3 L3014.0,2079.0 L3017.2,2084.4 L3020.3,2083.6 L3023.4,2029.0 L3026.5,2022.0 L3028.9,2025.9 L3032.0,2025.1 L3034.3,2009.0 L3038.2,2009.5 L3041.4,2015.0 L3046.8,2018.1 L3053.8,2009.0 L3057.7,2011.8 L3061.6,2009.0 L3101.4,2009.0 L3105.3,2014.2 L3109.2,2013.4 L3113.1,2009.0 L3124.1,2009.0 L3128.0,2019.7 L3135.0,2009.0 L3139.7,2015.0 L3143.6,2009.0 L3158.4,2009.0 L3160.7,2020.4 L3163.9,2020.4 L3167.0,2009.0 L3189.6,2009.0 L3193.5,2014.2 L3197.4,2009.0 L3216.1,2009.0 L3220.0,2015.7 L3224.7,2009.0 L3251.2,2009.0 L3255.1,2017.8 L3258.3,2017.3 L3263.0,2009.0 L3271.5,2009.0 L3277.8,2010.3 L3282.5,2012.6 L3286.4,2009.0 L3302.0,2009.0 L3305.9,2017.3 L3309.0,2018.9 L3311.3,2011.1 L3313.7,2011.1 L3319.1,2036.8 L3323.8,2040.7 L3330.1,2039.2 L3334.0,2025.9 L3337.1,2025.9 L3343.3,2043.1 L3348.0,2044.6 L3351.9,2039.6 L3362.0,2009.0 L3366.7,2013.4 L3372.2,2009.0 L3379.2,2009.0 L3382.3,2021.2 L3384.7,2021.2 L3388.6,2009.0 L3400.0,2009.0 L3405.5,2009.0 L3409.4,2022.8 L3414.0,2024.3 L3421.1,2025.9 L3425.0,2011.1 L3428.9,2009.0 L3445.3,2009.0 L3449.9,2011.8 L3456.2,2021.2 L3460.1,2022.0 L3461.6,2016.5 L3465.5,2017.3 L3468.7,2028.2 L3471.8,2030.6 L3474.9,2015.0 L3479.6,2011.1 L3485.8,2009.0 L3491.3,2012.6 L3495.2,2011.8 L3499.9,2009.0 L3502.2,2024.3 L3506.1,2030.6 L3510.0,2032.1 L3518.6,2022.0 L3520.9,2026.7 L3523.3,2025.9 L3525.6,2009.0 L3530.3,2009.0 L3534.2,2035.3 L3539.7,2048.5 L3541.2,2046.2 L3545.9,2046.2 L3547.5,2067.2 L3550.6,2067.2 L3552.9,2048.5 L3555.3,2043.1 L3558.4,2043.8 L3560.7,2054.0 L3563.1,2053.2 L3568.5,2047.0 L3572.4,2035.3 L3575.6,2020.4 L3577.9,2019.7 L3579.5,2025.9 L3585.7,2015.7 L3591.2,2009.0 L3645.8,2009.0 L3648.1,2020.4 L3651.2,2021.2 L3655.1,2017.3 L3658.3,2016.5 L3662.2,2009.0 L3673.1,2009.0 L3676.2,2040.7 L3679.3,2049.0 L3682.5,2048.5 L3687.1,2035.3 L3690.3,2027.5 L3692.6,2031.4 L3695.7,2009.0 L3699.6,2011.1 L3708.2,2009.0 L3715.2,2009.0 L3718.4,2030.6 L3721.5,2043.1 L3724.6,2042.3 L3727.7,2009.0 L3733.2,2009.0 L3737.1,2038.4 L3740.2,2039.9 L3745.7,2023.6 L3747.2,2009.0 L3751.1,2011.8 L3753.5,2051.6 L3755.8,2051.6 L3760.5,2009.0 L3784.7,2009.0 L3787.8,2025.9 L3790.1,2027.5 L3793.3,2025.1 L3798.7,2029.0 L3801.1,2010.3 L3801.4,2009.0 L3811.7,2009.0 L3814.8,2027.5 L3817.9,2032.1 L3821.1,2031.4 L3823.4,2011.1 L3827.3,2010.3 L3842.1,2009.0 L3846.8,2017.3 L3849.6,2010.3 L3852.3,2011.8 L3857.0,2043.8 L3862.4,2047.0 L3865.5,2033.7 L3867.9,2032.9 L3881.1,2058.7 L3888.2,2047.0 L3893.6,2035.3 L3896.8,2036.0 L3905.3,2045.4 L3906.9,2036.0 L3909.2,2036.0 L3912.4,2050.1 L3915.5,2054.0 L3917.8,2053.2 L3919.4,2032.9 L3928.0,2039.9 L3931.1,2052.4 L3936.5,2049.3 L3938.9,2030.6 L3943.6,2025.1 L3954.5,2009.0 L3967.0,2010.3 L3974.0,2013.4 L3981.8,2009.0 L3984.9,2025.9 L3990.4,2026.7 L3993.5,2041.5 L3995.8,2066.5 L3999.0,2066.5 L4001.3,2009.0 L4005.2,2009.0 L4008.3,2021.2 L4011.5,2022.0 L4013.8,2017.3 L4016.1,2018.9 L4020.0,2052.4 L4024.7,2051.6 L4027.8,2043.8 L4032.5,2048.5 L4040.3,2044.6 L4044.2,2040.7 L4048.1,2040.7 L4050.5,2050.1 L4054.4,2050.9 L4058.3,2041.5 L4062.2,2043.8 L4063.7,2053.2 L4065.3,2053.2 L4073.9,2010.3 L4077.0,2017.3 L4080.1,2018.1 L4082.5,2009.5 L4091.8,2038.4 L4094.2,2036.8 L4102.0,2058.7 L4115.2,2029.0 L4117.6,2029.0 L4119.9,2038.4 L4122.3,2038.4 L4124.6,2018.1 L4128.5,2009.0 L4132.4,2009.0 L4135.5,2021.2 L4138.6,2020.4 L4144.1,2009.0 L4151.1,2009.0 L4155.0,2025.1 L4158.1,2025.1 L4160.5,2012.6 L4164.4,2009.5 L4187.8,2009.0 L4194.8,2022.8 L4198.7,2021.2 L4200.0,2021.2 L4203.9,2011.1 L4206.2,2011.1 L4212.5,2058.7 L4215.6,2059.4 L4225.7,2052.4 L4228.1,2043.8 L4230.4,2043.8 L4232.8,2047.0 L4237.5,2047.0 L4240.6,2023.6 L4244.5,2018.1 L4248.4,2015.7 L4251.5,2009.0 L4260.1,2009.0 L4264.0,2011.8 L4267.9,2009.0 L4271.0,2018.9 L4273.3,2018.9 L4276.5,2013.4 L4287.4,2009.0 L4289.7,2029.0 L4294.4,2029.0 L4310.0,2052.4 L4311.6,2052.4 L4316.3,2039.9 L4318.6,2039.9 L4321.7,2048.5 L4328.7,2059.4 L4331.1,2059.4 L4334.2,2043.1 L4344.4,2016.5 L4352.2,2009.0 L4356.1,2011.8 L4364.6,2015.0 L4368.5,2029.0 L4371.7,2051.6 L4374.0,2052.4 L4376.3,2050.1 L4380.2,2050.9 L4383.4,2045.4 L4387.3,2052.4 L4398.2,2041.5 L4403.7,2037.6 L4406.8,2028.2 L4410.7,2032.9 L4416.9,2028.2 L4420.8,2019.7 L4423.2,2019.7 L4428.6,2037.6 L4431.0,2037.6 L4434.1,2026.7 L4437.2,2029.8 L4441.9,2020.4 L4445.8,2022.0 L4449.7,2028.2 L4453.6,2024.3 L4458.3,2029.8 L4463.7,2036.8 L4466.1,2036.0 L4469.2,2018.1 L4472.3,2009.0 L4479.3,2009.0 L4484.0,2011.1 L4491.8,2009.0 L4499.6,2009.0 L4503.5,2016.5 L4506.6,2016.5 L4512.1,2018.9 L4515.2,2019.7 L4518.4,2009.0 L4523.0,2009.0 L4530.8,2014.2 L4534.7,2012.6 L4538.6,2009.0 L4542.5,2009.0 L4545.7,2028.2 L4549.6,2026.7 L4553.5,2032.9 L4555.8,2032.1 L4558.9,2026.7 L4562.8,2027.5 L4566.7,2036.0 L4569.1,2043.8 L4572.2,2059.4 L4574.5,2059.4 L4577.7,2045.4 L4581.6,2038.4 L4587.8,2015.7 L4590.1,2012.6 L4593.3,2014.2 L4602.0,2009.0 L4604.0,2015.7 L4615.7,2009.0 L4619.6,2016.5 L4622.7,2032.1 L4627.4,2032.1 L4630.5,2042.3 L4633.6,2042.3 L4635.2,2038.4 L4639.1,2051.6 L4641.4,2080.5 L4645.3,2092.2 L4647.7,2092.2 L4650.0,2076.6 L4653.9,2082.1 L4657.1,2073.5 L4659.4,2073.5 L4661.7,2082.9 L4664.1,2082.9 L4666.4,2075.0 L4669.5,2075.0 L4673.4,2085.2 L4678.9,2089.9 L4682.8,2092.2 L4685.9,2093.0 L4691.4,2107.8 L4693.7,2107.8 L4700.7,2086.8 L4704.6,2089.9 L4707.8,2105.5 L4711.7,2106.3 L4719.5,2112.5 L4723.4,2113.3 L4728.1,2110.2 L4731.2,2110.2 L4735.1,2107.8 L4739.8,2114.8 L4751.5,2126.5 L4756.9,2103.9 L4760.0,2103.9 L4763.2,2111.7 L4766.3,2128.1 L4769.6,2129.7" fill="none" stroke="#0028ff" stroke-width="6.25"/>
</g>
<line x1="3947.2" x2="3947.2" y1="2610" y2="1977" stroke="#000" stroke-width="6.25" stroke-dasharray="8.6 9.4"/>
<line x1="223.45" x2="223.45" y1="1977" y2="2610" stroke="#000" stroke-width="3.1"/>
<g style="filter:grayscale(1)">
<text x="48" y="81.2" font-family="Liberation Sans, Arial, sans-serif" font-size="66.7" font-weight="bold" textLength="2226" lengthAdjust="spacingAndGlyphs">Liquid Asset Classes vs. Stock Market // Annual Rebalancing Dec. (AR)</text>
<text x="48" y="166.5" font-family="Liberation Sans, Arial, sans-serif" font-size="41.7" textLength="3229.5" lengthAdjust="spacingAndGlyphs">Sample Period: 1927-06-30 to 2025-06-30. Total Returns in USD (incl. Reinvestment of Distributions). Relative Returns / Geometric Differences of Portfolios vs. Stock Market.</text>
<text x="48" y="253.2" font-family="Liberation Sans, Arial, sans-serif" font-size="41.7" textLength="4528.4" lengthAdjust="spacingAndGlyphs">Data: Kenneth R. French Data Library, Morningstar "Stocks, Bonds, Bills, and Inflation" via CFA Investment Data Alliance, AQR Data Sets, Investing.com, iShares ETFs (TLT, LQD, IQQW, IUSQ, GSG, EXXY). See Asset Class Charts for Details.</text>
<text x="48" y="337.8" font-family="Liberation Sans, Arial, sans-serif" font-size="41.7" textLength="3935.6" lengthAdjust="spacingAndGlyphs">Portfolio = 50% Stocks + 20% Gov. Bonds + 20% Corp. Bonds + 10% Commodities. Risk (Volatility) from Rolling 12/24/36-Month Estimation Windows. Assumed Cost of Leverage: Risk-Free Rate + 2.0% per year.</text>
<text x="457" y="482.2" font-family="Liberation Sans, Arial, sans-serif" font-size="47.9" textLength="528.3" lengthAdjust="spacing">Liquid Asset Classes AR</text>
<text x="457" y="544.5" font-family="Liberation Sans, Arial, sans-serif" font-size="47.9" textLength="890.1" lengthAdjust="spacing">-1.0% CAGR / 1 USD becomes 0.37 USD</text>
<text x="457" y="606.8" font-family="Liberation Sans, Arial, sans-serif" font-size="47.9" textLength="551.2" lengthAdjust="spacing">9.1% Annualized Volatility</text>
<text x="457" y="740.3" font-family="Liberation Sans, Arial, sans-serif" font-size="47.9" textLength="1048.7" lengthAdjust="spacing">Liquid Asset Classes AR - 125% Leverage Gross</text>
<text x="457" y="802.6" font-family="Liberation Sans, Arial, sans-serif" font-size="47.9" textLength="874.4" lengthAdjust="spacing">2.1% CAGR / 1 USD becomes 7.46 USD</text>
<text x="457" y="864.9" font-family="Liberation Sans, Arial, sans-serif" font-size="47.9" textLength="551.2" lengthAdjust="spacing">7.4% Annualized Volatility</text>
<text x="457" y="998.7" font-family="Liberation Sans, Arial, sans-serif" font-size="47.9" textLength="1050.9" lengthAdjust="spacing">Liquid Asset Classes AR - Levered to Equity Risk</text>
<text x="457" y="1061.0" font-family="Liberation Sans, Arial, sans-serif" font-size="47.9" textLength="1218.7" lengthAdjust="spacing">Average Leverage: 172% Gross (Min: 111%, Max: 232%)</text>
<text x="457" y="1123.3" font-family="Liberation Sans, Arial, sans-serif" font-size="47.9" textLength="928.4" lengthAdjust="spacing">7.2% CAGR / 1 USD becomes 884.23 USD</text>
<text x="457" y="1185.6" font-family="Liberation Sans, Arial, sans-serif" font-size="47.9" textLength="551.0" lengthAdjust="spacing">6.1% Annualized Volatility</text>
<text x="3926.4" y="437.8" font-family="Liberation Sans, Arial, sans-serif" font-size="47.9" font-weight="bold" text-anchor="end" textLength="492.8" lengthAdjust="spacing">Backtest / Partial ETF</text>
<text x="3968.7" y="437.8" font-family="Liberation Sans, Arial, sans-serif" font-size="47.9" font-weight="bold">Full ETF</text>
<text x="213" y="490.4" font-family="Liberation Sans, Arial, sans-serif" font-size="47.9" text-anchor="end">1,000</text>
<text x="213" y="875.0" font-family="Liberation Sans, Arial, sans-serif" font-size="47.9" text-anchor="end">100</text>
<text x="213" y="1259.5" font-family="Liberation Sans, Arial, sans-serif" font-size="47.9" text-anchor="end">10</text>
<text x="213" y="1644.1" font-family="Liberation Sans, Arial, sans-serif" font-size="47.9" text-anchor="end">1</text>
<text x="342.7" y="1916.5" font-family="Liberation Sans, Arial, sans-serif" font-size="47.9" text-anchor="middle">1930</text>
<text x="342.7" y="2661" font-family="Liberation Sans, Arial, sans-serif" font-size="47.9" text-anchor="middle">1930</text>
<text x="806.3" y="1916.5" font-family="Liberation Sans, Arial, sans-serif" font-size="47.9" text-anchor="middle">1940</text>
<text x="806.3" y="2661" font-family="Liberation Sans, Arial, sans-serif" font-size="47.9" text-anchor="middle">1940</text>
<text x="1269.9" y="1916.5" font-family="Liberation Sans, Arial, sans-serif" font-size="47.9" text-anchor="middle">1950</text>
<text x="1269.9" y="2661" font-family="Liberation Sans, Arial, sans-serif" font-size="47.9" text-anchor="middle">1950</text>
<text x="1733.5" y="1916.5" font-family="Liberation Sans, Arial, sans-serif" font-size="47.9" text-anchor="middle">1960</text>
<text x="1733.5" y="2661" font-family="Liberation Sans, Arial, sans-serif" font-size="47.9" text-anchor="middle">1960</text>
<text x="2197.1" y="1916.5" font-family="Liberation Sans, Arial, sans-serif" font-size="47.9" text-anchor="middle">1970</text>
<text x="2197.1" y="2661" font-family="Liberation Sans, Arial, sans-serif" font-size="47.9" text-anchor="middle">1970</text>
<text x="2660.7" y="1916.5" font-family="Liberation Sans, Arial, sans-serif" font-size="47.9" text-anchor="middle">1980</text>
<text x="2660.7" y="2661" font-family="Liberation Sans, Arial, sans-serif" font-size="47.9" text-anchor="middle">1980</text>
<text x="3124.3" y="1916.5" font-family="Liberation Sans, Arial, sans-serif" font-size="47.9" text-anchor="middle">1990</text>
<text x="3124.3" y="2661" font-family="Liberation Sans, Arial, sans-serif" font-size="47.9" text-anchor="middle">1990</text>
<text x="3587.9" y="1916.5" font-family="Liberation Sans, Arial, sans-serif" font-size="47.9" text-anchor="middle">2000</text>
<text x="3587.9" y="2661" font-family="Liberation Sans, Arial, sans-serif" font-size="47.9" text-anchor="middle">2000</text>
<text x="4051.5" y="1916.5" font-family="Liberation Sans, Arial, sans-serif" font-size="47.9" text-anchor="middle">2010</text>
<text x="4051.5" y="2661" font-family="Liberation Sans, Arial, sans-serif" font-size="47.9" text-anchor="middle">2010</text>
<text x="4515.1" y="1916.5" font-family="Liberation Sans, Arial, sans-serif" font-size="47.9" text-anchor="middle">2020</text>
<text x="4515.1" y="2661" font-family="Liberation Sans, Arial, sans-serif" font-size="47.9" text-anchor="middle">2020</text>
<text x="213" y="2025.0" font-family="Liberation Sans, Arial, sans-serif" font-size="47.9" text-anchor="end">0%</text>
<text x="213" y="2168.9" font-family="Liberation Sans, Arial, sans-serif" font-size="47.9" text-anchor="end">−20%</text>
<text x="213" y="2312.9" font-family="Liberation Sans, Arial, sans-serif" font-size="47.9" text-anchor="end">−40%</text>
<text x="213" y="2456.8" font-family="Liberation Sans, Arial, sans-serif" font-size="47.9" text-anchor="end">−60%</text>
<text x="213" y="2600.8" font-family="Liberation Sans, Arial, sans-serif" font-size="47.9" text-anchor="end">−80%</text>
</g>
</svg>
</body></html>
